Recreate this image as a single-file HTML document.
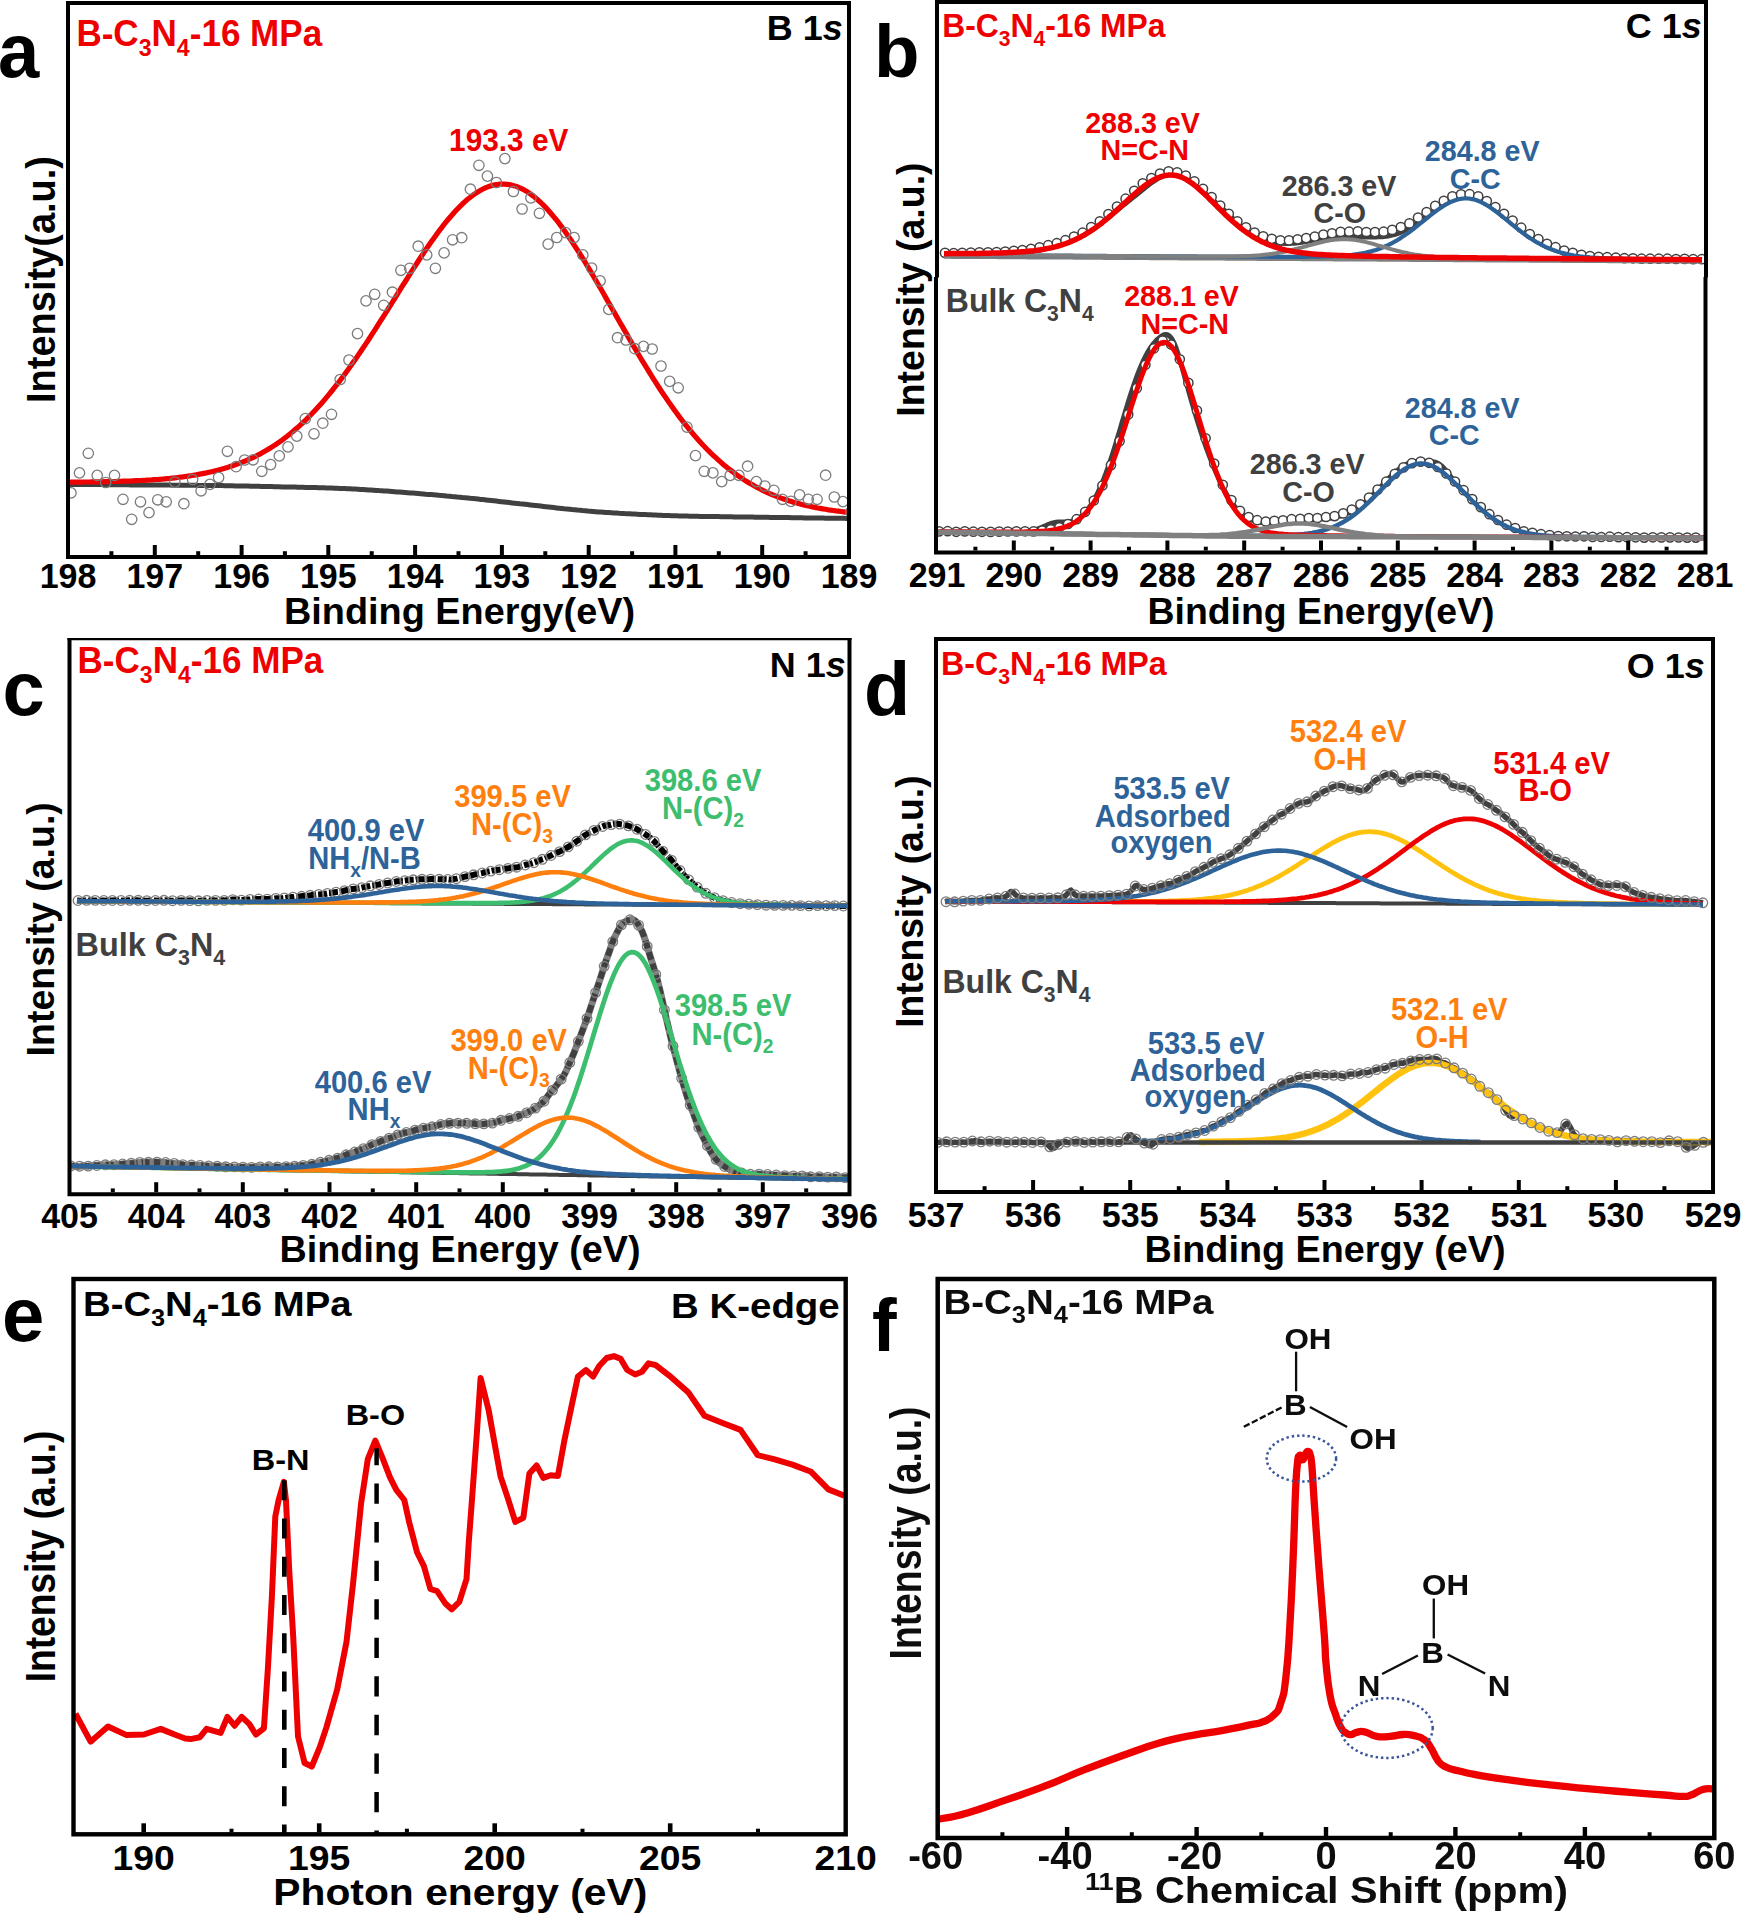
<!DOCTYPE html><html><head><meta charset="utf-8"><title>figure</title><style>html,body{margin:0;padding:0;background:#fff;width:1742px;height:1914px;overflow:hidden}svg{display:block}text{font-family:"Liberation Sans",sans-serif;font-weight:bold;white-space:pre}</style></head><body>
<svg width="1742" height="1914" viewBox="0 0 1742 1914">
<rect width="1742" height="1914" fill="#fff"/>
<clipPath id="ca"><rect x="68" y="3" width="781" height="554"/></clipPath><g clip-path="url(#ca)">
<path d="M68 484.5 L70.6 484.5 L73.2 484.5 L75.8 484.5 L78.4 484.5 L81.1 484.5 L83.7 484.5 L86.3 484.5 L88.9 484.6 L91.5 484.6 L94.1 484.6 L96.7 484.6 L99.3 484.6 L102 484.6 L104.6 484.7 L107.2 484.7 L109.8 484.7 L112.4 484.7 L115 484.7 L117.6 484.8 L120.2 484.8 L122.9 484.8 L125.5 484.8 L128.1 484.8 L130.7 484.9 L133.3 484.9 L135.9 484.9 L138.5 484.9 L141.1 484.9 L143.7 484.9 L146.4 485 L149 485 L151.6 485 L154.2 485 L156.8 485 L159.4 485.1 L162 485.1 L164.6 485.1 L167.3 485.1 L169.9 485.1 L172.5 485.2 L175.1 485.2 L177.7 485.2 L180.3 485.2 L182.9 485.2 L185.5 485.2 L188.2 485.3 L190.8 485.3 L193.4 485.3 L196 485.3 L198.6 485.4 L201.2 485.4 L203.8 485.4 L206.4 485.4 L209.1 485.5 L211.7 485.5 L214.3 485.5 L216.9 485.6 L219.5 485.6 L222.1 485.6 L224.7 485.7 L227.3 485.7 L229.9 485.8 L232.6 485.8 L235.2 485.9 L237.8 485.9 L240.4 486 L243 486 L245.6 486.1 L248.2 486.1 L250.8 486.2 L253.5 486.2 L256.1 486.3 L258.7 486.3 L261.3 486.4 L263.9 486.5 L266.5 486.5 L269.1 486.6 L271.7 486.6 L274.4 486.7 L277 486.7 L279.6 486.8 L282.2 486.9 L284.8 486.9 L287.4 487 L290 487 L292.6 487.1 L295.2 487.1 L297.9 487.2 L300.5 487.3 L303.1 487.3 L305.7 487.4 L308.3 487.4 L310.9 487.5 L313.5 487.6 L316.1 487.6 L318.8 487.7 L321.4 487.7 L324 487.8 L326.6 487.9 L329.2 488 L331.8 488.1 L334.4 488.2 L337 488.3 L339.7 488.4 L342.3 488.5 L344.9 488.6 L347.5 488.7 L350.1 488.8 L352.7 489 L355.3 489.1 L357.9 489.2 L360.5 489.4 L363.2 489.5 L365.8 489.7 L368.4 489.9 L371 490 L373.6 490.2 L376.2 490.4 L378.8 490.6 L381.4 490.7 L384.1 490.9 L386.7 491.1 L389.3 491.3 L391.9 491.5 L394.5 491.7 L397.1 491.9 L399.7 492.1 L402.3 492.3 L405 492.5 L407.6 492.7 L410.2 492.9 L412.8 493.1 L415.4 493.3 L418 493.5 L420.6 493.7 L423.2 493.9 L425.8 494.2 L428.5 494.4 L431.1 494.6 L433.7 494.8 L436.3 495 L438.9 495.3 L441.5 495.5 L444.1 495.7 L446.7 496 L449.4 496.2 L452 496.5 L454.6 496.7 L457.2 497 L459.8 497.2 L462.4 497.5 L465 497.7 L467.6 498 L470.3 498.3 L472.9 498.5 L475.5 498.8 L478.1 499.1 L480.7 499.4 L483.3 499.6 L485.9 499.9 L488.5 500.2 L491.2 500.5 L493.8 500.8 L496.4 501.1 L499 501.4 L501.6 501.7 L504.2 502 L506.8 502.3 L509.4 502.6 L512 502.9 L514.7 503.2 L517.3 503.5 L519.9 503.8 L522.5 504 L525.1 504.3 L527.7 504.6 L530.3 504.9 L532.9 505.2 L535.6 505.5 L538.2 505.8 L540.8 506.1 L543.4 506.4 L546 506.7 L548.6 507 L551.2 507.3 L553.8 507.6 L556.5 507.9 L559.1 508.2 L561.7 508.5 L564.3 508.8 L566.9 509 L569.5 509.3 L572.1 509.6 L574.7 509.8 L577.3 510.1 L580 510.3 L582.6 510.6 L585.2 510.8 L587.8 511.1 L590.4 511.3 L593 511.5 L595.6 511.7 L598.2 511.9 L600.9 512.1 L603.5 512.3 L606.1 512.5 L608.7 512.6 L611.3 512.8 L613.9 513 L616.5 513.1 L619.1 513.3 L621.8 513.4 L624.4 513.6 L627 513.7 L629.6 513.8 L632.2 514 L634.8 514.1 L637.4 514.2 L640 514.4 L642.6 514.5 L645.3 514.6 L647.9 514.7 L650.5 514.8 L653.1 515 L655.7 515.1 L658.3 515.2 L660.9 515.3 L663.5 515.4 L666.2 515.5 L668.8 515.6 L671.4 515.7 L674 515.7 L676.6 515.8 L679.2 515.9 L681.8 516 L684.4 516 L687.1 516.1 L689.7 516.2 L692.3 516.2 L694.9 516.3 L697.5 516.3 L700.1 516.4 L702.7 516.4 L705.3 516.5 L707.9 516.5 L710.6 516.5 L713.2 516.6 L715.8 516.6 L718.4 516.6 L721 516.7 L723.6 516.7 L726.2 516.8 L728.8 516.8 L731.5 516.8 L734.1 516.9 L736.7 516.9 L739.3 516.9 L741.9 517 L744.5 517 L747.1 517.1 L749.7 517.1 L752.4 517.1 L755 517.2 L757.6 517.2 L760.2 517.2 L762.8 517.3 L765.4 517.3 L768 517.3 L770.6 517.4 L773.3 517.4 L775.9 517.5 L778.5 517.5 L781.1 517.5 L783.7 517.6 L786.3 517.6 L788.9 517.6 L791.5 517.7 L794.1 517.7 L796.8 517.8 L799.4 517.8 L802 517.8 L804.6 517.9 L807.2 517.9 L809.8 517.9 L812.4 518 L815 518 L817.7 518.1 L820.3 518.1 L822.9 518.1 L825.5 518.2 L828.1 518.2 L830.7 518.2 L833.3 518.2 L835.9 518.3 L838.6 518.3 L841.2 518.3 L843.8 518.3 L846.4 518.4 L849 518.4" fill="none" stroke="#404040" stroke-width="5" stroke-linejoin="round" />
<path d="M68 482.2 L70.6 482.2 L73.2 482.2 L75.8 482.1 L78.4 482.1 L81.1 482.1 L83.7 482 L86.3 482 L88.9 482 L91.5 481.9 L94.1 481.9 L96.7 481.8 L99.3 481.8 L102 481.8 L104.6 481.7 L107.2 481.7 L109.8 481.6 L112.4 481.5 L115 481.5 L117.6 481.4 L120.2 481.3 L122.9 481.2 L125.5 481.1 L128.1 481.1 L130.7 481 L133.3 480.8 L135.9 480.7 L138.5 480.6 L141.1 480.5 L143.7 480.3 L146.4 480.2 L149 480 L151.6 479.9 L154.2 479.7 L156.8 479.5 L159.4 479.3 L162 479.1 L164.6 478.9 L167.3 478.6 L169.9 478.4 L172.5 478.1 L175.1 477.8 L177.7 477.5 L180.3 477.2 L182.9 476.9 L185.5 476.5 L188.2 476.1 L190.8 475.7 L193.4 475.3 L196 474.9 L198.6 474.4 L201.2 473.9 L203.8 473.4 L206.4 472.9 L209.1 472.3 L211.7 471.7 L214.3 471.1 L216.9 470.4 L219.5 469.7 L222.1 469 L224.7 468.3 L227.3 467.5 L229.9 466.6 L232.6 465.8 L235.2 464.9 L237.8 463.9 L240.4 462.9 L243 461.9 L245.6 460.8 L248.2 459.7 L250.8 458.5 L253.5 457.3 L256.1 456 L258.7 454.6 L261.3 453.3 L263.9 451.8 L266.5 450.3 L269.1 448.7 L271.7 447.1 L274.4 445.4 L277 443.7 L279.6 441.9 L282.2 440 L284.8 438 L287.4 436 L290 433.9 L292.6 431.8 L295.2 429.6 L297.9 427.3 L300.5 424.9 L303.1 422.5 L305.7 420 L308.3 417.4 L310.9 414.7 L313.5 412 L316.1 409.2 L318.8 406.3 L321.4 403.4 L324 400.4 L326.6 397.3 L329.2 394.2 L331.8 391 L334.4 387.7 L337 384.4 L339.7 381 L342.3 377.5 L344.9 374 L347.5 370.4 L350.1 366.8 L352.7 363.1 L355.3 359.4 L357.9 355.6 L360.5 351.7 L363.2 347.8 L365.8 343.9 L368.4 340 L371 335.9 L373.6 331.9 L376.2 327.8 L378.8 323.7 L381.4 319.6 L384.1 315.5 L386.7 311.3 L389.3 307.2 L391.9 303 L394.5 298.8 L397.1 294.6 L399.7 290.4 L402.3 286.2 L405 282 L407.6 277.9 L410.2 273.7 L412.8 269.6 L415.4 265.6 L418 261.5 L420.6 257.5 L423.2 253.6 L425.8 249.7 L428.5 245.8 L431.1 242.1 L433.7 238.4 L436.3 234.8 L438.9 231.2 L441.5 227.8 L444.1 224.4 L446.7 221.2 L449.4 218 L452 215 L454.6 212.1 L457.2 209.3 L459.8 206.6 L462.4 204 L465 201.6 L467.6 199.3 L470.3 197.2 L472.9 195.2 L475.5 193.4 L478.1 191.7 L480.7 190.2 L483.3 188.8 L485.9 187.6 L488.5 186.6 L491.2 185.8 L493.8 185.1 L496.4 184.6 L499 184.2 L501.6 184.1 L504.2 184.1 L506.8 184.3 L509.4 184.6 L512 185.2 L514.7 185.9 L517.3 186.8 L519.9 187.9 L522.5 189.1 L525.1 190.6 L527.7 192.1 L530.3 193.9 L532.9 195.8 L535.6 197.9 L538.2 200.2 L540.8 202.6 L543.4 205.1 L546 207.8 L548.6 210.7 L551.2 213.7 L553.8 216.8 L556.5 220 L559.1 223.4 L561.7 226.9 L564.3 230.5 L566.9 234.2 L569.5 238 L572.1 241.8 L574.7 245.8 L577.3 249.9 L580 254 L582.6 258.2 L585.2 262.4 L587.8 266.8 L590.4 271.1 L593 275.5 L595.6 280 L598.2 284.5 L600.9 289 L603.5 293.5 L606.1 298.1 L608.7 302.7 L611.3 307.3 L613.9 311.8 L616.5 316.4 L619.1 321 L621.8 325.6 L624.4 330.1 L627 334.6 L629.6 339.2 L632.2 343.7 L634.8 348.1 L637.4 352.6 L640 357 L642.6 361.3 L645.3 365.6 L647.9 369.9 L650.5 374.1 L653.1 378.3 L655.7 382.4 L658.3 386.5 L660.9 390.5 L663.5 394.4 L666.2 398.3 L668.8 402.1 L671.4 405.8 L674 409.5 L676.6 413.1 L679.2 416.6 L681.8 420 L684.4 423.4 L687.1 426.7 L689.7 429.9 L692.3 433 L694.9 436.1 L697.5 439 L700.1 441.9 L702.7 444.8 L705.3 447.5 L707.9 450.2 L710.6 452.8 L713.2 455.3 L715.8 457.7 L718.4 460.1 L721 462.4 L723.6 464.7 L726.2 466.8 L728.8 468.9 L731.5 470.9 L734.1 472.9 L736.7 474.8 L739.3 476.6 L741.9 478.4 L744.5 480.1 L747.1 481.7 L749.7 483.3 L752.4 484.8 L755 486.3 L757.6 487.7 L760.2 489 L762.8 490.3 L765.4 491.6 L768 492.8 L770.6 494 L773.3 495.1 L775.9 496.1 L778.5 497.1 L781.1 498.1 L783.7 499 L786.3 499.9 L788.9 500.8 L791.5 501.6 L794.1 502.4 L796.8 503.1 L799.4 503.8 L802 504.5 L804.6 505.1 L807.2 505.8 L809.8 506.3 L812.4 506.9 L815 507.4 L817.7 508 L820.3 508.4 L822.9 508.9 L825.5 509.3 L828.1 509.8 L830.7 510.1 L833.3 510.5 L835.9 510.9 L838.6 511.2 L841.2 511.5 L843.8 511.8 L846.4 512.1 L849 512.4" fill="none" stroke="#ee0000" stroke-width="5.2" stroke-linejoin="round" />
<g fill="none" stroke="#7c7c7c" stroke-width="1.3"><circle cx="71" cy="492.9" r="5.2"/><circle cx="79.5" cy="472.9" r="5.2"/><circle cx="88.3" cy="453.3" r="5.2"/><circle cx="97.2" cy="475.4" r="5.2"/><circle cx="105.7" cy="482.5" r="5.2"/><circle cx="114.5" cy="475.4" r="5.2"/><circle cx="123" cy="499.3" r="5.2"/><circle cx="131.7" cy="519.3" r="5.2"/><circle cx="140.5" cy="501.8" r="5.2"/><circle cx="149" cy="512.6" r="5.2"/><circle cx="157.7" cy="499.8" r="5.2"/><circle cx="166.2" cy="501.8" r="5.2"/><circle cx="174.9" cy="482.1" r="5.2"/><circle cx="183.9" cy="503.7" r="5.2"/><circle cx="192.6" cy="479.5" r="5.2"/><circle cx="201.1" cy="490.8" r="5.2"/><circle cx="209.9" cy="484.4" r="5.2"/><circle cx="218.6" cy="477.5" r="5.2"/><circle cx="227.4" cy="451.3" r="5.2"/><circle cx="236.1" cy="466.7" r="5.2"/><circle cx="244.6" cy="460" r="5.2"/><circle cx="253.1" cy="459.8" r="5.2"/><circle cx="261.8" cy="471.3" r="5.2"/><circle cx="270.6" cy="464.6" r="5.2"/><circle cx="279.3" cy="455.9" r="5.2"/><circle cx="288" cy="446.9" r="5.2"/><circle cx="296.8" cy="436.1" r="5.2"/><circle cx="305.3" cy="418.6" r="5.2"/><circle cx="314" cy="433.8" r="5.2"/><circle cx="322.8" cy="423.2" r="5.2"/><circle cx="331.5" cy="414.3" r="5.2"/><circle cx="340.2" cy="379.5" r="5.2"/><circle cx="349" cy="360" r="5.2"/><circle cx="357.5" cy="333.6" r="5.2"/><circle cx="366" cy="300.9" r="5.2"/><circle cx="374.7" cy="294.3" r="5.2"/><circle cx="383.7" cy="305.3" r="5.2"/><circle cx="392.4" cy="292.2" r="5.2"/><circle cx="400.9" cy="270.3" r="5.2"/><circle cx="409.7" cy="268.3" r="5.2"/><circle cx="418.2" cy="246.2" r="5.2"/><circle cx="426.7" cy="254.9" r="5.2"/><circle cx="435.4" cy="268.3" r="5.2"/><circle cx="444.1" cy="252.9" r="5.2"/><circle cx="452.6" cy="239.8" r="5.2"/><circle cx="461.7" cy="237.7" r="5.2"/><circle cx="470.4" cy="189.2" r="5.2"/><circle cx="478.9" cy="165.3" r="5.2"/><circle cx="487.4" cy="176.1" r="5.2"/><circle cx="496.4" cy="182.5" r="5.2"/><circle cx="504.9" cy="158.6" r="5.2"/><circle cx="513.4" cy="191.5" r="5.2"/><circle cx="522.1" cy="209" r="5.2"/><circle cx="530.9" cy="197.9" r="5.2"/><circle cx="539.4" cy="213.3" r="5.2"/><circle cx="548.1" cy="244.1" r="5.2"/><circle cx="556.8" cy="237.5" r="5.2"/><circle cx="565.6" cy="232.6" r="5.2"/><circle cx="574.1" cy="237.5" r="5.2"/><circle cx="582.8" cy="254.9" r="5.2"/><circle cx="591.6" cy="268" r="5.2"/><circle cx="600.1" cy="280.9" r="5.2"/><circle cx="608.8" cy="309.4" r="5.2"/><circle cx="617.5" cy="337.7" r="5.2"/><circle cx="626" cy="340" r="5.2"/><circle cx="634.8" cy="348.7" r="5.2"/><circle cx="643.5" cy="346.4" r="5.2"/><circle cx="652.2" cy="349" r="5.2"/><circle cx="661" cy="366" r="5.2"/><circle cx="669.7" cy="381.4" r="5.2"/><circle cx="678.2" cy="387.8" r="5.2"/><circle cx="687" cy="427.1" r="5.2"/><circle cx="695.5" cy="455.6" r="5.2"/><circle cx="704.2" cy="471.3" r="5.2"/><circle cx="712.9" cy="472.9" r="5.2"/><circle cx="721.7" cy="481.6" r="5.2"/><circle cx="730.2" cy="475.4" r="5.2"/><circle cx="738.9" cy="475.4" r="5.2"/><circle cx="747.6" cy="466.2" r="5.2"/><circle cx="756.4" cy="481.6" r="5.2"/><circle cx="764.9" cy="486" r="5.2"/><circle cx="773.9" cy="490.3" r="5.2"/><circle cx="782.4" cy="499.3" r="5.2"/><circle cx="790.9" cy="501.4" r="5.2"/><circle cx="799.6" cy="494.9" r="5.2"/><circle cx="808.3" cy="499.3" r="5.2"/><circle cx="817.1" cy="499.3" r="5.2"/><circle cx="825.6" cy="475.2" r="5.2"/><circle cx="834.3" cy="497" r="5.2"/><circle cx="843" cy="501.6" r="5.2"/><circle cx="850.9" cy="512" r="5.2"/></g>
</g>
<rect x="68" y="3" width="781" height="554" fill="none" stroke="#000" stroke-width="4"/>
<g stroke="#000" stroke-width="4"><line x1="154.8" y1="555" x2="154.8" y2="545"/><line x1="241.6" y1="555" x2="241.6" y2="545"/><line x1="328.3" y1="555" x2="328.3" y2="545"/><line x1="415.1" y1="555" x2="415.1" y2="545"/><line x1="501.9" y1="555" x2="501.9" y2="545"/><line x1="588.7" y1="555" x2="588.7" y2="545"/><line x1="675.4" y1="555" x2="675.4" y2="545"/><line x1="762.2" y1="555" x2="762.2" y2="545"/></g>
<g stroke="#000" stroke-width="4"><line x1="111.4" y1="555" x2="111.4" y2="551.2"/><line x1="198.2" y1="555" x2="198.2" y2="551.2"/><line x1="284.9" y1="555" x2="284.9" y2="551.2"/><line x1="371.7" y1="555" x2="371.7" y2="551.2"/><line x1="458.5" y1="555" x2="458.5" y2="551.2"/><line x1="545.3" y1="555" x2="545.3" y2="551.2"/><line x1="632.1" y1="555" x2="632.1" y2="551.2"/><line x1="718.8" y1="555" x2="718.8" y2="551.2"/><line x1="805.6" y1="555" x2="805.6" y2="551.2"/></g>
<text transform="translate(68 587.8) scale(0.9524 1)" font-size="35.7" fill="#000" text-anchor="middle" >198</text>
<text transform="translate(154.8 587.8) scale(0.9524 1)" font-size="35.7" fill="#000" text-anchor="middle" >197</text>
<text transform="translate(241.6 587.8) scale(0.9524 1)" font-size="35.7" fill="#000" text-anchor="middle" >196</text>
<text transform="translate(328.3 587.8) scale(0.9524 1)" font-size="35.7" fill="#000" text-anchor="middle" >195</text>
<text transform="translate(415.1 587.8) scale(0.9524 1)" font-size="35.7" fill="#000" text-anchor="middle" >194</text>
<text transform="translate(501.9 587.8) scale(0.9524 1)" font-size="35.7" fill="#000" text-anchor="middle" >193</text>
<text transform="translate(588.7 587.8) scale(0.9524 1)" font-size="35.7" fill="#000" text-anchor="middle" >192</text>
<text transform="translate(675.4 587.8) scale(0.9524 1)" font-size="35.7" fill="#000" text-anchor="middle" >191</text>
<text transform="translate(762.2 587.8) scale(0.9524 1)" font-size="35.7" fill="#000" text-anchor="middle" >190</text>
<text transform="translate(849 587.8) scale(0.9524 1)" font-size="35.7" fill="#000" text-anchor="middle" >189</text>
<text transform="translate(459.5 623.8) scale(0.9524 1)" font-size="37.6" fill="#000" text-anchor="middle" textLength="368.6" lengthAdjust="spacingAndGlyphs" >Binding Energy(eV)</text>
<text transform="translate(54.5 279.5) rotate(-90) scale(0.9524 1)" font-size="39.9" fill="#000" text-anchor="middle" >Intensity(a.u.)</text>
<text transform="translate(-2 77.3) scale(0.9700 1)" font-size="76.5" fill="#000" text-anchor="start" >a</text>
<text transform="translate(76.4 46.4) scale(0.9524 1)" font-size="36.8" fill="#ee0000" text-anchor="start" >B-C<tspan font-size="24.3" dy="9.9">3</tspan><tspan dy="-9.9">N</tspan><tspan font-size="24.3" dy="9.9">4</tspan><tspan dy="-9.9">-16 MPa</tspan></text>
<text transform="translate(842.7 40) scale(1.0048 1)" font-size="35.8" fill="#000" text-anchor="end" >B 1<tspan font-style="italic">s</tspan></text>
<text transform="translate(508.7 151) scale(0.9524 1)" font-size="31.3" fill="#ee0000" text-anchor="middle" >193.3 eV</text>
<clipPath id="cb"><rect x="937" y="2" width="768" height="550.5"/></clipPath><g clip-path="url(#cb)">
<path d="M944 253.6 L946 253.6 L948 253.6 L950 253.6 L952 253.5 L954 253.5 L956 253.5 L958 253.5 L960 253.5 L962 253.5 L964 253.4 L966 253.4 L968 253.4 L970 253.4 L972 253.4 L974 253.3 L976 253.3 L978 253.3 L980 253.3 L982 253.2 L984 253.2 L986 253.2 L988 253.1 L990 253.1 L992 253 L994 253 L996 252.9 L998 252.9 L1000 252.8 L1002 252.7 L1004 252.7 L1006 252.6 L1008 252.5 L1010 252.4 L1012 252.3 L1014 252.2 L1016 252.1 L1018 252 L1020 251.8 L1022 251.7 L1024 251.5 L1026 251.4 L1028 251.2 L1030 251 L1032 250.8 L1034 250.5 L1036 250.3 L1038 250 L1040 249.7 L1042 249.4 L1044 249.1 L1046 248.7 L1048 248.3 L1050 247.9 L1052 247.4 L1054 247 L1056 246.4 L1058 245.9 L1060 245.3 L1062 244.7 L1064 244 L1066 243.3 L1068 242.6 L1070 241.8 L1072 241 L1074 240.1 L1076 239.2 L1078 238.2 L1080 237.2 L1082 236.1 L1084 235 L1086 233.8 L1088 232.6 L1090 231.3 L1092 230 L1094 228.6 L1096 227.2 L1098 225.7 L1100 224.3 L1102 222.7 L1104 221.2 L1106 219.6 L1108 218 L1110 216.3 L1112 214.7 L1114 213 L1116 211.4 L1118 209.8 L1120 208.2 L1122 206.6 L1124 205 L1126 203.4 L1128 201.8 L1130 200.2 L1132 198.6 L1134 197 L1136 195.4 L1138 193.8 L1140 192.2 L1142 190.5 L1144 188.9 L1146 187.3 L1148 185.7 L1150 184.1 L1152 182.7 L1154 181.3 L1156 180 L1158 178.8 L1160 177.8 L1162 176.9 L1164 176.2 L1166 175.6 L1168 175.2 L1170 175 L1172 174.9 L1174 175 L1176 175.3 L1178 175.8 L1180 176.4 L1182 177.1 L1184 178 L1186 179 L1188 180.2 L1190 181.4 L1192 182.8 L1194 184.2 L1196 185.7 L1198 187.3 L1200 188.9 L1202 190.5 L1204 192.1 L1206 193.8 L1208 195.5 L1210 197.2 L1212 198.9 L1214 200.6 L1216 202.4 L1218 204.2 L1220 206 L1222 207.8 L1224 209.6 L1226 211.5 L1228 213.4 L1230 215.4 L1232 217.3 L1234 219.2 L1236 221.2 L1238 223 L1240 224.8 L1242 226.6 L1244 228.3 L1246 229.8 L1248 231.3 L1250 232.7 L1252 234.1 L1254 235.3 L1256 236.4 L1258 237.4 L1260 238.3 L1262 239.2 L1264 240 L1266 240.6 L1268 241.3 L1270 241.8 L1272 242.3 L1274 242.7 L1276 243 L1278 243.3 L1280 243.5 L1282 243.6 L1284 243.7 L1286 243.7 L1288 243.7 L1290 243.6 L1292 243.5 L1294 243.4 L1296 243.2 L1298 242.9 L1300 242.7 L1302 242.4 L1304 242.1 L1306 241.7 L1308 241.4 L1310 241 L1312 240.7 L1314 240.3 L1316 239.9 L1318 239.6 L1320 239.3 L1322 239 L1324 238.7 L1326 238.4 L1328 238.1 L1330 237.9 L1332 237.7 L1334 237.5 L1336 237.4 L1338 237.3 L1340 237.2 L1342 237.1 L1344 237.1 L1346 237 L1348 237 L1350 237 L1352 237 L1354 237 L1356 237.1 L1358 237.1 L1360 237.1 L1362 237.2 L1364 237.2 L1366 237.2 L1368 237.2 L1370 237.3 L1372 237.3 L1374 237.2 L1376 237.2 L1378 237.1 L1380 237 L1382 236.9 L1384 236.7 L1386 236.5 L1388 236.2 L1390 235.8 L1392 235.4 L1394 234.9 L1396 234.3 L1398 233.6 L1400 232.9 L1402 232 L1404 231.1 L1406 230.1 L1408 229 L1410 227.8 L1412 226.6 L1414 225.3 L1416 224 L1418 222.6 L1420 221.1 L1422 219.7 L1424 218.2 L1426 216.7 L1428 215.2 L1430 213.7 L1432 212.2 L1434 210.7 L1436 209.3 L1438 207.9 L1440 206.6 L1442 205.3 L1444 204.1 L1446 203 L1448 201.9 L1450 201 L1452 200.1 L1454 199.4 L1456 198.8 L1458 198.2 L1460 197.8 L1462 197.6 L1464 197.4 L1466 197.4 L1468 197.5 L1470 197.7 L1472 198.1 L1474 198.6 L1476 199.2 L1478 199.9 L1480 200.8 L1482 201.7 L1484 202.8 L1486 203.9 L1488 205.1 L1490 206.4 L1492 207.8 L1494 209.2 L1496 210.7 L1498 212.3 L1500 213.8 L1502 215.4 L1504 217.1 L1506 218.7 L1508 220.4 L1510 222 L1512 223.7 L1514 225.3 L1516 226.9 L1518 228.5 L1520 230.1 L1522 231.6 L1524 233.1 L1526 234.6 L1528 236 L1530 237.4 L1532 238.7 L1534 240 L1536 241.2 L1538 242.4 L1540 243.5 L1542 244.6 L1544 245.6 L1546 246.5 L1548 247.4 L1550 248.3 L1552 249.1 L1554 249.8 L1556 250.5 L1558 251.2 L1560 251.8 L1562 252.4 L1564 252.9 L1566 253.4 L1568 253.9 L1570 254.3 L1572 254.7 L1574 255 L1576 255.3 L1578 255.6 L1580 255.9 L1582 256.2 L1584 256.4 L1586 256.6 L1588 256.8 L1590 257 L1592 257.1 L1594 257.3 L1596 257.4 L1598 257.5 L1600 257.6 L1602 257.7 L1604 257.8 L1606 257.9 L1608 258 L1610 258.1 L1612 258.1 L1614 258.2 L1616 258.3 L1618 258.3 L1620 258.4 L1622 258.4 L1624 258.5 L1626 258.5 L1628 258.5 L1630 258.6 L1632 258.6 L1634 258.6 L1636 258.7 L1638 258.7 L1640 258.7 L1642 258.8 L1644 258.8 L1646 258.8 L1648 258.9 L1650 258.9 L1652 258.9 L1654 258.9 L1656 259 L1658 259 L1660 259 L1662 259 L1664 259.1 L1666 259.1 L1668 259.1 L1670 259.1 L1672 259.1 L1674 259.2 L1676 259.2 L1678 259.2 L1680 259.2 L1682 259.3 L1684 259.3 L1686 259.3 L1688 259.3 L1690 259.3 L1692 259.4 L1694 259.4 L1696 259.4 L1698 259.4 L1700 259.4 L1702 259.5" fill="none" stroke="#404040" stroke-width="4.5" stroke-linejoin="round" />
<g fill="#fff" stroke="#404040" stroke-width="1.5"><circle cx="945" cy="252.9" r="4.6"/><circle cx="953.6" cy="253.1" r="4.6"/><circle cx="962.2" cy="252.8" r="4.6"/><circle cx="970.8" cy="252.6" r="4.6"/><circle cx="979.4" cy="252.4" r="4.6"/><circle cx="988" cy="252.3" r="4.6"/><circle cx="996.6" cy="252" r="4.6"/><circle cx="1005.2" cy="251.6" r="4.6"/><circle cx="1013.8" cy="250.9" r="4.6"/><circle cx="1022.4" cy="250" r="4.6"/><circle cx="1031" cy="248.8" r="4.6"/><circle cx="1039.6" cy="247.4" r="4.6"/><circle cx="1048.2" cy="245.2" r="4.6"/><circle cx="1056.8" cy="243.2" r="4.6"/><circle cx="1065.4" cy="240.2" r="4.6"/><circle cx="1074" cy="236.6" r="4.6"/><circle cx="1082.6" cy="232.7" r="4.6"/><circle cx="1091.2" cy="227.1" r="4.6"/><circle cx="1099.8" cy="221.3" r="4.6"/><circle cx="1108.4" cy="214.1" r="4.6"/><circle cx="1117" cy="206.5" r="4.6"/><circle cx="1125.6" cy="198.7" r="4.6"/><circle cx="1134.2" cy="190.8" r="4.6"/><circle cx="1142.8" cy="183.4" r="4.6"/><circle cx="1151.4" cy="178" r="4.6"/><circle cx="1160" cy="173.5" r="4.6"/><circle cx="1168.6" cy="171.3" r="4.6"/><circle cx="1177.2" cy="172.3" r="4.6"/><circle cx="1185.8" cy="175.6" r="4.6"/><circle cx="1194.4" cy="181.4" r="4.6"/><circle cx="1203" cy="188.8" r="4.6"/><circle cx="1211.6" cy="197.1" r="4.6"/><circle cx="1220.2" cy="205.6" r="4.6"/><circle cx="1228.8" cy="213.8" r="4.6"/><circle cx="1237.4" cy="221.3" r="4.6"/><circle cx="1246" cy="227.3" r="4.6"/><circle cx="1254.6" cy="232.6" r="4.6"/><circle cx="1263.2" cy="236.3" r="4.6"/><circle cx="1271.8" cy="238.8" r="4.6"/><circle cx="1280.4" cy="240.3" r="4.6"/><circle cx="1289" cy="240.4" r="4.6"/><circle cx="1297.6" cy="239.3" r="4.6"/><circle cx="1306.2" cy="238.1" r="4.6"/><circle cx="1314.8" cy="236.6" r="4.6"/><circle cx="1323.4" cy="234.5" r="4.6"/><circle cx="1332" cy="233.3" r="4.6"/><circle cx="1340.6" cy="231.9" r="4.6"/><circle cx="1349.2" cy="231.7" r="4.6"/><circle cx="1357.8" cy="231.3" r="4.6"/><circle cx="1366.4" cy="232" r="4.6"/><circle cx="1375" cy="232.1" r="4.6"/><circle cx="1383.6" cy="231.7" r="4.6"/><circle cx="1392.2" cy="229.9" r="4.6"/><circle cx="1400.8" cy="227.1" r="4.6"/><circle cx="1409.4" cy="223.4" r="4.6"/><circle cx="1418" cy="217.6" r="4.6"/><circle cx="1426.6" cy="212" r="4.6"/><circle cx="1435.2" cy="205.9" r="4.6"/><circle cx="1443.8" cy="200.9" r="4.6"/><circle cx="1452.4" cy="196.4" r="4.6"/><circle cx="1461" cy="194.3" r="4.6"/><circle cx="1469.6" cy="194.2" r="4.6"/><circle cx="1478.2" cy="196.4" r="4.6"/><circle cx="1486.8" cy="201.1" r="4.6"/><circle cx="1495.4" cy="207" r="4.6"/><circle cx="1504" cy="213.8" r="4.6"/><circle cx="1512.6" cy="220.5" r="4.6"/><circle cx="1521.2" cy="227.7" r="4.6"/><circle cx="1529.8" cy="234.1" r="4.6"/><circle cx="1538.4" cy="239" r="4.6"/><circle cx="1547" cy="243.8" r="4.6"/><circle cx="1555.6" cy="247.2" r="4.6"/><circle cx="1564.2" cy="250.6" r="4.6"/><circle cx="1572.8" cy="252.8" r="4.6"/><circle cx="1581.4" cy="254.9" r="4.6"/><circle cx="1590" cy="256" r="4.6"/><circle cx="1598.6" cy="256.9" r="4.6"/><circle cx="1607.2" cy="257.2" r="4.6"/><circle cx="1615.8" cy="257.7" r="4.6"/><circle cx="1624.4" cy="258.2" r="4.6"/><circle cx="1633" cy="258.3" r="4.6"/><circle cx="1641.6" cy="258.7" r="4.6"/><circle cx="1650.2" cy="258.7" r="4.6"/><circle cx="1658.8" cy="258.7" r="4.6"/><circle cx="1667.4" cy="258.7" r="4.6"/><circle cx="1676" cy="259" r="4.6"/><circle cx="1684.6" cy="258.9" r="4.6"/><circle cx="1693.2" cy="259.2" r="4.6"/><circle cx="1701.8" cy="259.2" r="4.6"/></g>
<path d="M944 256.8 L946 256.8 L948 256.8 L950 256.8 L952 256.9 L954 256.9 L956 256.9 L958 256.9 L960 256.9 L962 256.9 L964 256.9 L966 256.9 L968 257 L970 257 L972 257 L974 257 L976 257 L978 257 L980 257 L982 257 L984 257.1 L986 257.1 L988 257.1 L990 257.1 L992 257.1 L994 257.1 L996 257.1 L998 257.2 L1000 257.2 L1002 257.2 L1004 257.2 L1006 257.2 L1008 257.2 L1010 257.2 L1012 257.2 L1014 257.3 L1016 257.3 L1018 257.3 L1020 257.3 L1022 257.3 L1024 257.3 L1026 257.3 L1028 257.4 L1030 257.4 L1032 257.4 L1034 257.4 L1036 257.4 L1038 257.4 L1040 257.4 L1042 257.4 L1044 257.5 L1046 257.5 L1048 257.5 L1050 257.5 L1052 257.5 L1054 257.5 L1056 257.5 L1058 257.5 L1060 257.6 L1062 257.6 L1064 257.6 L1066 257.6 L1068 257.6 L1070 257.6 L1072 257.6 L1074 257.7 L1076 257.7 L1078 257.7 L1080 257.7 L1082 257.7 L1084 257.7 L1086 257.7 L1088 257.7 L1090 257.8 L1092 257.8 L1094 257.8 L1096 257.8 L1098 257.8 L1100 257.8 L1102 257.8 L1104 257.9 L1106 257.9 L1108 257.9 L1110 257.9 L1112 257.9 L1114 257.9 L1116 257.9 L1118 257.9 L1120 258 L1122 258 L1124 258 L1126 258 L1128 258 L1130 258 L1132 258 L1134 258 L1136 258.1 L1138 258.1 L1140 258.1 L1142 258.1 L1144 258.1 L1146 258.1 L1148 258.1 L1150 258.2 L1152 258.2 L1154 258.2 L1156 258.2 L1158 258.2 L1160 258.2 L1162 258.2 L1164 258.2 L1166 258.3 L1168 258.3 L1170 258.3 L1172 258.3 L1174 258.3 L1176 258.3 L1178 258.3 L1180 258.4 L1182 258.4 L1184 258.4 L1186 258.4 L1188 258.4 L1190 258.4 L1192 258.4 L1194 258.4 L1196 258.5 L1198 258.5 L1200 258.5 L1202 258.5 L1204 258.5 L1206 258.5 L1208 258.5 L1210 258.5 L1212 258.6 L1214 258.6 L1216 258.6 L1218 258.6 L1220 258.6 L1222 258.6 L1224 258.6 L1226 258.7 L1228 258.7 L1230 258.7 L1232 258.7 L1234 258.7 L1236 258.7 L1238 258.7 L1240 258.7 L1242 258.8 L1244 258.8 L1246 258.8 L1248 258.8 L1250 258.8 L1252 258.8 L1254 258.8 L1256 258.8 L1258 258.9 L1260 258.9 L1262 258.9 L1264 258.9 L1266 258.9 L1268 258.9 L1270 258.9 L1272 259 L1274 259 L1276 259 L1278 259 L1280 259 L1282 259 L1284 259 L1286 259 L1288 259.1 L1290 259.1 L1292 259.1 L1294 259.1 L1296 259.1 L1298 259.1 L1300 259.1 L1302 259.2 L1304 259.2 L1306 259.2 L1308 259.2 L1310 259.2 L1312 259.2 L1314 259.2 L1316 259.2 L1318 259.3 L1320 259.3 L1322 259.3 L1324 259.3 L1326 259.3 L1328 259.3 L1330 259.3 L1332 259.3 L1334 259.4 L1336 259.4 L1338 259.4 L1340 259.4 L1342 259.4 L1344 259.4 L1346 259.4 L1348 259.5 L1350 259.5 L1352 259.5 L1354 259.5 L1356 259.5 L1358 259.5 L1360 259.5 L1362 259.5 L1364 259.6 L1366 259.6 L1368 259.6 L1370 259.6 L1372 259.6 L1374 259.6 L1376 259.6 L1378 259.7 L1380 259.7 L1382 259.7 L1384 259.7 L1386 259.7 L1388 259.7 L1390 259.7 L1392 259.7 L1394 259.8 L1396 259.8 L1398 259.8 L1400 259.8 L1402 259.8 L1404 259.8 L1406 259.8 L1408 259.8 L1410 259.9 L1412 259.9 L1414 259.9 L1416 259.9 L1418 259.9 L1420 259.9 L1422 259.9 L1424 260 L1426 260 L1428 260 L1430 260 L1432 260 L1434 260 L1436 260 L1438 260 L1440 260.1 L1442 260.1 L1444 260.1 L1446 260.1 L1448 260.1 L1450 260.1 L1452 260.1 L1454 260.2 L1456 260.2 L1458 260.2 L1460 260.2 L1462 260.2 L1464 260.2 L1466 260.2 L1468 260.2 L1470 260.3 L1472 260.3 L1474 260.3 L1476 260.3 L1478 260.3 L1480 260.3 L1482 260.3 L1484 260.3 L1486 260.4 L1488 260.4 L1490 260.4 L1492 260.4 L1494 260.4 L1496 260.4 L1498 260.4 L1500 260.5 L1502 260.5 L1504 260.5 L1506 260.5 L1508 260.5 L1510 260.5 L1512 260.5 L1514 260.5 L1516 260.6 L1518 260.6 L1520 260.6 L1522 260.6 L1524 260.6 L1526 260.6 L1528 260.6 L1530 260.7 L1532 260.7 L1534 260.7 L1536 260.7 L1538 260.7 L1540 260.7 L1542 260.7 L1544 260.7 L1546 260.8 L1548 260.8 L1550 260.8 L1552 260.8 L1554 260.8 L1556 260.8 L1558 260.8 L1560 260.8 L1562 260.9 L1564 260.9 L1566 260.9 L1568 260.9 L1570 260.9 L1572 260.9 L1574 260.9 L1576 261 L1578 261 L1580 261 L1582 261 L1584 261 L1586 261 L1588 261 L1590 261 L1592 261.1 L1594 261.1 L1596 261.1 L1598 261.1 L1600 261.1 L1602 261.1 L1604 261.1 L1606 261.1 L1608 261.2 L1610 261.2 L1612 261.2 L1614 261.2 L1616 261.2 L1618 261.2 L1620 261.2 L1622 261.3 L1624 261.3 L1626 261.3 L1628 261.3 L1630 261.3 L1632 261.3 L1634 261.3 L1636 261.3 L1638 261.4 L1640 261.4 L1642 261.4 L1644 261.4 L1646 261.4 L1648 261.4 L1650 261.4 L1652 261.5 L1654 261.5 L1656 261.5 L1658 261.5 L1660 261.5 L1662 261.5 L1664 261.5 L1666 261.5 L1668 261.6 L1670 261.6 L1672 261.6 L1674 261.6 L1676 261.6 L1678 261.6 L1680 261.6 L1682 261.6 L1684 261.7 L1686 261.7 L1688 261.7 L1690 261.7 L1692 261.7 L1694 261.7 L1696 261.7 L1698 261.8 L1700 261.8 L1702 261.8" fill="none" stroke="#808080" stroke-width="4" stroke-linejoin="round" />
<path d="M944 254.9 L946 255 L948 255 L950 255 L952 255 L954 255 L956 255 L958 255 L960 255 L962 255.1 L964 255.1 L966 255.1 L968 255.1 L970 255.1 L972 255.1 L974 255.1 L976 255.1 L978 255.2 L980 255.2 L982 255.2 L984 255.2 L986 255.2 L988 255.2 L990 255.2 L992 255.2 L994 255.3 L996 255.3 L998 255.3 L1000 255.3 L1002 255.3 L1004 255.3 L1006 255.3 L1008 255.3 L1010 255.4 L1012 255.4 L1014 255.4 L1016 255.4 L1018 255.4 L1020 255.4 L1022 255.4 L1024 255.4 L1026 255.5 L1028 255.5 L1030 255.5 L1032 255.5 L1034 255.5 L1036 255.5 L1038 255.5 L1040 255.5 L1042 255.6 L1044 255.6 L1046 255.6 L1048 255.6 L1050 255.6 L1052 255.6 L1054 255.6 L1056 255.6 L1058 255.7 L1060 255.7 L1062 255.7 L1064 255.7 L1066 255.7 L1068 255.7 L1070 255.7 L1072 255.7 L1074 255.8 L1076 255.8 L1078 255.8 L1080 255.8 L1082 255.8 L1084 255.8 L1086 255.8 L1088 255.8 L1090 255.8 L1092 255.9 L1094 255.9 L1096 255.9 L1098 255.9 L1100 255.9 L1102 255.9 L1104 255.9 L1106 255.9 L1108 256 L1110 256 L1112 256 L1114 256 L1116 256 L1118 256 L1120 256 L1122 256 L1124 256 L1126 256.1 L1128 256.1 L1130 256.1 L1132 256.1 L1134 256.1 L1136 256.1 L1138 256.1 L1140 256.1 L1142 256.2 L1144 256.2 L1146 256.2 L1148 256.2 L1150 256.2 L1152 256.2 L1154 256.2 L1156 256.2 L1158 256.2 L1160 256.3 L1162 256.3 L1164 256.3 L1166 256.3 L1168 256.3 L1170 256.3 L1172 256.3 L1174 256.3 L1176 256.3 L1178 256.4 L1180 256.4 L1182 256.4 L1184 256.4 L1186 256.4 L1188 256.4 L1190 256.4 L1192 256.4 L1194 256.4 L1196 256.4 L1198 256.5 L1200 256.5 L1202 256.5 L1204 256.5 L1206 256.5 L1208 256.5 L1210 256.5 L1212 256.5 L1214 256.5 L1216 256.5 L1218 256.6 L1220 256.6 L1222 256.6 L1224 256.6 L1226 256.6 L1228 256.6 L1230 256.6 L1232 256.6 L1234 256.6 L1236 256.6 L1238 256.6 L1240 256.6 L1242 256.7 L1244 256.7 L1246 256.7 L1248 256.7 L1250 256.7 L1252 256.7 L1254 256.7 L1256 256.7 L1258 256.7 L1260 256.7 L1262 256.7 L1264 256.7 L1266 256.7 L1268 256.7 L1270 256.8 L1272 256.8 L1274 256.8 L1276 256.8 L1278 256.8 L1280 256.8 L1282 256.8 L1284 256.8 L1286 256.8 L1288 256.8 L1290 256.8 L1292 256.8 L1294 256.8 L1296 256.8 L1298 256.8 L1300 256.8 L1302 256.8 L1304 256.8 L1306 256.7 L1308 256.7 L1310 256.7 L1312 256.7 L1314 256.7 L1316 256.7 L1318 256.6 L1320 256.6 L1322 256.6 L1324 256.5 L1326 256.5 L1328 256.4 L1330 256.4 L1332 256.3 L1334 256.2 L1336 256.1 L1338 256 L1340 255.9 L1342 255.8 L1344 255.6 L1346 255.5 L1348 255.3 L1350 255.1 L1352 254.9 L1354 254.6 L1356 254.3 L1358 254 L1360 253.7 L1362 253.4 L1364 253 L1366 252.6 L1368 252.1 L1370 251.6 L1372 251.1 L1374 250.5 L1376 249.9 L1378 249.2 L1380 248.5 L1382 247.7 L1384 246.9 L1386 246 L1388 245.1 L1390 244.1 L1392 243.1 L1394 242 L1396 240.9 L1398 239.7 L1400 238.4 L1402 237.1 L1404 235.8 L1406 234.4 L1408 233 L1410 231.5 L1412 230 L1414 228.5 L1416 226.9 L1418 225.3 L1420 223.7 L1422 222.1 L1424 220.5 L1426 218.9 L1428 217.3 L1430 215.7 L1432 214.1 L1434 212.6 L1436 211.1 L1438 209.6 L1440 208.2 L1442 206.9 L1444 205.6 L1446 204.4 L1448 203.3 L1450 202.3 L1452 201.4 L1454 200.7 L1456 200 L1458 199.4 L1460 199 L1462 198.7 L1464 198.5 L1466 198.4 L1468 198.5 L1470 198.7 L1472 199.1 L1474 199.5 L1476 200.1 L1478 200.8 L1480 201.6 L1482 202.6 L1484 203.6 L1486 204.7 L1488 205.9 L1490 207.2 L1492 208.6 L1494 210 L1496 211.5 L1498 213 L1500 214.6 L1502 216.2 L1504 217.8 L1506 219.4 L1508 221 L1510 222.7 L1512 224.3 L1514 226 L1516 227.6 L1518 229.2 L1520 230.7 L1522 232.3 L1524 233.7 L1526 235.2 L1528 236.6 L1530 238 L1532 239.3 L1534 240.6 L1536 241.8 L1538 242.9 L1540 244 L1542 245.1 L1544 246.1 L1546 247.1 L1548 248 L1550 248.8 L1552 249.6 L1554 250.3 L1556 251 L1558 251.7 L1560 252.3 L1562 252.9 L1564 253.4 L1566 253.9 L1568 254.3 L1570 254.7 L1572 255.1 L1574 255.5 L1576 255.8 L1578 256.1 L1580 256.4 L1582 256.6 L1584 256.8 L1586 257 L1588 257.2 L1590 257.4 L1592 257.5 L1594 257.7 L1596 257.8 L1598 257.9 L1600 258 L1602 258.1 L1604 258.2 L1606 258.3 L1608 258.4 L1610 258.5 L1612 258.5 L1614 258.6 L1616 258.6 L1618 258.7 L1620 258.7 L1622 258.8 L1624 258.8 L1626 258.9 L1628 258.9 L1630 258.9 L1632 259 L1634 259 L1636 259 L1638 259 L1640 259.1 L1642 259.1 L1644 259.1 L1646 259.1 L1648 259.2 L1650 259.2 L1652 259.2 L1654 259.2 L1656 259.3 L1658 259.3 L1660 259.3 L1662 259.3 L1664 259.3 L1666 259.4 L1668 259.4 L1670 259.4 L1672 259.4 L1674 259.4 L1676 259.5 L1678 259.5 L1680 259.5 L1682 259.5 L1684 259.5 L1686 259.6 L1688 259.6 L1690 259.6 L1692 259.6 L1694 259.6 L1696 259.7 L1698 259.7 L1700 259.7 L1702 259.7" fill="none" stroke="#2e6399" stroke-width="4.2" stroke-linejoin="round" />
<path d="M944 255 L946 255 L948 255 L950 255 L952 255 L954 255 L956 255.1 L958 255.1 L960 255.1 L962 255.1 L964 255.1 L966 255.1 L968 255.1 L970 255.1 L972 255.2 L974 255.2 L976 255.2 L978 255.2 L980 255.2 L982 255.2 L984 255.2 L986 255.2 L988 255.3 L990 255.3 L992 255.3 L994 255.3 L996 255.3 L998 255.3 L1000 255.3 L1002 255.3 L1004 255.4 L1006 255.4 L1008 255.4 L1010 255.4 L1012 255.4 L1014 255.4 L1016 255.4 L1018 255.5 L1020 255.5 L1022 255.5 L1024 255.5 L1026 255.5 L1028 255.5 L1030 255.5 L1032 255.5 L1034 255.6 L1036 255.6 L1038 255.6 L1040 255.6 L1042 255.6 L1044 255.6 L1046 255.6 L1048 255.6 L1050 255.7 L1052 255.7 L1054 255.7 L1056 255.7 L1058 255.7 L1060 255.7 L1062 255.7 L1064 255.7 L1066 255.8 L1068 255.8 L1070 255.8 L1072 255.8 L1074 255.8 L1076 255.8 L1078 255.8 L1080 255.8 L1082 255.9 L1084 255.9 L1086 255.9 L1088 255.9 L1090 255.9 L1092 255.9 L1094 255.9 L1096 255.9 L1098 256 L1100 256 L1102 256 L1104 256 L1106 256 L1108 256 L1110 256 L1112 256 L1114 256 L1116 256.1 L1118 256.1 L1120 256.1 L1122 256.1 L1124 256.1 L1126 256.1 L1128 256.1 L1130 256.1 L1132 256.2 L1134 256.2 L1136 256.2 L1138 256.2 L1140 256.2 L1142 256.2 L1144 256.2 L1146 256.2 L1148 256.2 L1150 256.3 L1152 256.3 L1154 256.3 L1156 256.3 L1158 256.3 L1160 256.3 L1162 256.3 L1164 256.3 L1166 256.3 L1168 256.4 L1170 256.4 L1172 256.4 L1174 256.4 L1176 256.4 L1178 256.4 L1180 256.4 L1182 256.4 L1184 256.4 L1186 256.4 L1188 256.5 L1190 256.5 L1192 256.5 L1194 256.5 L1196 256.5 L1198 256.5 L1200 256.5 L1202 256.5 L1204 256.5 L1206 256.5 L1208 256.5 L1210 256.5 L1212 256.5 L1214 256.5 L1216 256.5 L1218 256.5 L1220 256.5 L1222 256.5 L1224 256.5 L1226 256.5 L1228 256.5 L1230 256.4 L1232 256.4 L1234 256.4 L1236 256.3 L1238 256.3 L1240 256.3 L1242 256.2 L1244 256.1 L1246 256.1 L1248 256 L1250 255.9 L1252 255.8 L1254 255.7 L1256 255.5 L1258 255.4 L1260 255.2 L1262 255 L1264 254.8 L1266 254.6 L1268 254.4 L1270 254.1 L1272 253.9 L1274 253.6 L1276 253.3 L1278 252.9 L1280 252.6 L1282 252.2 L1284 251.8 L1286 251.4 L1288 250.9 L1290 250.5 L1292 250 L1294 249.5 L1296 249 L1298 248.5 L1300 247.9 L1302 247.4 L1304 246.8 L1306 246.3 L1308 245.7 L1310 245.1 L1312 244.6 L1314 244 L1316 243.5 L1318 243 L1320 242.5 L1322 242 L1324 241.5 L1326 241.1 L1328 240.7 L1330 240.3 L1332 240 L1334 239.8 L1336 239.5 L1338 239.4 L1340 239.2 L1342 239.2 L1344 239.1 L1346 239.2 L1348 239.2 L1350 239.4 L1352 239.6 L1354 239.8 L1356 240.1 L1358 240.4 L1360 240.8 L1362 241.2 L1364 241.6 L1366 242.1 L1368 242.6 L1370 243.1 L1372 243.6 L1374 244.2 L1376 244.8 L1378 245.4 L1380 245.9 L1382 246.5 L1384 247.1 L1386 247.7 L1388 248.3 L1390 248.8 L1392 249.4 L1394 249.9 L1396 250.5 L1398 251 L1400 251.5 L1402 252 L1404 252.4 L1406 252.8 L1408 253.3 L1410 253.7 L1412 254 L1414 254.4 L1416 254.7 L1418 255 L1420 255.3 L1422 255.6 L1424 255.8 L1426 256 L1428 256.2 L1430 256.4 L1432 256.6 L1434 256.8 L1436 256.9 L1438 257.1 L1440 257.2 L1442 257.3 L1444 257.4 L1446 257.5 L1448 257.6 L1450 257.7 L1452 257.7 L1454 257.8 L1456 257.9 L1458 257.9 L1460 258 L1462 258 L1464 258.1 L1466 258.1 L1468 258.1 L1470 258.2 L1472 258.2 L1474 258.2 L1476 258.3 L1478 258.3 L1480 258.3 L1482 258.3 L1484 258.4 L1486 258.4 L1488 258.4 L1490 258.4 L1492 258.4 L1494 258.5 L1496 258.5 L1498 258.5 L1500 258.5 L1502 258.5 L1504 258.5 L1506 258.6 L1508 258.6 L1510 258.6 L1512 258.6 L1514 258.6 L1516 258.6 L1518 258.7 L1520 258.7 L1522 258.7 L1524 258.7 L1526 258.7 L1528 258.7 L1530 258.7 L1532 258.8 L1534 258.8 L1536 258.8 L1538 258.8 L1540 258.8 L1542 258.8 L1544 258.9 L1546 258.9 L1548 258.9 L1550 258.9 L1552 258.9 L1554 258.9 L1556 258.9 L1558 259 L1560 259 L1562 259 L1564 259 L1566 259 L1568 259 L1570 259 L1572 259.1 L1574 259.1 L1576 259.1 L1578 259.1 L1580 259.1 L1582 259.1 L1584 259.1 L1586 259.2 L1588 259.2 L1590 259.2 L1592 259.2 L1594 259.2 L1596 259.2 L1598 259.2 L1600 259.3 L1602 259.3 L1604 259.3 L1606 259.3 L1608 259.3 L1610 259.3 L1612 259.3 L1614 259.4 L1616 259.4 L1618 259.4 L1620 259.4 L1622 259.4 L1624 259.4 L1626 259.4 L1628 259.4 L1630 259.5 L1632 259.5 L1634 259.5 L1636 259.5 L1638 259.5 L1640 259.5 L1642 259.5 L1644 259.6 L1646 259.6 L1648 259.6 L1650 259.6 L1652 259.6 L1654 259.6 L1656 259.6 L1658 259.7 L1660 259.7 L1662 259.7 L1664 259.7 L1666 259.7 L1668 259.7 L1670 259.7 L1672 259.7 L1674 259.8 L1676 259.8 L1678 259.8 L1680 259.8 L1682 259.8 L1684 259.8 L1686 259.8 L1688 259.9 L1690 259.9 L1692 259.9 L1694 259.9 L1696 259.9 L1698 259.9 L1700 259.9 L1702 260" fill="none" stroke="#808080" stroke-width="4" stroke-linejoin="round" />
<path d="M944 253.7 L946 253.7 L948 253.6 L950 253.6 L952 253.6 L954 253.6 L956 253.6 L958 253.6 L960 253.6 L962 253.6 L964 253.5 L966 253.5 L968 253.5 L970 253.5 L972 253.5 L974 253.4 L976 253.4 L978 253.4 L980 253.4 L982 253.3 L984 253.3 L986 253.3 L988 253.2 L990 253.2 L992 253.1 L994 253.1 L996 253 L998 253 L1000 252.9 L1002 252.9 L1004 252.8 L1006 252.7 L1008 252.6 L1010 252.5 L1012 252.4 L1014 252.3 L1016 252.2 L1018 252.1 L1020 252 L1022 251.8 L1024 251.7 L1026 251.5 L1028 251.3 L1030 251.1 L1032 250.9 L1034 250.7 L1036 250.4 L1038 250.1 L1040 249.9 L1042 249.5 L1044 249.2 L1046 248.8 L1048 248.4 L1050 248 L1052 247.6 L1054 247.1 L1056 246.6 L1058 246 L1060 245.5 L1062 244.8 L1064 244.2 L1066 243.5 L1068 242.7 L1070 241.9 L1072 241.1 L1074 240.2 L1076 239.3 L1078 238.3 L1080 237.3 L1082 236.2 L1084 235.1 L1086 233.9 L1088 232.7 L1090 231.5 L1092 230.1 L1094 228.8 L1096 227.4 L1098 225.9 L1100 224.4 L1102 222.8 L1104 221.2 L1106 219.6 L1108 217.9 L1110 216.2 L1112 214.5 L1114 212.7 L1116 210.9 L1118 209.1 L1120 207.3 L1122 205.4 L1124 203.6 L1126 201.8 L1128 199.9 L1130 198.1 L1132 196.3 L1134 194.5 L1136 192.8 L1138 191.1 L1140 189.4 L1142 187.8 L1144 186.2 L1146 184.8 L1148 183.4 L1150 182.1 L1152 180.8 L1154 179.7 L1156 178.7 L1158 177.8 L1160 177 L1162 176.3 L1164 175.8 L1166 175.4 L1168 175.1 L1170 175 L1172 175 L1174 175.2 L1176 175.5 L1178 176 L1180 176.6 L1182 177.4 L1184 178.4 L1186 179.4 L1188 180.6 L1190 181.9 L1192 183.3 L1194 184.8 L1196 186.4 L1198 188.1 L1200 189.9 L1202 191.7 L1204 193.5 L1206 195.4 L1208 197.4 L1210 199.4 L1212 201.3 L1214 203.3 L1216 205.3 L1218 207.3 L1220 209.3 L1222 211.3 L1224 213.2 L1226 215.2 L1228 217.1 L1230 218.9 L1232 220.7 L1234 222.5 L1236 224.2 L1238 225.9 L1240 227.5 L1242 229.1 L1244 230.6 L1246 232.1 L1248 233.5 L1250 234.8 L1252 236.1 L1254 237.3 L1256 238.5 L1258 239.6 L1260 240.7 L1262 241.7 L1264 242.6 L1266 243.5 L1268 244.4 L1270 245.2 L1272 246 L1274 246.7 L1276 247.3 L1278 247.9 L1280 248.5 L1282 249.1 L1284 249.6 L1286 250.1 L1288 250.5 L1290 250.9 L1292 251.3 L1294 251.6 L1296 252 L1298 252.3 L1300 252.6 L1302 252.8 L1304 253.1 L1306 253.3 L1308 253.5 L1310 253.7 L1312 253.9 L1314 254.1 L1316 254.2 L1318 254.4 L1320 254.5 L1322 254.6 L1324 254.7 L1326 254.9 L1328 255 L1330 255.1 L1332 255.2 L1334 255.2 L1336 255.3 L1338 255.4 L1340 255.5 L1342 255.5 L1344 255.6 L1346 255.7 L1348 255.7 L1350 255.8 L1352 255.9 L1354 255.9 L1356 256 L1358 256 L1360 256.1 L1362 256.1 L1364 256.2 L1366 256.2 L1368 256.3 L1370 256.3 L1372 256.3 L1374 256.4 L1376 256.4 L1378 256.5 L1380 256.5 L1382 256.5 L1384 256.6 L1386 256.6 L1388 256.6 L1390 256.7 L1392 256.7 L1394 256.7 L1396 256.8 L1398 256.8 L1400 256.8 L1402 256.9 L1404 256.9 L1406 256.9 L1408 257 L1410 257 L1412 257 L1414 257.1 L1416 257.1 L1418 257.1 L1420 257.1 L1422 257.2 L1424 257.2 L1426 257.2 L1428 257.3 L1430 257.3 L1432 257.3 L1434 257.3 L1436 257.4 L1438 257.4 L1440 257.4 L1442 257.4 L1444 257.5 L1446 257.5 L1448 257.5 L1450 257.5 L1452 257.6 L1454 257.6 L1456 257.6 L1458 257.6 L1460 257.7 L1462 257.7 L1464 257.7 L1466 257.7 L1468 257.7 L1470 257.8 L1472 257.8 L1474 257.8 L1476 257.8 L1478 257.9 L1480 257.9 L1482 257.9 L1484 257.9 L1486 257.9 L1488 258 L1490 258 L1492 258 L1494 258 L1496 258 L1498 258.1 L1500 258.1 L1502 258.1 L1504 258.1 L1506 258.1 L1508 258.2 L1510 258.2 L1512 258.2 L1514 258.2 L1516 258.2 L1518 258.3 L1520 258.3 L1522 258.3 L1524 258.3 L1526 258.3 L1528 258.3 L1530 258.4 L1532 258.4 L1534 258.4 L1536 258.4 L1538 258.4 L1540 258.5 L1542 258.5 L1544 258.5 L1546 258.5 L1548 258.5 L1550 258.5 L1552 258.6 L1554 258.6 L1556 258.6 L1558 258.6 L1560 258.6 L1562 258.7 L1564 258.7 L1566 258.7 L1568 258.7 L1570 258.7 L1572 258.7 L1574 258.8 L1576 258.8 L1578 258.8 L1580 258.8 L1582 258.8 L1584 258.8 L1586 258.9 L1588 258.9 L1590 258.9 L1592 258.9 L1594 258.9 L1596 258.9 L1598 259 L1600 259 L1602 259 L1604 259 L1606 259 L1608 259 L1610 259 L1612 259.1 L1614 259.1 L1616 259.1 L1618 259.1 L1620 259.1 L1622 259.1 L1624 259.2 L1626 259.2 L1628 259.2 L1630 259.2 L1632 259.2 L1634 259.2 L1636 259.3 L1638 259.3 L1640 259.3 L1642 259.3 L1644 259.3 L1646 259.3 L1648 259.3 L1650 259.4 L1652 259.4 L1654 259.4 L1656 259.4 L1658 259.4 L1660 259.4 L1662 259.5 L1664 259.5 L1666 259.5 L1668 259.5 L1670 259.5 L1672 259.5 L1674 259.5 L1676 259.6 L1678 259.6 L1680 259.6 L1682 259.6 L1684 259.6 L1686 259.6 L1688 259.7 L1690 259.7 L1692 259.7 L1694 259.7 L1696 259.7 L1698 259.7 L1700 259.7 L1702 259.8" fill="none" stroke="#ee0000" stroke-width="5.5" stroke-linejoin="round" />
<path d="M938 531.6 L940 531.6 L942 531.6 L944 531.5 L946 531.6 L948 531.6 L950 531.6 L952 531.6 L954 531.6 L956 531.6 L958 531.7 L960 531.7 L962 531.7 L964 531.7 L966 531.7 L968 531.7 L970 531.7 L972 531.8 L974 531.8 L976 531.8 L978 531.8 L980 531.8 L982 531.8 L984 531.8 L986 531.8 L988 531.8 L990 531.9 L992 531.9 L994 531.9 L996 531.9 L998 531.9 L1000 531.9 L1002 531.9 L1004 531.9 L1006 531.9 L1008 531.9 L1010 531.9 L1012 531.9 L1014 531.8 L1016 531.8 L1018 531.8 L1020 531.7 L1022 531.6 L1024 531.5 L1026 531.3 L1028 531.1 L1030 530.8 L1032 530.5 L1034 530 L1036 529.4 L1038 528.8 L1040 528 L1042 527.2 L1044 526.3 L1046 525.5 L1048 524.6 L1050 523.9 L1052 523.2 L1054 522.7 L1056 522.3 L1058 522.1 L1060 522 L1062 521.9 L1064 521.9 L1066 521.9 L1068 521.7 L1070 521.5 L1072 521.1 L1074 520.5 L1076 519.6 L1078 518.5 L1080 517.2 L1082 515.6 L1084 513.7 L1086 511.5 L1088 509.1 L1090 506.3 L1092 503.3 L1094 500 L1096 496.3 L1098 492.3 L1100 488 L1102 483.4 L1104 478.4 L1106 473.2 L1108 467.6 L1110 461.8 L1112 455.7 L1114 449.4 L1116 442.9 L1118 436.3 L1120 429.6 L1122 422.8 L1124 416.1 L1126 409.5 L1128 402.9 L1130 396.6 L1132 390.4 L1134 384.5 L1136 378.8 L1138 373.4 L1140 368.4 L1142 363.7 L1144 359.3 L1146 355.4 L1148 351.8 L1150 348.5 L1152 345.6 L1154 343.1 L1156 340.8 L1158 338.8 L1160 337.1 L1162 335.8 L1164 334.8 L1166 334.5 L1168 335 L1170 336.5 L1172 339.1 L1174 342.9 L1176 347.8 L1178 353.7 L1180 360.2 L1182 367.1 L1184 374.3 L1186 381.5 L1188 388.7 L1190 395.8 L1192 402.8 L1194 409.6 L1196 416.3 L1198 422.8 L1200 429.1 L1202 435.2 L1204 441.1 L1206 446.8 L1208 452.4 L1210 457.7 L1212 462.8 L1214 467.8 L1216 472.5 L1218 477.1 L1220 481.4 L1222 485.6 L1224 489.5 L1226 493.2 L1228 496.7 L1230 499.9 L1232 502.9 L1234 505.6 L1236 508.1 L1238 510.3 L1240 512.3 L1242 514.1 L1244 515.7 L1246 517.1 L1248 518.3 L1250 519.3 L1252 520.2 L1254 520.9 L1256 521.4 L1258 521.9 L1260 522.2 L1262 522.5 L1264 522.6 L1266 522.7 L1268 522.7 L1270 522.6 L1272 522.5 L1274 522.4 L1276 522.2 L1278 522.1 L1280 521.9 L1282 521.6 L1284 521.4 L1286 521.2 L1288 521 L1290 520.8 L1292 520.6 L1294 520.4 L1296 520.3 L1298 520.1 L1300 520 L1302 519.9 L1304 519.8 L1306 519.7 L1308 519.6 L1310 519.6 L1312 519.5 L1314 519.4 L1316 519.4 L1318 519.3 L1320 519.2 L1322 519.1 L1324 518.9 L1326 518.7 L1328 518.5 L1330 518.3 L1332 517.9 L1334 517.6 L1336 517.1 L1338 516.6 L1340 516.1 L1342 515.4 L1344 514.7 L1346 513.9 L1348 513 L1350 512.1 L1352 511 L1354 509.8 L1356 508.6 L1358 507.3 L1360 505.9 L1362 504.3 L1364 502.7 L1366 501.1 L1368 499.3 L1370 497.5 L1372 495.6 L1374 493.6 L1376 491.6 L1378 489.5 L1380 487.4 L1382 485.4 L1384 483.3 L1386 481.2 L1388 479.1 L1390 477.1 L1392 475.2 L1394 473.3 L1396 471.5 L1398 469.9 L1400 468.3 L1402 466.9 L1404 465.7 L1406 464.6 L1408 463.6 L1410 462.8 L1412 462.2 L1414 461.7 L1416 461.4 L1418 461.2 L1420 461.1 L1422 461.2 L1424 461.2 L1426 461.3 L1428 461.4 L1430 461.5 L1432 461.7 L1434 462 L1436 462.5 L1438 463.4 L1440 464.7 L1442 466.3 L1444 468.3 L1446 470.7 L1448 473.2 L1450 475.8 L1452 478.3 L1454 480.8 L1456 483.2 L1458 485.5 L1460 487.7 L1462 489.9 L1464 492 L1466 494.1 L1468 496.1 L1470 498.2 L1472 500.2 L1474 502.1 L1476 504.1 L1478 505.9 L1480 507.8 L1482 509.5 L1484 511.3 L1486 512.9 L1488 514.5 L1490 516 L1492 517.5 L1494 518.9 L1496 520.2 L1498 521.4 L1500 522.6 L1502 523.7 L1504 524.8 L1506 525.8 L1508 526.7 L1510 527.6 L1512 528.4 L1514 529.1 L1516 529.8 L1518 530.4 L1520 531 L1522 531.6 L1524 532.1 L1526 532.5 L1528 532.9 L1530 533.3 L1532 533.7 L1534 534 L1536 534.3 L1538 534.5 L1540 534.8 L1542 535 L1544 535.2 L1546 535.4 L1548 535.5 L1550 535.7 L1552 535.8 L1554 535.9 L1556 536 L1558 536.1 L1560 536.2 L1562 536.3 L1564 536.3 L1566 536.4 L1568 536.5 L1570 536.5 L1572 536.6 L1574 536.6 L1576 536.7 L1578 536.7 L1580 536.7 L1582 536.8 L1584 536.8 L1586 536.8 L1588 536.9 L1590 536.9 L1592 536.9 L1594 536.9 L1596 537 L1598 537 L1600 537 L1602 537 L1604 537 L1606 537.1 L1608 537.1 L1610 537.1 L1612 537.1 L1614 537.1 L1616 537.1 L1618 537.2 L1620 537.2 L1622 537.2 L1624 537.2 L1626 537.2 L1628 537.2 L1630 537.3 L1632 537.3 L1634 537.3 L1636 537.3 L1638 537.3 L1640 537.3 L1642 537.3 L1644 537.3 L1646 537.4 L1648 537.4 L1650 537.4 L1652 537.4 L1654 537.4 L1656 537.4 L1658 537.4 L1660 537.5 L1662 537.5 L1664 537.5 L1666 537.5 L1668 537.5 L1670 537.5 L1672 537.5 L1674 537.5 L1676 537.6 L1678 537.6 L1680 537.6 L1682 537.6 L1684 537.6 L1686 537.6 L1688 537.6 L1690 537.6 L1692 537.6 L1694 537.7 L1696 537.7 L1698 537.7 L1700 537.7 L1702 537.7 L1704 537.7" fill="none" stroke="#404040" stroke-width="5" stroke-linejoin="round" />
<g fill="#fff" stroke="#404040" stroke-width="1.5"><circle cx="939" cy="531.4" r="4.6"/><circle cx="947.6" cy="531.2" r="4.6"/><circle cx="956.2" cy="531.8" r="4.6"/><circle cx="964.8" cy="531.4" r="4.6"/><circle cx="973.4" cy="531.7" r="4.6"/><circle cx="982" cy="531.8" r="4.6"/><circle cx="990.6" cy="531.9" r="4.6"/><circle cx="999.2" cy="531.6" r="4.6"/><circle cx="1007.8" cy="531.5" r="4.6"/><circle cx="1016.4" cy="531.4" r="4.6"/><circle cx="1025" cy="531.3" r="4.6"/><circle cx="1033.6" cy="531.4" r="4.6"/><circle cx="1042.2" cy="530.6" r="4.6"/><circle cx="1050.8" cy="529.3" r="4.6"/><circle cx="1059.4" cy="527.3" r="4.6"/><circle cx="1068" cy="524" r="4.6"/><circle cx="1076.6" cy="519.2" r="4.6"/><circle cx="1085.2" cy="511.8" r="4.6"/><circle cx="1093.8" cy="500.5" r="4.6"/><circle cx="1102.4" cy="485.5" r="4.6"/><circle cx="1111" cy="465.1" r="4.6"/><circle cx="1119.6" cy="441.1" r="4.6"/><circle cx="1128.2" cy="414.4" r="4.6"/><circle cx="1136.8" cy="388.2" r="4.6"/><circle cx="1145.4" cy="364.8" r="4.6"/><circle cx="1154" cy="348.3" r="4.6"/><circle cx="1162.6" cy="340.5" r="4.6"/><circle cx="1171.2" cy="344.5" r="4.6"/><circle cx="1179.8" cy="359.3" r="4.6"/><circle cx="1188.4" cy="382.9" r="4.6"/><circle cx="1197" cy="410.5" r="4.6"/><circle cx="1205.6" cy="438.3" r="4.6"/><circle cx="1214.2" cy="463.6" r="4.6"/><circle cx="1222.8" cy="484.8" r="4.6"/><circle cx="1231.4" cy="500.1" r="4.6"/><circle cx="1240" cy="510.8" r="4.6"/><circle cx="1248.6" cy="517" r="4.6"/><circle cx="1257.2" cy="520.2" r="4.6"/><circle cx="1265.8" cy="521.5" r="4.6"/><circle cx="1274.4" cy="520.9" r="4.6"/><circle cx="1283" cy="520.3" r="4.6"/><circle cx="1291.6" cy="519.2" r="4.6"/><circle cx="1300.2" cy="518.8" r="4.6"/><circle cx="1308.8" cy="518.1" r="4.6"/><circle cx="1317.4" cy="518" r="4.6"/><circle cx="1326" cy="517" r="4.6"/><circle cx="1334.6" cy="516.1" r="4.6"/><circle cx="1343.2" cy="513.4" r="4.6"/><circle cx="1351.8" cy="509.6" r="4.6"/><circle cx="1360.4" cy="504.3" r="4.6"/><circle cx="1369" cy="497.5" r="4.6"/><circle cx="1377.6" cy="489.6" r="4.6"/><circle cx="1386.2" cy="481.7" r="4.6"/><circle cx="1394.8" cy="473.9" r="4.6"/><circle cx="1403.4" cy="467.4" r="4.6"/><circle cx="1412" cy="463.1" r="4.6"/><circle cx="1420.6" cy="461.6" r="4.6"/><circle cx="1429.2" cy="462.8" r="4.6"/><circle cx="1437.8" cy="467" r="4.6"/><circle cx="1446.4" cy="473.5" r="4.6"/><circle cx="1455" cy="481.5" r="4.6"/><circle cx="1463.6" cy="490.2" r="4.6"/><circle cx="1472.2" cy="499.1" r="4.6"/><circle cx="1480.8" cy="507.1" r="4.6"/><circle cx="1489.4" cy="514.2" r="4.6"/><circle cx="1498" cy="520" r="4.6"/><circle cx="1506.6" cy="524.7" r="4.6"/><circle cx="1515.2" cy="528" r="4.6"/><circle cx="1523.8" cy="531.3" r="4.6"/><circle cx="1532.4" cy="532.9" r="4.6"/><circle cx="1541" cy="534.2" r="4.6"/><circle cx="1549.6" cy="535.1" r="4.6"/><circle cx="1558.2" cy="536.1" r="4.6"/><circle cx="1566.8" cy="536.3" r="4.6"/><circle cx="1575.4" cy="536.5" r="4.6"/><circle cx="1584" cy="536.3" r="4.6"/><circle cx="1592.6" cy="536.9" r="4.6"/><circle cx="1601.2" cy="537" r="4.6"/><circle cx="1609.8" cy="536.7" r="4.6"/><circle cx="1618.4" cy="537.1" r="4.6"/><circle cx="1627" cy="537.2" r="4.6"/><circle cx="1635.6" cy="537.3" r="4.6"/><circle cx="1644.2" cy="537.6" r="4.6"/><circle cx="1652.8" cy="537.3" r="4.6"/><circle cx="1661.4" cy="537.4" r="4.6"/><circle cx="1670" cy="537.4" r="4.6"/><circle cx="1678.6" cy="537.5" r="4.6"/><circle cx="1687.2" cy="537.6" r="4.6"/><circle cx="1695.8" cy="537.6" r="4.6"/></g>
<path d="M938 532.1 L940 532.1 L942 532.1 L944 532.1 L946 532.2 L948 532.2 L950 532.2 L952 532.2 L954 532.3 L956 532.3 L958 532.3 L960 532.4 L962 532.4 L964 532.4 L966 532.4 L968 532.5 L970 532.5 L972 532.5 L974 532.5 L976 532.6 L978 532.6 L980 532.6 L982 532.7 L984 532.7 L986 532.7 L988 532.7 L990 532.8 L992 532.8 L994 532.8 L996 532.8 L998 532.9 L1000 532.9 L1002 532.9 L1004 533 L1006 533 L1008 533 L1010 533 L1012 533.1 L1014 533.1 L1016 533.1 L1018 533.1 L1020 533.2 L1022 533.2 L1024 533.2 L1026 533.3 L1028 533.3 L1030 533.3 L1032 533.3 L1034 533.4 L1036 533.4 L1038 533.4 L1040 533.4 L1042 533.5 L1044 533.5 L1046 533.5 L1048 533.5 L1050 533.6 L1052 533.6 L1054 533.6 L1056 533.7 L1058 533.7 L1060 533.7 L1062 533.7 L1064 533.8 L1066 533.8 L1068 533.8 L1070 533.8 L1072 533.9 L1074 533.9 L1076 533.9 L1078 533.9 L1080 534 L1082 534 L1084 534 L1086 534.1 L1088 534.1 L1090 534.1 L1092 534.1 L1094 534.2 L1096 534.2 L1098 534.2 L1100 534.2 L1102 534.3 L1104 534.3 L1106 534.3 L1108 534.3 L1110 534.4 L1112 534.4 L1114 534.4 L1116 534.4 L1118 534.5 L1120 534.5 L1122 534.5 L1124 534.6 L1126 534.6 L1128 534.6 L1130 534.6 L1132 534.7 L1134 534.7 L1136 534.7 L1138 534.7 L1140 534.8 L1142 534.8 L1144 534.8 L1146 534.8 L1148 534.9 L1150 534.9 L1152 534.9 L1154 534.9 L1156 535 L1158 535 L1160 535 L1162 535 L1164 535.1 L1166 535.1 L1168 535.1 L1170 535.1 L1172 535.2 L1174 535.2 L1176 535.2 L1178 535.2 L1180 535.3 L1182 535.3 L1184 535.3 L1186 535.3 L1188 535.3 L1190 535.4 L1192 535.4 L1194 535.4 L1196 535.4 L1198 535.5 L1200 535.5 L1202 535.5 L1204 535.5 L1206 535.6 L1208 535.6 L1210 535.6 L1212 535.6 L1214 535.6 L1216 535.7 L1218 535.7 L1220 535.7 L1222 535.7 L1224 535.8 L1226 535.8 L1228 535.8 L1230 535.8 L1232 535.8 L1234 535.8 L1236 535.8 L1238 535.8 L1240 535.8 L1242 535.8 L1244 535.8 L1246 535.8 L1248 535.8 L1250 535.8 L1252 535.8 L1254 535.8 L1256 535.8 L1258 535.7 L1260 535.7 L1262 535.7 L1264 535.7 L1266 535.7 L1268 535.7 L1270 535.6 L1272 535.6 L1274 535.6 L1276 535.5 L1278 535.5 L1280 535.4 L1282 535.4 L1284 535.3 L1286 535.2 L1288 535.1 L1290 535.1 L1292 534.9 L1294 534.8 L1296 534.7 L1298 534.5 L1300 534.4 L1302 534.2 L1304 534 L1306 533.7 L1308 533.5 L1310 533.2 L1312 532.9 L1314 532.5 L1316 532.1 L1318 531.7 L1320 531.2 L1322 530.7 L1324 530.2 L1326 529.6 L1328 528.9 L1330 528.2 L1332 527.5 L1334 526.7 L1336 525.8 L1338 524.8 L1340 523.8 L1342 522.8 L1344 521.6 L1346 520.4 L1348 519.1 L1350 517.8 L1352 516.4 L1354 514.9 L1356 513.4 L1358 511.8 L1360 510.1 L1362 508.4 L1364 506.6 L1366 504.7 L1368 502.8 L1370 500.9 L1372 498.9 L1374 497 L1376 494.9 L1378 492.9 L1380 490.9 L1382 488.8 L1384 486.8 L1386 484.8 L1388 482.8 L1390 480.9 L1392 479 L1394 477.2 L1396 475.5 L1398 473.8 L1400 472.2 L1402 470.8 L1404 469.4 L1406 468.2 L1408 467.1 L1410 466.1 L1412 465.3 L1414 464.6 L1416 464.1 L1418 463.8 L1420 463.6 L1422 463.5 L1424 463.7 L1426 464 L1428 464.4 L1430 465.1 L1432 465.8 L1434 466.8 L1436 467.8 L1438 469 L1440 470.4 L1442 471.8 L1444 473.3 L1446 475 L1448 476.7 L1450 478.5 L1452 480.4 L1454 482.3 L1456 484.3 L1458 486.3 L1460 488.3 L1462 490.4 L1464 492.4 L1466 494.5 L1468 496.5 L1470 498.5 L1472 500.5 L1474 502.5 L1476 504.4 L1478 506.3 L1480 508.1 L1482 509.9 L1484 511.6 L1486 513.2 L1488 514.8 L1490 516.3 L1492 517.8 L1494 519.2 L1496 520.5 L1498 521.7 L1500 522.9 L1502 524 L1504 525.1 L1506 526.1 L1508 527 L1510 527.8 L1512 528.6 L1514 529.4 L1516 530.1 L1518 530.7 L1520 531.3 L1522 531.8 L1524 532.3 L1526 532.8 L1528 533.2 L1530 533.6 L1532 533.9 L1534 534.2 L1536 534.5 L1538 534.8 L1540 535 L1542 535.2 L1544 535.4 L1546 535.6 L1548 535.7 L1550 535.9 L1552 536 L1554 536.1 L1556 536.2 L1558 536.3 L1560 536.4 L1562 536.5 L1564 536.5 L1566 536.6 L1568 536.7 L1570 536.7 L1572 536.8 L1574 536.8 L1576 536.8 L1578 536.9 L1580 536.9 L1582 536.9 L1584 537 L1586 537 L1588 537 L1590 537.1 L1592 537.1 L1594 537.1 L1596 537.1 L1598 537.1 L1600 537.2 L1602 537.2 L1604 537.2 L1606 537.2 L1608 537.2 L1610 537.2 L1612 537.3 L1614 537.3 L1616 537.3 L1618 537.3 L1620 537.3 L1622 537.3 L1624 537.3 L1626 537.4 L1628 537.4 L1630 537.4 L1632 537.4 L1634 537.4 L1636 537.4 L1638 537.4 L1640 537.5 L1642 537.5 L1644 537.5 L1646 537.5 L1648 537.5 L1650 537.5 L1652 537.5 L1654 537.5 L1656 537.6 L1658 537.6 L1660 537.6 L1662 537.6 L1664 537.6 L1666 537.6 L1668 537.6 L1670 537.6 L1672 537.6 L1674 537.7 L1676 537.7 L1678 537.7 L1680 537.7 L1682 537.7 L1684 537.7 L1686 537.7 L1688 537.7 L1690 537.7 L1692 537.8 L1694 537.8 L1696 537.8 L1698 537.8 L1700 537.8 L1702 537.8 L1704 537.8" fill="none" stroke="#2e6399" stroke-width="4.5" stroke-linejoin="round" />
<path d="M938 531.7 L940 531.7 L942 531.6 L944 531.6 L946 531.7 L948 531.7 L950 531.7 L952 531.7 L954 531.7 L956 531.7 L958 531.8 L960 531.8 L962 531.8 L964 531.8 L966 531.8 L968 531.8 L970 531.8 L972 531.9 L974 531.9 L976 531.9 L978 531.9 L980 531.9 L982 531.9 L984 531.9 L986 531.9 L988 531.9 L990 532 L992 532 L994 532 L996 532 L998 532 L1000 532 L1002 532 L1004 532 L1006 532 L1008 532 L1010 532 L1012 532 L1014 532 L1016 532 L1018 531.9 L1020 531.9 L1022 531.9 L1024 531.9 L1026 531.8 L1028 531.8 L1030 531.8 L1032 531.7 L1034 531.6 L1036 531.6 L1038 531.5 L1040 531.3 L1042 531.2 L1044 531.1 L1046 530.9 L1048 530.7 L1050 530.4 L1052 530.1 L1054 529.8 L1056 529.5 L1058 529 L1060 528.5 L1062 528 L1064 527.4 L1066 526.6 L1068 525.8 L1070 524.9 L1072 523.9 L1074 522.8 L1076 521.5 L1078 520 L1080 518.5 L1082 516.7 L1084 514.8 L1086 512.7 L1088 510.3 L1090 507.8 L1092 505.1 L1094 502.1 L1096 498.9 L1098 495.4 L1100 491.7 L1102 487.8 L1104 483.6 L1106 479.1 L1108 474.5 L1110 469.5 L1112 464.4 L1114 459 L1116 453.4 L1118 447.7 L1120 441.8 L1122 435.7 L1124 429.6 L1126 423.4 L1128 417.1 L1130 410.8 L1132 404.6 L1134 398.4 L1136 392.3 L1138 386.4 L1140 380.7 L1142 375.2 L1144 370 L1146 365.1 L1148 360.6 L1150 356.5 L1152 352.9 L1154 349.8 L1156 347.1 L1158 345 L1160 343.5 L1162 342.6 L1164 342.3 L1166 342.6 L1168 343.5 L1170 345.1 L1172 347.3 L1174 350.1 L1176 353.5 L1178 357.5 L1180 361.9 L1182 366.7 L1184 372 L1186 377.6 L1188 383.5 L1190 389.6 L1192 396 L1194 402.5 L1196 409.1 L1198 415.7 L1200 422.3 L1202 429 L1204 435.5 L1206 441.9 L1208 448.2 L1210 454.3 L1212 460.2 L1214 465.9 L1216 471.3 L1218 476.5 L1220 481.5 L1222 486.1 L1224 490.5 L1226 494.7 L1228 498.5 L1230 502.1 L1232 505.4 L1234 508.4 L1236 511.2 L1238 513.8 L1240 516.1 L1242 518.3 L1244 520.2 L1246 521.9 L1248 523.5 L1250 524.9 L1252 526.1 L1254 527.2 L1256 528.2 L1258 529.1 L1260 529.9 L1262 530.6 L1264 531.2 L1266 531.7 L1268 532.2 L1270 532.6 L1272 532.9 L1274 533.2 L1276 533.5 L1278 533.8 L1280 534 L1282 534.1 L1284 534.3 L1286 534.4 L1288 534.6 L1290 534.7 L1292 534.8 L1294 534.9 L1296 535 L1298 535 L1300 535.1 L1302 535.1 L1304 535.2 L1306 535.3 L1308 535.3 L1310 535.3 L1312 535.4 L1314 535.4 L1316 535.5 L1318 535.5 L1320 535.5 L1322 535.6 L1324 535.6 L1326 535.6 L1328 535.7 L1330 535.7 L1332 535.7 L1334 535.7 L1336 535.8 L1338 535.8 L1340 535.8 L1342 535.8 L1344 535.9 L1346 535.9 L1348 535.9 L1350 535.9 L1352 536 L1354 536 L1356 536 L1358 536 L1360 536 L1362 536.1 L1364 536.1 L1366 536.1 L1368 536.1 L1370 536.1 L1372 536.2 L1374 536.2 L1376 536.2 L1378 536.2 L1380 536.2 L1382 536.2 L1384 536.3 L1386 536.3 L1388 536.3 L1390 536.3 L1392 536.3 L1394 536.3 L1396 536.4 L1398 536.4 L1400 536.4 L1402 536.4 L1404 536.4 L1406 536.4 L1408 536.4 L1410 536.5 L1412 536.5 L1414 536.5 L1416 536.5 L1418 536.5 L1420 536.5 L1422 536.5 L1424 536.6 L1426 536.6 L1428 536.6 L1430 536.6 L1432 536.6 L1434 536.6 L1436 536.6 L1438 536.6 L1440 536.7 L1442 536.7 L1444 536.7 L1446 536.7 L1448 536.7 L1450 536.7 L1452 536.7 L1454 536.7 L1456 536.8 L1458 536.8 L1460 536.8 L1462 536.8 L1464 536.8 L1466 536.8 L1468 536.8 L1470 536.8 L1472 536.8 L1474 536.9 L1476 536.9 L1478 536.9 L1480 536.9 L1482 536.9 L1484 536.9 L1486 536.9 L1488 536.9 L1490 536.9 L1492 537 L1494 537 L1496 537 L1498 537 L1500 537 L1502 537 L1504 537 L1506 537 L1508 537 L1510 537 L1512 537.1 L1514 537.1 L1516 537.1 L1518 537.1 L1520 537.1 L1522 537.1 L1524 537.1 L1526 537.1 L1528 537.1 L1530 537.1 L1532 537.2 L1534 537.2 L1536 537.2 L1538 537.2 L1540 537.2 L1542 537.2 L1544 537.2 L1546 537.2 L1548 537.2 L1550 537.2 L1552 537.2 L1554 537.3 L1556 537.3 L1558 537.3 L1560 537.3 L1562 537.3 L1564 537.3 L1566 537.3 L1568 537.3 L1570 537.3 L1572 537.3 L1574 537.4 L1576 537.4 L1578 537.4 L1580 537.4 L1582 537.4 L1584 537.4 L1586 537.4 L1588 537.4 L1590 537.4 L1592 537.4 L1594 537.4 L1596 537.4 L1598 537.5 L1600 537.5 L1602 537.5 L1604 537.5 L1606 537.5 L1608 537.5 L1610 537.5 L1612 537.5 L1614 537.5 L1616 537.5 L1618 537.5 L1620 537.6 L1622 537.6 L1624 537.6 L1626 537.6 L1628 537.6 L1630 537.6 L1632 537.6 L1634 537.6 L1636 537.6 L1638 537.6 L1640 537.6 L1642 537.6 L1644 537.7 L1646 537.7 L1648 537.7 L1650 537.7 L1652 537.7 L1654 537.7 L1656 537.7 L1658 537.7 L1660 537.7 L1662 537.7 L1664 537.7 L1666 537.7 L1668 537.8 L1670 537.8 L1672 537.8 L1674 537.8 L1676 537.8 L1678 537.8 L1680 537.8 L1682 537.8 L1684 537.8 L1686 537.8 L1688 537.8 L1690 537.8 L1692 537.9 L1694 537.9 L1696 537.9 L1698 537.9 L1700 537.9 L1702 537.9 L1704 537.9" fill="none" stroke="#ee0000" stroke-width="5" stroke-linejoin="round" />
<path d="M938 532.2 L940 532.2 L942 532.2 L944 532.2 L946 532.2 L948 532.2 L950 532.3 L952 532.3 L954 532.3 L956 532.3 L958 532.4 L960 532.4 L962 532.4 L964 532.5 L966 532.5 L968 532.5 L970 532.5 L972 532.6 L974 532.6 L976 532.6 L978 532.7 L980 532.7 L982 532.7 L984 532.7 L986 532.8 L988 532.8 L990 532.8 L992 532.8 L994 532.9 L996 532.9 L998 532.9 L1000 533 L1002 533 L1004 533 L1006 533 L1008 533.1 L1010 533.1 L1012 533.1 L1014 533.2 L1016 533.2 L1018 533.2 L1020 533.2 L1022 533.3 L1024 533.3 L1026 533.3 L1028 533.3 L1030 533.4 L1032 533.4 L1034 533.4 L1036 533.5 L1038 533.5 L1040 533.5 L1042 533.5 L1044 533.6 L1046 533.6 L1048 533.6 L1050 533.6 L1052 533.7 L1054 533.7 L1056 533.7 L1058 533.8 L1060 533.8 L1062 533.8 L1064 533.8 L1066 533.9 L1068 533.9 L1070 533.9 L1072 533.9 L1074 534 L1076 534 L1078 534 L1080 534.1 L1082 534.1 L1084 534.1 L1086 534.1 L1088 534.2 L1090 534.2 L1092 534.2 L1094 534.2 L1096 534.3 L1098 534.3 L1100 534.3 L1102 534.4 L1104 534.4 L1106 534.4 L1108 534.4 L1110 534.5 L1112 534.5 L1114 534.5 L1116 534.5 L1118 534.6 L1120 534.6 L1122 534.6 L1124 534.6 L1126 534.7 L1128 534.7 L1130 534.7 L1132 534.8 L1134 534.8 L1136 534.8 L1138 534.8 L1140 534.9 L1142 534.9 L1144 534.9 L1146 534.9 L1148 535 L1150 535 L1152 535 L1154 535 L1156 535.1 L1158 535.1 L1160 535.1 L1162 535.1 L1164 535.2 L1166 535.2 L1168 535.2 L1170 535.2 L1172 535.2 L1174 535.3 L1176 535.3 L1178 535.3 L1180 535.3 L1182 535.3 L1184 535.3 L1186 535.3 L1188 535.4 L1190 535.4 L1192 535.4 L1194 535.4 L1196 535.3 L1198 535.3 L1200 535.3 L1202 535.3 L1204 535.3 L1206 535.2 L1208 535.2 L1210 535.1 L1212 535.1 L1214 535 L1216 534.9 L1218 534.9 L1220 534.8 L1222 534.6 L1224 534.5 L1226 534.4 L1228 534.2 L1230 534 L1232 533.8 L1234 533.6 L1236 533.4 L1238 533.1 L1240 532.8 L1242 532.5 L1244 532.2 L1246 531.9 L1248 531.5 L1250 531.2 L1252 530.8 L1254 530.4 L1256 530 L1258 529.6 L1260 529.2 L1262 528.8 L1264 528.4 L1266 528 L1268 527.6 L1270 527.1 L1272 526.7 L1274 526.3 L1276 526 L1278 525.6 L1280 525.2 L1282 524.9 L1284 524.6 L1286 524.3 L1288 524.1 L1290 523.9 L1292 523.7 L1294 523.6 L1296 523.5 L1298 523.5 L1300 523.5 L1302 523.5 L1304 523.6 L1306 523.7 L1308 523.8 L1310 524 L1312 524.3 L1314 524.5 L1316 524.8 L1318 525.1 L1320 525.5 L1322 525.9 L1324 526.2 L1326 526.7 L1328 527.1 L1330 527.5 L1332 527.9 L1334 528.4 L1336 528.8 L1338 529.2 L1340 529.7 L1342 530.1 L1344 530.5 L1346 530.9 L1348 531.3 L1350 531.7 L1352 532 L1354 532.4 L1356 532.7 L1358 533.1 L1360 533.4 L1362 533.6 L1364 533.9 L1366 534.2 L1368 534.4 L1370 534.6 L1372 534.8 L1374 535 L1376 535.2 L1378 535.4 L1380 535.5 L1382 535.6 L1384 535.8 L1386 535.9 L1388 536 L1390 536.1 L1392 536.1 L1394 536.2 L1396 536.3 L1398 536.3 L1400 536.4 L1402 536.4 L1404 536.5 L1406 536.5 L1408 536.6 L1410 536.6 L1412 536.6 L1414 536.7 L1416 536.7 L1418 536.7 L1420 536.7 L1422 536.7 L1424 536.8 L1426 536.8 L1428 536.8 L1430 536.8 L1432 536.8 L1434 536.8 L1436 536.9 L1438 536.9 L1440 536.9 L1442 536.9 L1444 536.9 L1446 536.9 L1448 536.9 L1450 536.9 L1452 536.9 L1454 537 L1456 537 L1458 537 L1460 537 L1462 537 L1464 537 L1466 537 L1468 537 L1470 537 L1472 537 L1474 537.1 L1476 537.1 L1478 537.1 L1480 537.1 L1482 537.1 L1484 537.1 L1486 537.1 L1488 537.1 L1490 537.1 L1492 537.1 L1494 537.1 L1496 537.1 L1498 537.2 L1500 537.2 L1502 537.2 L1504 537.2 L1506 537.2 L1508 537.2 L1510 537.2 L1512 537.2 L1514 537.2 L1516 537.2 L1518 537.2 L1520 537.3 L1522 537.3 L1524 537.3 L1526 537.3 L1528 537.3 L1530 537.3 L1532 537.3 L1534 537.3 L1536 537.3 L1538 537.3 L1540 537.3 L1542 537.3 L1544 537.4 L1546 537.4 L1548 537.4 L1550 537.4 L1552 537.4 L1554 537.4 L1556 537.4 L1558 537.4 L1560 537.4 L1562 537.4 L1564 537.4 L1566 537.4 L1568 537.4 L1570 537.5 L1572 537.5 L1574 537.5 L1576 537.5 L1578 537.5 L1580 537.5 L1582 537.5 L1584 537.5 L1586 537.5 L1588 537.5 L1590 537.5 L1592 537.5 L1594 537.6 L1596 537.6 L1598 537.6 L1600 537.6 L1602 537.6 L1604 537.6 L1606 537.6 L1608 537.6 L1610 537.6 L1612 537.6 L1614 537.6 L1616 537.6 L1618 537.6 L1620 537.7 L1622 537.7 L1624 537.7 L1626 537.7 L1628 537.7 L1630 537.7 L1632 537.7 L1634 537.7 L1636 537.7 L1638 537.7 L1640 537.7 L1642 537.7 L1644 537.7 L1646 537.8 L1648 537.8 L1650 537.8 L1652 537.8 L1654 537.8 L1656 537.8 L1658 537.8 L1660 537.8 L1662 537.8 L1664 537.8 L1666 537.8 L1668 537.8 L1670 537.9 L1672 537.9 L1674 537.9 L1676 537.9 L1678 537.9 L1680 537.9 L1682 537.9 L1684 537.9 L1686 537.9 L1688 537.9 L1690 537.9 L1692 537.9 L1694 537.9 L1696 538 L1698 538 L1700 538 L1702 538 L1704 538" fill="none" stroke="#808080" stroke-width="4.5" stroke-linejoin="round" />
<path d="M938 532.2 L942 532.2 L946 532.2 L950 532.3 L954 532.3 L958 532.4 L962 532.5 L966 532.5 L970 532.6 L974 532.6 L978 532.7 L982 532.7 L986 532.8 L990 532.8 L994 532.9 L998 533 L1002 533 L1006 533.1 L1010 533.1 L1014 533.2 L1018 533.2 L1022 533.3 L1026 533.3 L1030 533.4 L1034 533.5 L1038 533.5 L1042 533.6 L1046 533.6 L1050 533.7 L1054 533.7 L1058 533.8 L1062 533.9 L1066 533.9 L1070 534 L1074 534 L1078 534.1 L1082 534.1 L1086 534.2 L1090 534.2 L1094 534.3 L1098 534.4 L1102 534.4 L1106 534.5 L1110 534.5 L1114 534.6 L1118 534.6 L1122 534.7 L1126 534.7 L1130 534.8 L1134 534.9 L1138 534.9 L1142 535 L1146 535 L1150 535.1 L1154 535.1 L1158 535.2 L1162 535.2 L1166 535.3 L1170 535.4 L1174 535.4 L1178 535.5 L1182 535.5 L1186 535.6 L1190 535.6 L1194 535.7 L1198 535.8 L1202 535.8 L1206 535.9 L1210 535.9 L1214 536 L1218 536 L1222 536.1 L1226 536.1 L1230 536.2 L1234 536.2 L1238 536.2 L1242 536.2 L1246 536.3 L1250 536.3 L1254 536.3 L1258 536.3 L1262 536.3 L1266 536.3 L1270 536.4 L1274 536.4 L1278 536.4 L1282 536.4 L1286 536.4 L1290 536.4 L1294 536.4 L1298 536.5 L1302 536.5 L1306 536.5 L1310 536.5 L1314 536.5 L1318 536.5 L1322 536.5 L1326 536.6 L1330 536.6 L1334 536.6 L1338 536.6 L1342 536.6 L1346 536.6 L1350 536.7 L1354 536.7 L1358 536.7 L1362 536.7 L1366 536.7 L1370 536.7 L1374 536.7 L1378 536.8 L1382 536.8 L1386 536.8 L1390 536.8 L1394 536.8 L1398 536.8 L1402 536.9 L1406 536.9 L1410 536.9 L1414 536.9 L1418 536.9 L1422 536.9 L1426 536.9 L1430 537 L1434 537 L1438 537 L1442 537 L1446 537 L1450 537 L1454 537 L1458 537.1 L1462 537.1 L1466 537.1 L1470 537.1 L1474 537.1 L1478 537.1 L1482 537.2 L1486 537.2 L1490 537.2 L1494 537.2 L1498 537.2 L1502 537.2 L1506 537.2 L1510 537.3 L1514 537.3 L1518 537.3 L1522 537.3 L1526 537.3 L1530 537.3 L1534 537.4 L1538 537.4 L1542 537.4 L1546 537.4 L1550 537.4 L1554 537.4 L1558 537.4 L1562 537.5 L1566 537.5 L1570 537.5 L1574 537.5 L1578 537.5 L1582 537.5 L1586 537.5 L1590 537.6 L1594 537.6 L1598 537.6 L1602 537.6 L1606 537.6 L1610 537.6 L1614 537.7 L1618 537.7 L1622 537.7 L1626 537.7 L1630 537.7 L1634 537.7 L1638 537.7 L1642 537.8 L1646 537.8 L1650 537.8 L1654 537.8 L1658 537.8 L1662 537.8 L1666 537.9 L1670 537.9 L1674 537.9 L1678 537.9 L1682 537.9 L1686 537.9 L1690 537.9 L1694 538 L1698 538 L1702 538" fill="none" stroke="#808080" stroke-width="5.5" stroke-linejoin="round" />
</g>
<path d="M937 277.5 V2 H1706 V277.5" fill="none" stroke="#000" stroke-width="4"/>
<path d="M936 277 V552.5 H1705.5 V277" fill="none" stroke="#000" stroke-width="4"/>
<g stroke="#000" stroke-width="4"><line x1="1013.8" y1="550.5" x2="1013.8" y2="540.5"/><line x1="1090.6" y1="550.5" x2="1090.6" y2="540.5"/><line x1="1167.4" y1="550.5" x2="1167.4" y2="540.5"/><line x1="1244.2" y1="550.5" x2="1244.2" y2="540.5"/><line x1="1321" y1="550.5" x2="1321" y2="540.5"/><line x1="1397.8" y1="550.5" x2="1397.8" y2="540.5"/><line x1="1474.6" y1="550.5" x2="1474.6" y2="540.5"/><line x1="1551.4" y1="550.5" x2="1551.4" y2="540.5"/><line x1="1628.2" y1="550.5" x2="1628.2" y2="540.5"/></g>
<g stroke="#000" stroke-width="4"><line x1="975.4" y1="550.5" x2="975.4" y2="546.7"/><line x1="1052.2" y1="550.5" x2="1052.2" y2="546.7"/><line x1="1129" y1="550.5" x2="1129" y2="546.7"/><line x1="1205.8" y1="550.5" x2="1205.8" y2="546.7"/><line x1="1282.6" y1="550.5" x2="1282.6" y2="546.7"/><line x1="1359.4" y1="550.5" x2="1359.4" y2="546.7"/><line x1="1436.2" y1="550.5" x2="1436.2" y2="546.7"/><line x1="1513" y1="550.5" x2="1513" y2="546.7"/><line x1="1589.8" y1="550.5" x2="1589.8" y2="546.7"/><line x1="1666.6" y1="550.5" x2="1666.6" y2="546.7"/></g>
<text transform="translate(937 587.3) scale(0.9524 1)" font-size="35.7" fill="#000" text-anchor="middle" >291</text>
<text transform="translate(1013.8 587.3) scale(0.9524 1)" font-size="35.7" fill="#000" text-anchor="middle" >290</text>
<text transform="translate(1090.6 587.3) scale(0.9524 1)" font-size="35.7" fill="#000" text-anchor="middle" >289</text>
<text transform="translate(1167.4 587.3) scale(0.9524 1)" font-size="35.7" fill="#000" text-anchor="middle" >288</text>
<text transform="translate(1244.2 587.3) scale(0.9524 1)" font-size="35.7" fill="#000" text-anchor="middle" >287</text>
<text transform="translate(1321 587.3) scale(0.9524 1)" font-size="35.7" fill="#000" text-anchor="middle" >286</text>
<text transform="translate(1397.8 587.3) scale(0.9524 1)" font-size="35.7" fill="#000" text-anchor="middle" >285</text>
<text transform="translate(1474.6 587.3) scale(0.9524 1)" font-size="35.7" fill="#000" text-anchor="middle" >284</text>
<text transform="translate(1551.4 587.3) scale(0.9524 1)" font-size="35.7" fill="#000" text-anchor="middle" >283</text>
<text transform="translate(1628.2 587.3) scale(0.9524 1)" font-size="35.7" fill="#000" text-anchor="middle" >282</text>
<text transform="translate(1705 587.3) scale(0.9524 1)" font-size="35.7" fill="#000" text-anchor="middle" >281</text>
<text transform="translate(1321 624) scale(0.9524 1)" font-size="37.6" fill="#000" text-anchor="middle" textLength="364.4" lengthAdjust="spacingAndGlyphs" >Binding Energy(eV)</text>
<text transform="translate(923.8 289.6) rotate(-90) scale(0.9524 1)" font-size="39.4" fill="#000" text-anchor="middle" >Intensity (a.u.)</text>
<text transform="translate(874 77) scale(1.0000 1)" font-size="74.5" fill="#000" text-anchor="start" >b</text>
<text transform="translate(942.3 37.3) scale(0.9524 1)" font-size="33.4" fill="#ee0000" text-anchor="start" >B-C<tspan font-size="22.1" dy="9">3</tspan><tspan dy="-9">N</tspan><tspan font-size="22.1" dy="9">4</tspan><tspan dy="-9">-16 MPa</tspan></text>
<text transform="translate(1701.7 37.7) scale(1.0048 1)" font-size="35.8" fill="#000" text-anchor="end" >C 1<tspan font-style="italic">s</tspan></text>
<text transform="translate(1142.5 132.5) scale(0.9524 1)" font-size="30.1" fill="#ee0000" text-anchor="middle" >288.3 eV</text>
<text transform="translate(1144.7 160) scale(0.9524 1)" font-size="30.1" fill="#ee0000" text-anchor="middle" >N=C-N</text>
<text transform="translate(1339 196) scale(0.9524 1)" font-size="30.1" fill="#404040" text-anchor="middle" >286.3 eV</text>
<text transform="translate(1339.7 222.5) scale(0.9524 1)" font-size="30.1" fill="#404040" text-anchor="middle" >C-O</text>
<text transform="translate(1482.2 161) scale(0.9524 1)" font-size="30.1" fill="#2e6399" text-anchor="middle" >284.8 eV</text>
<text transform="translate(1475.2 189) scale(0.9524 1)" font-size="30.1" fill="#2e6399" text-anchor="middle" >C-C</text>
<text transform="translate(945.8 311.8) scale(0.9524 1)" font-size="33.6" fill="#404040" text-anchor="start" >Bulk C<tspan font-size="22.2" dy="9.1">3</tspan><tspan dy="-9.1">N</tspan><tspan font-size="22.2" dy="9.1">4</tspan></text>
<text transform="translate(1181.5 306) scale(0.9524 1)" font-size="30.1" fill="#ee0000" text-anchor="middle" >288.1 eV</text>
<text transform="translate(1184.7 334) scale(0.9524 1)" font-size="30.1" fill="#ee0000" text-anchor="middle" >N=C-N</text>
<text transform="translate(1307.2 473.5) scale(0.9524 1)" font-size="30.1" fill="#404040" text-anchor="middle" >286.3 eV</text>
<text transform="translate(1308.5 501.5) scale(0.9524 1)" font-size="30.1" fill="#404040" text-anchor="middle" >C-O</text>
<text transform="translate(1462.2 418) scale(0.9524 1)" font-size="30.1" fill="#2e6399" text-anchor="middle" >284.8 eV</text>
<text transform="translate(1454.2 445) scale(0.9524 1)" font-size="30.1" fill="#2e6399" text-anchor="middle" >C-C</text>
<clipPath id="cc"><rect x="69.5" y="639" width="780.0" height="555.2"/></clipPath><g clip-path="url(#cc)">
<path d="M77 900.4 L79 900.6 L81 900.7 L83 900.6 L85 900.4 L87 900.3 L89 900.5 L91 900.3 L93 900.4 L95 900.4 L97 900.7 L99 900.7 L101 900.8 L103 900.5 L105 900.7 L107 900.4 L109 900.7 L111 900.4 L113 900.5 L115 900.3 L117 900.3 L119 900.4 L121 900.5 L123 900.7 L125 900.5 L127 900.5 L129 900.3 L131 900.5 L133 900.3 L135 900.4 L137 900.3 L139 900.4 L141 900.5 L143 900.5 L145 900.7 L147 900.7 L149 900.6 L151 900.4 L153 900.3 L155 900.5 L157 900.7 L159 900.6 L161 900.5 L163 900.3 L165 900.3 L167 900.4 L169 900.4 L171 900.7 L173 900.7 L175 900.7 L177 900.5 L179 900.4 L181 900.4 L183 900.4 L185 900.6 L187 900.5 L189 900.6 L191 900.5 L193 900.6 L195 900.6 L197 900.7 L199 900.8 L201 900.7 L203 900.6 L205 900.6 L207 900.4 L209 900.5 L211 900.4 L213 900.3 L215 900.4 L217 900.4 L219 900.4 L221 900.4 L223 900.3 L225 900.5 L227 900.2 L229 900.1 L231 899.8 L233 899.6 L235 899.5 L237 899.6 L239 899.8 L241 900.1 L243 900 L245 899.9 L247 899.6 L249 899.6 L251 899.3 L253 899.1 L255 899 L257 898.9 L259 899 L261 898.9 L263 899.1 L265 899.1 L267 899.1 L269 899 L271 898.9 L273 898.8 L275 898.5 L277 898.3 L279 898.3 L281 898.2 L283 898.1 L285 897.9 L287 897.6 L289 897.4 L291 897.1 L293 897.1 L295 896.8 L297 896.8 L299 896.6 L301 896.3 L303 896.1 L305 895.9 L307 895.7 L309 895.5 L311 895.2 L313 894.8 L315 894.8 L317 894.5 L319 894.4 L321 894.2 L323 894.2 L325 894 L327 893.5 L329 893.1 L331 893 L333 892.7 L335 892.3 L337 891.9 L339 891.7 L341 891.4 L343 891 L345 890.5 L347 890 L349 889.3 L351 889.1 L353 888.9 L355 888.7 L357 888.5 L359 888.2 L361 887.9 L363 887.4 L365 887 L367 886.5 L369 886.1 L371 885.7 L373 885.5 L375 885.2 L377 884.8 L379 884.5 L381 884 L383 883.7 L385 883.3 L387 883.1 L389 882.8 L391 882.4 L393 882 L395 881.7 L397 881.3 L399 881.2 L401 881 L403 881 L405 880.7 L407 880.2 L409 879.8 L411 879.7 L413 879.8 L415 879.7 L417 879.3 L419 879.2 L421 879.3 L423 879.3 L425 879.2 L427 879.2 L429 879.2 L431 879.1 L433 879.1 L435 879 L437 879.2 L439 879.3 L441 879.3 L443 879.1 L445 879.2 L447 879.3 L449 879.6 L451 879.4 L453 879.2 L455 878.9 L457 878.6 L459 878.1 L461 877.8 L463 877.1 L465 876.6 L467 876.2 L469 875.9 L471 875.5 L473 875 L475 874.4 L477 874 L479 873.7 L481 873.3 L483 872.9 L485 872.1 L487 871.8 L489 871.4 L491 871 L493 870.5 L495 870.1 L497 870 L499 869.7 L501 869.5 L503 869 L505 868.9 L507 868.5 L509 868.3 L511 867.9 L513 867.6 L515 867.4 L517 867.2 L519 866.9 L521 866.3 L523 865.6 L525 865 L527 864.5 L529 864.2 L531 863.6 L533 863 L535 862.3 L537 861.4 L539 860.5 L541 859.7 L543 859.1 L545 858.2 L547 857.4 L549 856.3 L551 855.5 L553 854.3 L555 853.5 L557 852.6 L559 851.9 L561 850.9 L563 849.8 L565 848.7 L567 847.6 L569 846.5 L571 845.2 L573 843.8 L575 842.4 L577 841.1 L579 839.7 L581 838.2 L583 836.8 L585 835.2 L587 834 L589 832.8 L591 832 L593 831 L595 829.9 L597 828.8 L599 827.9 L601 827.1 L603 826.3 L605 825.6 L607 825.4 L609 825 L611 824.7 L613 824 L615 823.7 L617 823.7 L619 823.9 L621 824.3 L623 824.5 L625 824.9 L627 825.4 L629 826 L631 826.8 L633 827.4 L635 828.3 L637 829.2 L639 830.6 L641 831.6 L643 832.8 L645 834.1 L647 835.5 L649 836.9 L651 838.4 L653 840.2 L655 842.2 L657 844.4 L659 846.8 L661 849 L663 851.3 L665 853.2 L667 855.3 L669 857.4 L671 859.5 L673 862.2 L675 864.6 L677 867.2 L679 869.3 L681 871.7 L683 874 L685 876.2 L687 878.2 L689 880 L691 881.8 L693 883.6 L695 885.3 L697 886.9 L699 888.7 L701 890.1 L703 891.7 L705 892.8 L707 894.1 L709 895 L711 896.2 L713 897.1 L715 898 L717 898.8 L719 899.6 L721 900.2 L723 900.6 L725 901.1 L727 901.6 L729 901.9 L731 902.4 L733 902.7 L735 903 L737 903.3 L739 903.5 L741 903.8 L743 903.7 L745 903.8 L747 903.9 L749 904.2 L751 904.5 L753 904.4 L755 904.5 L757 904.6 L759 904.8 L761 905 L763 905.1 L765 905.2 L767 905.3 L769 905.1 L771 905.3 L773 905.4 L775 905.4 L777 905.3 L779 905.1 L781 905.4 L783 905.4 L785 905.5 L787 905.4 L789 905.2 L791 905.4 L793 905.4 L795 905.6 L797 905.6 L799 905.6 L801 905.6 L803 905.5 L805 905.4 L807 905.8 L809 905.9 L811 906 L813 905.8 L815 905.6 L817 905.6 L819 905.6 L821 905.8 L823 905.9 L825 905.7 L827 905.8 L829 905.8 L831 905.8 L833 905.7 L835 905.6 L837 905.8 L839 905.9 L841 906 L843 906 L845 905.9 L847 905.9" fill="none" stroke="#000" stroke-width="6" stroke-linejoin="round" stroke-dasharray="9 2"/>
<g fill="none" stroke="#7c7c7c" stroke-width="1.3"><circle cx="78" cy="900.5" r="4.8"/><circle cx="86.6" cy="900.3" r="4.8"/><circle cx="95.2" cy="900.4" r="4.8"/><circle cx="103.8" cy="900.5" r="4.8"/><circle cx="112.4" cy="900.5" r="4.8"/><circle cx="121" cy="900.5" r="4.8"/><circle cx="129.6" cy="900.3" r="4.8"/><circle cx="138.2" cy="900.3" r="4.8"/><circle cx="146.8" cy="900.7" r="4.8"/><circle cx="155.4" cy="900.5" r="4.8"/><circle cx="164" cy="900.3" r="4.8"/><circle cx="172.6" cy="900.7" r="4.8"/><circle cx="181.2" cy="900.4" r="4.8"/><circle cx="189.8" cy="900.6" r="4.8"/><circle cx="198.4" cy="900.8" r="4.8"/><circle cx="207" cy="900.4" r="4.8"/><circle cx="215.6" cy="900.4" r="4.8"/><circle cx="224.2" cy="900.4" r="4.8"/><circle cx="232.8" cy="899.7" r="4.8"/><circle cx="241.4" cy="900.1" r="4.8"/><circle cx="250" cy="899.4" r="4.8"/><circle cx="258.6" cy="899" r="4.8"/><circle cx="267.2" cy="899.1" r="4.8"/><circle cx="275.8" cy="898.4" r="4.8"/><circle cx="284.4" cy="897.9" r="4.8"/><circle cx="293" cy="897.1" r="4.8"/><circle cx="301.6" cy="896.3" r="4.8"/><circle cx="310.2" cy="895.3" r="4.8"/><circle cx="318.8" cy="894.4" r="4.8"/><circle cx="327.4" cy="893.4" r="4.8"/><circle cx="336" cy="892.1" r="4.8"/><circle cx="344.6" cy="890.6" r="4.8"/><circle cx="353.2" cy="888.9" r="4.8"/><circle cx="361.8" cy="887.7" r="4.8"/><circle cx="370.4" cy="885.8" r="4.8"/><circle cx="379" cy="884.5" r="4.8"/><circle cx="387.6" cy="883" r="4.8"/><circle cx="396.2" cy="881.5" r="4.8"/><circle cx="404.8" cy="880.7" r="4.8"/><circle cx="413.4" cy="879.8" r="4.8"/><circle cx="422" cy="879.3" r="4.8"/><circle cx="430.6" cy="879.1" r="4.8"/><circle cx="439.2" cy="879.3" r="4.8"/><circle cx="447.8" cy="879.5" r="4.8"/><circle cx="456.4" cy="878.7" r="4.8"/><circle cx="465" cy="876.6" r="4.8"/><circle cx="473.6" cy="874.8" r="4.8"/><circle cx="482.2" cy="873" r="4.8"/><circle cx="490.8" cy="871.1" r="4.8"/><circle cx="499.4" cy="869.7" r="4.8"/><circle cx="508" cy="868.4" r="4.8"/><circle cx="516.6" cy="867.2" r="4.8"/><circle cx="525.2" cy="865" r="4.8"/><circle cx="533.8" cy="862.7" r="4.8"/><circle cx="542.4" cy="859.3" r="4.8"/><circle cx="551" cy="855.5" r="4.8"/><circle cx="559.6" cy="851.6" r="4.8"/><circle cx="568.2" cy="846.9" r="4.8"/><circle cx="576.8" cy="841.2" r="4.8"/><circle cx="585.4" cy="834.9" r="4.8"/><circle cx="594" cy="830.4" r="4.8"/><circle cx="602.6" cy="826.5" r="4.8"/><circle cx="611.2" cy="824.6" r="4.8"/><circle cx="619.8" cy="824.1" r="4.8"/><circle cx="628.4" cy="825.9" r="4.8"/><circle cx="637" cy="829.2" r="4.8"/><circle cx="645.6" cy="834.5" r="4.8"/><circle cx="654.2" cy="841.4" r="4.8"/><circle cx="662.8" cy="851.1" r="4.8"/><circle cx="671.4" cy="860.1" r="4.8"/><circle cx="680" cy="870.5" r="4.8"/><circle cx="688.6" cy="879.6" r="4.8"/><circle cx="697.2" cy="887.1" r="4.8"/><circle cx="705.8" cy="893.3" r="4.8"/><circle cx="714.4" cy="897.7" r="4.8"/><circle cx="723" cy="900.6" r="4.8"/><circle cx="731.6" cy="902.5" r="4.8"/><circle cx="740.2" cy="903.7" r="4.8"/><circle cx="748.8" cy="904.2" r="4.8"/><circle cx="757.4" cy="904.6" r="4.8"/><circle cx="766" cy="905.2" r="4.8"/><circle cx="774.6" cy="905.4" r="4.8"/><circle cx="783.2" cy="905.4" r="4.8"/><circle cx="791.8" cy="905.4" r="4.8"/><circle cx="800.4" cy="905.6" r="4.8"/><circle cx="809" cy="905.9" r="4.8"/><circle cx="817.6" cy="905.6" r="4.8"/><circle cx="826.2" cy="905.7" r="4.8"/><circle cx="834.8" cy="905.6" r="4.8"/><circle cx="843.4" cy="906" r="4.8"/></g>
<path d="M77 901.2 L79 901.2 L81 901.2 L83 901.2 L85 901.2 L87 901.3 L89 901.3 L91 901.3 L93 901.3 L95 901.3 L97 901.3 L99 901.3 L101 901.3 L103 901.4 L105 901.4 L107 901.4 L109 901.4 L111 901.4 L113 901.4 L115 901.4 L117 901.4 L119 901.5 L121 901.5 L123 901.5 L125 901.5 L127 901.5 L129 901.5 L131 901.5 L133 901.5 L135 901.6 L137 901.6 L139 901.6 L141 901.6 L143 901.6 L145 901.6 L147 901.6 L149 901.6 L151 901.7 L153 901.7 L155 901.7 L157 901.7 L159 901.7 L161 901.7 L163 901.7 L165 901.7 L167 901.8 L169 901.8 L171 901.8 L173 901.8 L175 901.8 L177 901.8 L179 901.8 L181 901.8 L183 901.9 L185 901.9 L187 901.9 L189 901.9 L191 901.9 L193 901.9 L195 901.9 L197 901.9 L199 902 L201 902 L203 902 L205 902 L207 902 L209 902 L211 902 L213 902 L215 902.1 L217 902.1 L219 902.1 L221 902.1 L223 902.1 L225 902.1 L227 902.1 L229 902.1 L231 902.2 L233 902.2 L235 902.2 L237 902.2 L239 902.2 L241 902.2 L243 902.2 L245 902.2 L247 902.3 L249 902.3 L251 902.3 L253 902.3 L255 902.3 L257 902.3 L259 902.3 L261 902.3 L263 902.4 L265 902.4 L267 902.4 L269 902.4 L271 902.4 L273 902.4 L275 902.4 L277 902.4 L279 902.5 L281 902.5 L283 902.5 L285 902.5 L287 902.5 L289 902.5 L291 902.5 L293 902.5 L295 902.6 L297 902.6 L299 902.6 L301 902.6 L303 902.6 L305 902.6 L307 902.6 L309 902.6 L311 902.7 L313 902.7 L315 902.7 L317 902.7 L319 902.7 L321 902.7 L323 902.7 L325 902.7 L327 902.8 L329 902.8 L331 902.8 L333 902.8 L335 902.8 L337 902.8 L339 902.8 L341 902.8 L343 902.9 L345 902.9 L347 902.9 L349 902.9 L351 902.9 L353 902.9 L355 902.9 L357 902.9 L359 903 L361 903 L363 903 L365 903 L367 903 L369 903 L371 903 L373 903 L375 903.1 L377 903.1 L379 903.1 L381 903.1 L383 903.1 L385 903.1 L387 903.1 L389 903.1 L391 903.2 L393 903.2 L395 903.2 L397 903.2 L399 903.2 L401 903.2 L403 903.2 L405 903.2 L407 903.3 L409 903.3 L411 903.3 L413 903.3 L415 903.3 L417 903.3 L419 903.3 L421 903.3 L423 903.4 L425 903.4 L427 903.4 L429 903.4 L431 903.4 L433 903.4 L435 903.4 L437 903.4 L439 903.5 L441 903.5 L443 903.5 L445 903.5 L447 903.5 L449 903.5 L451 903.5 L453 903.5 L455 903.6 L457 903.6 L459 903.6 L461 903.6 L463 903.6 L465 903.6 L467 903.6 L469 903.6 L471 903.6 L473 903.7 L475 903.7 L477 903.7 L479 903.7 L481 903.7 L483 903.7 L485 903.7 L487 903.7 L489 903.8 L491 903.8 L493 903.8 L495 903.8 L497 903.8 L499 903.8 L501 903.8 L503 903.8 L505 903.9 L507 903.9 L509 903.9 L511 903.9 L513 903.9 L515 903.9 L517 903.9 L519 903.9 L521 904 L523 904 L525 904 L527 904 L529 904 L531 904 L533 904 L535 904 L537 904.1 L539 904.1 L541 904.1 L543 904.1 L545 904.1 L547 904.1 L549 904.1 L551 904.1 L553 904.2 L555 904.2 L557 904.2 L559 904.2 L561 904.2 L563 904.2 L565 904.2 L567 904.2 L569 904.3 L571 904.3 L573 904.3 L575 904.3 L577 904.3 L579 904.3 L581 904.3 L583 904.3 L585 904.4 L587 904.4 L589 904.4 L591 904.4 L593 904.4 L595 904.4 L597 904.4 L599 904.4 L601 904.5 L603 904.5 L605 904.5 L607 904.5 L609 904.5 L611 904.5 L613 904.5 L615 904.5 L617 904.6 L619 904.6 L621 904.6 L623 904.6 L625 904.6 L627 904.6 L629 904.6 L631 904.6 L633 904.7 L635 904.7 L637 904.7 L639 904.7 L641 904.7 L643 904.7 L645 904.7 L647 904.7 L649 904.8 L651 904.8 L653 904.8 L655 904.8 L657 904.8 L659 904.8 L661 904.8 L663 904.8 L665 904.9 L667 904.9 L669 904.9 L671 904.9 L673 904.9 L675 904.9 L677 904.9 L679 904.9 L681 905 L683 905 L685 905 L687 905 L689 905 L691 905 L693 905 L695 905 L697 905.1 L699 905.1 L701 905.1 L703 905.1 L705 905.1 L707 905.1 L709 905.1 L711 905.1 L713 905.2 L715 905.2 L717 905.2 L719 905.2 L721 905.2 L723 905.2 L725 905.2 L727 905.2 L729 905.3 L731 905.3 L733 905.3 L735 905.3 L737 905.3 L739 905.3 L741 905.3 L743 905.3 L745 905.4 L747 905.4 L749 905.4 L751 905.4 L753 905.4 L755 905.4 L757 905.4 L759 905.4 L761 905.5 L763 905.5 L765 905.5 L767 905.5 L769 905.5 L771 905.5 L773 905.5 L775 905.5 L777 905.6 L779 905.6 L781 905.6 L783 905.6 L785 905.6 L787 905.6 L789 905.6 L791 905.6 L793 905.7 L795 905.7 L797 905.7 L799 905.7 L801 905.7 L803 905.7 L805 905.7 L807 905.7 L809 905.8 L811 905.8 L813 905.8 L815 905.8 L817 905.8 L819 905.8 L821 905.8 L823 905.8 L825 905.9 L827 905.9 L829 905.9 L831 905.9 L833 905.9 L835 905.9 L837 905.9 L839 905.9 L841 906 L843 906 L845 906 L847 906" fill="none" stroke="#404040" stroke-width="4" stroke-linejoin="round" />
<path d="M77 901.2 L79 901.2 L81 901.2 L83 901.2 L85 901.2 L87 901.2 L89 901.2 L91 901.2 L93 901.3 L95 901.3 L97 901.3 L99 901.3 L101 901.3 L103 901.3 L105 901.3 L107 901.3 L109 901.3 L111 901.4 L113 901.4 L115 901.4 L117 901.4 L119 901.4 L121 901.4 L123 901.4 L125 901.4 L127 901.5 L129 901.5 L131 901.5 L133 901.5 L135 901.5 L137 901.5 L139 901.5 L141 901.5 L143 901.6 L145 901.6 L147 901.6 L149 901.6 L151 901.6 L153 901.6 L155 901.6 L157 901.6 L159 901.6 L161 901.7 L163 901.7 L165 901.7 L167 901.7 L169 901.7 L171 901.7 L173 901.7 L175 901.7 L177 901.8 L179 901.8 L181 901.8 L183 901.8 L185 901.8 L187 901.8 L189 901.8 L191 901.8 L193 901.9 L195 901.9 L197 901.9 L199 901.9 L201 901.9 L203 901.9 L205 901.9 L207 901.9 L209 901.9 L211 902 L213 902 L215 902 L217 902 L219 902 L221 902 L223 902 L225 902 L227 902.1 L229 902.1 L231 902.1 L233 902.1 L235 902.1 L237 902.1 L239 902.1 L241 902.1 L243 902.1 L245 902.2 L247 902.2 L249 902.2 L251 902.2 L253 902.2 L255 902.2 L257 902.2 L259 902.2 L261 902.2 L263 902.3 L265 902.3 L267 902.3 L269 902.3 L271 902.3 L273 902.3 L275 902.3 L277 902.3 L279 902.3 L281 902.4 L283 902.4 L285 902.4 L287 902.4 L289 902.4 L291 902.4 L293 902.4 L295 902.4 L297 902.4 L299 902.5 L301 902.5 L303 902.5 L305 902.5 L307 902.5 L309 902.5 L311 902.5 L313 902.5 L315 902.5 L317 902.6 L319 902.6 L321 902.6 L323 902.6 L325 902.6 L327 902.6 L329 902.6 L331 902.6 L333 902.6 L335 902.7 L337 902.7 L339 902.7 L341 902.7 L343 902.7 L345 902.7 L347 902.7 L349 902.7 L351 902.7 L353 902.7 L355 902.8 L357 902.8 L359 902.8 L361 902.8 L363 902.8 L365 902.8 L367 902.8 L369 902.8 L371 902.8 L373 902.8 L375 902.9 L377 902.9 L379 902.9 L381 902.9 L383 902.9 L385 902.9 L387 902.9 L389 902.9 L391 902.9 L393 902.9 L395 902.9 L397 903 L399 903 L401 903 L403 903 L405 903 L407 903 L409 903 L411 903 L413 903 L415 903 L417 903 L419 903 L421 903 L423 903.1 L425 903.1 L427 903.1 L429 903.1 L431 903.1 L433 903.1 L435 903.1 L437 903.1 L439 903.1 L441 903.1 L443 903.1 L445 903.1 L447 903.1 L449 903.1 L451 903.1 L453 903.1 L455 903.1 L457 903.1 L459 903.1 L461 903.1 L463 903.1 L465 903.1 L467 903.1 L469 903.1 L471 903.1 L473 903.1 L475 903.1 L477 903.1 L479 903.1 L481 903.1 L483 903.1 L485 903.1 L487 903.1 L489 903.1 L491 903.1 L493 903 L495 903 L497 903 L499 902.9 L501 902.9 L503 902.9 L505 902.8 L507 902.7 L509 902.7 L511 902.6 L513 902.5 L515 902.4 L517 902.2 L519 902.1 L521 901.9 L523 901.8 L525 901.6 L527 901.3 L529 901.1 L531 900.8 L533 900.5 L535 900.1 L537 899.7 L539 899.3 L541 898.8 L543 898.3 L545 897.7 L547 897 L549 896.3 L551 895.6 L553 894.8 L555 893.9 L557 893 L559 892 L561 890.9 L563 889.7 L565 888.5 L567 887.2 L569 885.8 L571 884.4 L573 882.9 L575 881.3 L577 879.7 L579 878 L581 876.2 L583 874.4 L585 872.6 L587 870.7 L589 868.8 L591 866.9 L593 864.9 L595 863 L597 861 L599 859.1 L601 857.2 L603 855.4 L605 853.6 L607 851.9 L609 850.2 L611 848.7 L613 847.2 L615 845.9 L617 844.6 L619 843.5 L621 842.6 L623 841.8 L625 841.2 L627 840.7 L629 840.5 L631 840.3 L633 840.4 L635 840.7 L637 841.1 L639 841.6 L641 842.4 L643 843.3 L645 844.4 L647 845.5 L649 846.9 L651 848.3 L653 849.8 L655 851.5 L657 853.2 L659 855 L661 856.9 L663 858.8 L665 860.7 L667 862.6 L669 864.6 L671 866.6 L673 868.5 L675 870.5 L677 872.4 L679 874.3 L681 876.1 L683 877.9 L685 879.7 L687 881.4 L689 883 L691 884.5 L693 886 L695 887.5 L697 888.8 L699 890.1 L701 891.3 L703 892.4 L705 893.5 L707 894.5 L709 895.4 L711 896.3 L713 897.1 L715 897.8 L717 898.5 L719 899.1 L721 899.7 L723 900.2 L725 900.7 L727 901.1 L729 901.5 L731 901.9 L733 902.2 L735 902.5 L737 902.8 L739 903 L741 903.2 L743 903.4 L745 903.6 L747 903.8 L749 903.9 L751 904 L753 904.1 L755 904.2 L757 904.3 L759 904.4 L761 904.5 L763 904.6 L765 904.6 L767 904.7 L769 904.7 L771 904.8 L773 904.8 L775 904.9 L777 904.9 L779 904.9 L781 905 L783 905 L785 905 L787 905.1 L789 905.1 L791 905.1 L793 905.2 L795 905.2 L797 905.2 L799 905.2 L801 905.3 L803 905.3 L805 905.3 L807 905.3 L809 905.3 L811 905.4 L813 905.4 L815 905.4 L817 905.4 L819 905.4 L821 905.5 L823 905.5 L825 905.5 L827 905.5 L829 905.5 L831 905.6 L833 905.6 L835 905.6 L837 905.6 L839 905.6 L841 905.7 L843 905.7 L845 905.7 L847 905.7" fill="none" stroke="#3cbe6e" stroke-width="4.6" stroke-linejoin="round" />
<path d="M77 901.1 L79 901.1 L81 901.1 L83 901.2 L85 901.2 L87 901.2 L89 901.2 L91 901.2 L93 901.2 L95 901.2 L97 901.2 L99 901.2 L101 901.3 L103 901.3 L105 901.3 L107 901.3 L109 901.3 L111 901.3 L113 901.3 L115 901.3 L117 901.4 L119 901.4 L121 901.4 L123 901.4 L125 901.4 L127 901.4 L129 901.4 L131 901.4 L133 901.4 L135 901.5 L137 901.5 L139 901.5 L141 901.5 L143 901.5 L145 901.5 L147 901.5 L149 901.5 L151 901.5 L153 901.6 L155 901.6 L157 901.6 L159 901.6 L161 901.6 L163 901.6 L165 901.6 L167 901.6 L169 901.6 L171 901.7 L173 901.7 L175 901.7 L177 901.7 L179 901.7 L181 901.7 L183 901.7 L185 901.7 L187 901.7 L189 901.8 L191 901.8 L193 901.8 L195 901.8 L197 901.8 L199 901.8 L201 901.8 L203 901.8 L205 901.8 L207 901.9 L209 901.9 L211 901.9 L213 901.9 L215 901.9 L217 901.9 L219 901.9 L221 901.9 L223 901.9 L225 902 L227 902 L229 902 L231 902 L233 902 L235 902 L237 902 L239 902 L241 902 L243 902 L245 902.1 L247 902.1 L249 902.1 L251 902.1 L253 902.1 L255 902.1 L257 902.1 L259 902.1 L261 902.1 L263 902.1 L265 902.2 L267 902.2 L269 902.2 L271 902.2 L273 902.2 L275 902.2 L277 902.2 L279 902.2 L281 902.2 L283 902.2 L285 902.3 L287 902.3 L289 902.3 L291 902.3 L293 902.3 L295 902.3 L297 902.3 L299 902.3 L301 902.3 L303 902.3 L305 902.3 L307 902.3 L309 902.4 L311 902.4 L313 902.4 L315 902.4 L317 902.4 L319 902.4 L321 902.4 L323 902.4 L325 902.4 L327 902.4 L329 902.4 L331 902.4 L333 902.4 L335 902.4 L337 902.4 L339 902.5 L341 902.5 L343 902.5 L345 902.5 L347 902.5 L349 902.5 L351 902.5 L353 902.5 L355 902.5 L357 902.5 L359 902.5 L361 902.5 L363 902.5 L365 902.5 L367 902.5 L369 902.5 L371 902.5 L373 902.5 L375 902.5 L377 902.4 L379 902.4 L381 902.4 L383 902.4 L385 902.4 L387 902.4 L389 902.4 L391 902.3 L393 902.3 L395 902.3 L397 902.2 L399 902.2 L401 902.1 L403 902.1 L405 902 L407 902 L409 901.9 L411 901.9 L413 901.8 L415 901.7 L417 901.6 L419 901.5 L421 901.4 L423 901.3 L425 901.2 L427 901 L429 900.9 L431 900.7 L433 900.5 L435 900.4 L437 900.2 L439 899.9 L441 899.7 L443 899.5 L445 899.2 L447 899 L449 898.7 L451 898.4 L453 898 L455 897.7 L457 897.3 L459 897 L461 896.6 L463 896.2 L465 895.7 L467 895.3 L469 894.8 L471 894.3 L473 893.8 L475 893.3 L477 892.7 L479 892.2 L481 891.6 L483 891 L485 890.4 L487 889.8 L489 889.1 L491 888.5 L493 887.8 L495 887.1 L497 886.5 L499 885.8 L501 885.1 L503 884.4 L505 883.7 L507 883 L509 882.3 L511 881.6 L513 880.9 L515 880.2 L517 879.6 L519 878.9 L521 878.3 L523 877.7 L525 877.1 L527 876.5 L529 876 L531 875.4 L533 874.9 L535 874.5 L537 874.1 L539 873.7 L541 873.3 L543 873 L545 872.8 L547 872.6 L549 872.4 L551 872.3 L553 872.2 L555 872.2 L557 872.2 L559 872.3 L561 872.4 L563 872.6 L565 872.8 L567 873 L569 873.3 L571 873.7 L573 874.1 L575 874.5 L577 874.9 L579 875.4 L581 876 L583 876.5 L585 877.1 L587 877.7 L589 878.3 L591 879 L593 879.7 L595 880.3 L597 881 L599 881.7 L601 882.4 L603 883.2 L605 883.9 L607 884.6 L609 885.3 L611 886.1 L613 886.8 L615 887.5 L617 888.2 L619 888.9 L621 889.6 L623 890.2 L625 890.9 L627 891.5 L629 892.2 L631 892.8 L633 893.4 L635 893.9 L637 894.5 L639 895.1 L641 895.6 L643 896.1 L645 896.6 L647 897 L649 897.5 L651 897.9 L653 898.3 L655 898.7 L657 899.1 L659 899.5 L661 899.8 L663 900.1 L665 900.4 L667 900.7 L669 901 L671 901.2 L673 901.5 L675 901.7 L677 901.9 L679 902.1 L681 902.3 L683 902.5 L685 902.7 L687 902.8 L689 903 L691 903.1 L693 903.3 L695 903.4 L697 903.5 L699 903.6 L701 903.7 L703 903.8 L705 903.9 L707 904 L709 904 L711 904.1 L713 904.2 L715 904.2 L717 904.3 L719 904.3 L721 904.4 L723 904.4 L725 904.5 L727 904.5 L729 904.6 L731 904.6 L733 904.6 L735 904.7 L737 904.7 L739 904.7 L741 904.8 L743 904.8 L745 904.8 L747 904.9 L749 904.9 L751 904.9 L753 904.9 L755 905 L757 905 L759 905 L761 905 L763 905.1 L765 905.1 L767 905.1 L769 905.1 L771 905.1 L773 905.2 L775 905.2 L777 905.2 L779 905.2 L781 905.2 L783 905.2 L785 905.3 L787 905.3 L789 905.3 L791 905.3 L793 905.3 L795 905.4 L797 905.4 L799 905.4 L801 905.4 L803 905.4 L805 905.4 L807 905.5 L809 905.5 L811 905.5 L813 905.5 L815 905.5 L817 905.5 L819 905.6 L821 905.6 L823 905.6 L825 905.6 L827 905.6 L829 905.6 L831 905.7 L833 905.7 L835 905.7 L837 905.7 L839 905.7 L841 905.7 L843 905.7 L845 905.8 L847 905.8" fill="none" stroke="#ff7f0e" stroke-width="4.6" stroke-linejoin="round" />
<path d="M77 901.1 L79 901.1 L81 901.1 L83 901.1 L85 901.1 L87 901.1 L89 901.1 L91 901.2 L93 901.2 L95 901.2 L97 901.2 L99 901.2 L101 901.2 L103 901.2 L105 901.2 L107 901.2 L109 901.2 L111 901.3 L113 901.3 L115 901.3 L117 901.3 L119 901.3 L121 901.3 L123 901.3 L125 901.3 L127 901.3 L129 901.4 L131 901.4 L133 901.4 L135 901.4 L137 901.4 L139 901.4 L141 901.4 L143 901.4 L145 901.4 L147 901.4 L149 901.5 L151 901.5 L153 901.5 L155 901.5 L157 901.5 L159 901.5 L161 901.5 L163 901.5 L165 901.5 L167 901.5 L169 901.6 L171 901.6 L173 901.6 L175 901.6 L177 901.6 L179 901.6 L181 901.6 L183 901.6 L185 901.6 L187 901.6 L189 901.6 L191 901.6 L193 901.7 L195 901.7 L197 901.7 L199 901.7 L201 901.7 L203 901.7 L205 901.7 L207 901.7 L209 901.7 L211 901.7 L213 901.7 L215 901.7 L217 901.7 L219 901.7 L221 901.8 L223 901.8 L225 901.8 L227 901.8 L229 901.8 L231 901.8 L233 901.8 L235 901.8 L237 901.8 L239 901.8 L241 901.8 L243 901.8 L245 901.8 L247 901.8 L249 901.8 L251 901.8 L253 901.8 L255 901.7 L257 901.7 L259 901.7 L261 901.7 L263 901.7 L265 901.7 L267 901.7 L269 901.6 L271 901.6 L273 901.6 L275 901.6 L277 901.5 L279 901.5 L281 901.5 L283 901.4 L285 901.4 L287 901.4 L289 901.3 L291 901.3 L293 901.2 L295 901.1 L297 901.1 L299 901 L301 900.9 L303 900.8 L305 900.8 L307 900.7 L309 900.6 L311 900.5 L313 900.4 L315 900.2 L317 900.1 L319 900 L321 899.8 L323 899.7 L325 899.5 L327 899.4 L329 899.2 L331 899 L333 898.9 L335 898.7 L337 898.5 L339 898.3 L341 898 L343 897.8 L345 897.6 L347 897.4 L349 897.1 L351 896.9 L353 896.6 L355 896.3 L357 896 L359 895.8 L361 895.5 L363 895.2 L365 894.9 L367 894.6 L369 894.2 L371 893.9 L373 893.6 L375 893.3 L377 893 L379 892.6 L381 892.3 L383 892 L385 891.6 L387 891.3 L389 891 L391 890.6 L393 890.3 L395 890 L397 889.7 L399 889.4 L401 889.1 L403 888.8 L405 888.5 L407 888.2 L409 888 L411 887.7 L413 887.5 L415 887.3 L417 887 L419 886.9 L421 886.7 L423 886.5 L425 886.4 L427 886.3 L429 886.1 L431 886.1 L433 886 L435 886 L437 885.9 L439 886 L441 886 L443 886 L445 886.1 L447 886.2 L449 886.3 L451 886.4 L453 886.6 L455 886.7 L457 886.9 L459 887.1 L461 887.3 L463 887.6 L465 887.8 L467 888.1 L469 888.4 L471 888.7 L473 889 L475 889.3 L477 889.6 L479 889.9 L481 890.2 L483 890.6 L485 890.9 L487 891.3 L489 891.6 L491 892 L493 892.3 L495 892.7 L497 893.1 L499 893.4 L501 893.8 L503 894.1 L505 894.5 L507 894.8 L509 895.2 L511 895.5 L513 895.8 L515 896.1 L517 896.5 L519 896.8 L521 897.1 L523 897.4 L525 897.7 L527 898 L529 898.3 L531 898.5 L533 898.8 L535 899 L537 899.3 L539 899.5 L541 899.8 L543 900 L545 900.2 L547 900.4 L549 900.6 L551 900.8 L553 901 L555 901.2 L557 901.3 L559 901.5 L561 901.6 L563 901.8 L565 901.9 L567 902.1 L569 902.2 L571 902.3 L573 902.4 L575 902.5 L577 902.7 L579 902.8 L581 902.8 L583 902.9 L585 903 L587 903.1 L589 903.2 L591 903.3 L593 903.3 L595 903.4 L597 903.5 L599 903.5 L601 903.6 L603 903.6 L605 903.7 L607 903.7 L609 903.8 L611 903.8 L613 903.9 L615 903.9 L617 903.9 L619 904 L621 904 L623 904 L625 904.1 L627 904.1 L629 904.1 L631 904.2 L633 904.2 L635 904.2 L637 904.2 L639 904.3 L641 904.3 L643 904.3 L645 904.3 L647 904.4 L649 904.4 L651 904.4 L653 904.4 L655 904.4 L657 904.5 L659 904.5 L661 904.5 L663 904.5 L665 904.5 L667 904.6 L669 904.6 L671 904.6 L673 904.6 L675 904.6 L677 904.6 L679 904.7 L681 904.7 L683 904.7 L685 904.7 L687 904.7 L689 904.7 L691 904.8 L693 904.8 L695 904.8 L697 904.8 L699 904.8 L701 904.8 L703 904.9 L705 904.9 L707 904.9 L709 904.9 L711 904.9 L713 904.9 L715 905 L717 905 L719 905 L721 905 L723 905 L725 905 L727 905 L729 905.1 L731 905.1 L733 905.1 L735 905.1 L737 905.1 L739 905.1 L741 905.2 L743 905.2 L745 905.2 L747 905.2 L749 905.2 L751 905.2 L753 905.2 L755 905.3 L757 905.3 L759 905.3 L761 905.3 L763 905.3 L765 905.3 L767 905.3 L769 905.4 L771 905.4 L773 905.4 L775 905.4 L777 905.4 L779 905.4 L781 905.4 L783 905.5 L785 905.5 L787 905.5 L789 905.5 L791 905.5 L793 905.5 L795 905.5 L797 905.5 L799 905.6 L801 905.6 L803 905.6 L805 905.6 L807 905.6 L809 905.6 L811 905.6 L813 905.7 L815 905.7 L817 905.7 L819 905.7 L821 905.7 L823 905.7 L825 905.7 L827 905.8 L829 905.8 L831 905.8 L833 905.8 L835 905.8 L837 905.8 L839 905.8 L841 905.8 L843 905.9 L845 905.9 L847 905.9" fill="none" stroke="#2e6399" stroke-width="4.6" stroke-linejoin="round" />
<path d="M70 1166.1 L72 1166 L74 1166.1 L76 1166.4 L78 1166.4 L80 1166.2 L82 1165.9 L84 1165.9 L86 1166.1 L88 1166.2 L90 1165.8 L92 1165.4 L94 1165.5 L96 1165.6 L98 1165.4 L100 1165.1 L102 1164.8 L104 1164.9 L106 1164.8 L108 1164.7 L110 1164.8 L112 1164.8 L114 1164.7 L116 1164.6 L118 1164.6 L120 1164.3 L122 1164.1 L124 1163.7 L126 1163.7 L128 1163.4 L130 1163.4 L132 1163.2 L134 1163.2 L136 1162.9 L138 1162.6 L140 1162.4 L142 1162.2 L144 1162.2 L146 1162.1 L148 1162.3 L150 1162.3 L152 1162.2 L154 1162.1 L156 1161.9 L158 1162.3 L160 1162.3 L162 1162.3 L164 1162.4 L166 1162.5 L168 1163.1 L170 1163.1 L172 1163.5 L174 1163.4 L176 1163.7 L178 1163.6 L180 1164.1 L182 1164.4 L184 1165 L186 1165 L188 1165.1 L190 1165.1 L192 1165 L194 1165 L196 1165.2 L198 1165.4 L200 1165.5 L202 1165.5 L204 1165.7 L206 1165.8 L208 1165.9 L210 1166 L212 1166.2 L214 1166.2 L216 1166.4 L218 1166.3 L220 1166.4 L222 1166.2 L224 1166.6 L226 1166.8 L228 1166.9 L230 1166.7 L232 1166.9 L234 1166.9 L236 1166.9 L238 1167 L240 1167 L242 1167.2 L244 1167.1 L246 1167.2 L248 1167.2 L250 1167.4 L252 1167.3 L254 1167.2 L256 1166.7 L258 1166.7 L260 1166.8 L262 1167.1 L264 1167 L266 1166.9 L268 1166.8 L270 1166.7 L272 1166.8 L274 1166.8 L276 1166.8 L278 1167 L280 1167 L282 1166.7 L284 1166.6 L286 1166.6 L288 1166.6 L290 1166.4 L292 1166.3 L294 1166.2 L296 1165.8 L298 1165.5 L300 1165.4 L302 1165.4 L304 1165.3 L306 1165.1 L308 1165 L310 1164.6 L312 1164.3 L314 1163.7 L316 1163.3 L318 1162.8 L320 1162.4 L322 1162.1 L324 1161.6 L326 1161.1 L328 1160.6 L330 1160.1 L332 1159.6 L334 1159 L336 1158.4 L338 1158 L340 1157.3 L342 1156.6 L344 1155.8 L346 1154.9 L348 1154.1 L350 1153.4 L352 1152.9 L354 1152.4 L356 1151.5 L358 1150.5 L360 1149.8 L362 1149.2 L364 1148.4 L366 1147.5 L368 1146.6 L370 1145.6 L372 1144.6 L374 1143.7 L376 1143.3 L378 1142.5 L380 1141.7 L382 1140.7 L384 1140 L386 1139.2 L388 1138.5 L390 1138 L392 1137.4 L394 1136.6 L396 1135.6 L398 1134.8 L400 1134.2 L402 1133.6 L404 1132.8 L406 1132.6 L408 1132.2 L410 1131.7 L412 1131.1 L414 1130.6 L416 1129.9 L418 1129.2 L420 1128.5 L422 1128.4 L424 1128.1 L426 1127.7 L428 1127.1 L430 1127 L432 1126.9 L434 1126.3 L436 1125.5 L438 1125.1 L440 1124.6 L442 1124.3 L444 1123.6 L446 1123.4 L448 1123.4 L450 1123.2 L452 1122.9 L454 1122.7 L456 1122.7 L458 1123.2 L460 1123.2 L462 1123.1 L464 1122.9 L466 1123.2 L468 1123.6 L470 1123.6 L472 1123.4 L474 1123.5 L476 1124 L478 1123.9 L480 1124 L482 1123.9 L484 1123.9 L486 1123.6 L488 1123.4 L490 1123.4 L492 1123.2 L494 1122.6 L496 1122 L498 1121.3 L500 1120.7 L502 1119.9 L504 1119.4 L506 1118.9 L508 1118.9 L510 1118.4 L512 1118.1 L514 1117.4 L516 1117 L518 1116.4 L520 1115.3 L522 1114.7 L524 1113.9 L526 1113.1 L528 1112.1 L530 1111.1 L532 1110.3 L534 1109.2 L536 1107.7 L538 1106.2 L540 1104.8 L542 1103.1 L544 1101.2 L546 1098.6 L548 1095.8 L550 1093.2 L552 1090.8 L554 1088.6 L556 1086.1 L558 1083.5 L560 1080.7 L562 1078.1 L564 1075.1 L566 1071.3 L568 1066.7 L570 1062.1 L572 1057.5 L574 1052.8 L576 1047.6 L578 1042.3 L580 1037.1 L582 1031.9 L584 1026.6 L586 1021.2 L588 1015.6 L590 1009.6 L592 1003.5 L594 997.4 L596 991.3 L598 985.4 L600 979.4 L602 973.3 L604 966.9 L606 960.9 L608 955.3 L610 949.7 L612 943.6 L614 938.6 L616 934.4 L618 930.6 L620 926.9 L622 924.1 L624 922.5 L626 921.4 L628 920.3 L630 919.8 L632 919.5 L634 920.1 L636 921.7 L638 924.2 L640 927.7 L642 931.2 L644 936.3 L646 942.4 L648 949.1 L650 955.8 L652 962.1 L654 968.5 L656 975 L658 982.3 L660 990.3 L662 999.1 L664 1008.1 L666 1017.3 L668 1025.7 L670 1034.4 L672 1042.3 L674 1050.2 L676 1057.6 L678 1065.1 L680 1072.5 L682 1079.6 L684 1086.4 L686 1093 L688 1099.1 L690 1104.6 L692 1109.8 L694 1115.1 L696 1120.4 L698 1125.5 L700 1130.4 L702 1135.1 L704 1139 L706 1143 L708 1146.9 L710 1150.7 L712 1154 L714 1156.6 L716 1159.3 L718 1161.5 L720 1163.3 L722 1164.7 L724 1166.1 L726 1167.4 L728 1168.5 L730 1169.4 L732 1170.3 L734 1171.1 L736 1171.9 L738 1172.2 L740 1172.6 L742 1173 L744 1173.5 L746 1173.9 L748 1174 L750 1174.3 L752 1174.4 L754 1174.2 L756 1174.2 L758 1174.1 L760 1174.2 L762 1174.3 L764 1174.3 L766 1174.4 L768 1174.6 L770 1174.8 L772 1175 L774 1175 L776 1175 L778 1175.1 L780 1175.3 L782 1175.4 L784 1175.5 L786 1175.7 L788 1175.8 L790 1176 L792 1176 L794 1175.9 L796 1175.9 L798 1176.1 L800 1176.2 L802 1175.9 L804 1175.6 L806 1175.7 L808 1176.2 L810 1176.8 L812 1176.9 L814 1176.9 L816 1176.8 L818 1176.5 L820 1176.7 L822 1176.7 L824 1177 L826 1176.9 L828 1177.1 L830 1177.2 L832 1177.1 L834 1177.1 L836 1176.9 L838 1177 L840 1177.3 L842 1177.4 L844 1177.6 L846 1177.5 L848 1177.6" fill="none" stroke="#808080" stroke-width="7" stroke-linejoin="round" />
<path d="M70 1166.1 L72 1166 L74 1166.1 L76 1166.4 L78 1166.4 L80 1166.2 L82 1165.9 L84 1165.9 L86 1166.1 L88 1166.2 L90 1165.8 L92 1165.4 L94 1165.5 L96 1165.6 L98 1165.4 L100 1165.1 L102 1164.8 L104 1164.9 L106 1164.8 L108 1164.7 L110 1164.8 L112 1164.8 L114 1164.7 L116 1164.6 L118 1164.6 L120 1164.3 L122 1164.1 L124 1163.7 L126 1163.7 L128 1163.4 L130 1163.4 L132 1163.2 L134 1163.2 L136 1162.9 L138 1162.6 L140 1162.4 L142 1162.2 L144 1162.2 L146 1162.1 L148 1162.3 L150 1162.3 L152 1162.2 L154 1162.1 L156 1161.9 L158 1162.3 L160 1162.3 L162 1162.3 L164 1162.4 L166 1162.5 L168 1163.1 L170 1163.1 L172 1163.5 L174 1163.4 L176 1163.7 L178 1163.6 L180 1164.1 L182 1164.4 L184 1165 L186 1165 L188 1165.1 L190 1165.1 L192 1165 L194 1165 L196 1165.2 L198 1165.4 L200 1165.5 L202 1165.5 L204 1165.7 L206 1165.8 L208 1165.9 L210 1166 L212 1166.2 L214 1166.2 L216 1166.4 L218 1166.3 L220 1166.4 L222 1166.2 L224 1166.6 L226 1166.8 L228 1166.9 L230 1166.7 L232 1166.9 L234 1166.9 L236 1166.9 L238 1167 L240 1167 L242 1167.2 L244 1167.1 L246 1167.2 L248 1167.2 L250 1167.4 L252 1167.3 L254 1167.2 L256 1166.7 L258 1166.7 L260 1166.8 L262 1167.1 L264 1167 L266 1166.9 L268 1166.8 L270 1166.7 L272 1166.8 L274 1166.8 L276 1166.8 L278 1167 L280 1167 L282 1166.7 L284 1166.6 L286 1166.6 L288 1166.6 L290 1166.4 L292 1166.3 L294 1166.2 L296 1165.8 L298 1165.5 L300 1165.4 L302 1165.4 L304 1165.3 L306 1165.1 L308 1165 L310 1164.6 L312 1164.3 L314 1163.7 L316 1163.3 L318 1162.8 L320 1162.4 L322 1162.1 L324 1161.6 L326 1161.1 L328 1160.6 L330 1160.1 L332 1159.6 L334 1159 L336 1158.4 L338 1158 L340 1157.3 L342 1156.6 L344 1155.8 L346 1154.9 L348 1154.1 L350 1153.4 L352 1152.9 L354 1152.4 L356 1151.5 L358 1150.5 L360 1149.8 L362 1149.2 L364 1148.4 L366 1147.5 L368 1146.6 L370 1145.6 L372 1144.6 L374 1143.7 L376 1143.3 L378 1142.5 L380 1141.7 L382 1140.7 L384 1140 L386 1139.2 L388 1138.5 L390 1138 L392 1137.4 L394 1136.6 L396 1135.6 L398 1134.8 L400 1134.2 L402 1133.6 L404 1132.8 L406 1132.6 L408 1132.2 L410 1131.7 L412 1131.1 L414 1130.6 L416 1129.9 L418 1129.2 L420 1128.5 L422 1128.4 L424 1128.1 L426 1127.7 L428 1127.1 L430 1127 L432 1126.9 L434 1126.3 L436 1125.5 L438 1125.1 L440 1124.6 L442 1124.3 L444 1123.6 L446 1123.4 L448 1123.4 L450 1123.2 L452 1122.9 L454 1122.7 L456 1122.7 L458 1123.2 L460 1123.2 L462 1123.1 L464 1122.9 L466 1123.2 L468 1123.6 L470 1123.6 L472 1123.4 L474 1123.5 L476 1124 L478 1123.9 L480 1124 L482 1123.9 L484 1123.9 L486 1123.6 L488 1123.4 L490 1123.4 L492 1123.2 L494 1122.6 L496 1122 L498 1121.3 L500 1120.7 L502 1119.9 L504 1119.4 L506 1118.9 L508 1118.9 L510 1118.4 L512 1118.1 L514 1117.4 L516 1117 L518 1116.4 L520 1115.3 L522 1114.7 L524 1113.9 L526 1113.1 L528 1112.1 L530 1111.1 L532 1110.3 L534 1109.2 L536 1107.7 L538 1106.2 L540 1104.8 L542 1103.1 L544 1101.2 L546 1098.6 L548 1095.8 L550 1093.2 L552 1090.8 L554 1088.6 L556 1086.1 L558 1083.5 L560 1080.7 L562 1078.1 L564 1075.1 L566 1071.3 L568 1066.7 L570 1062.1 L572 1057.5 L574 1052.8 L576 1047.6 L578 1042.3 L580 1037.1 L582 1031.9 L584 1026.6 L586 1021.2 L588 1015.6 L590 1009.6 L592 1003.5 L594 997.4 L596 991.3 L598 985.4 L600 979.4 L602 973.3 L604 966.9 L606 960.9 L608 955.3 L610 949.7 L612 943.6 L614 938.6 L616 934.4 L618 930.6 L620 926.9 L622 924.1 L624 922.5 L626 921.4 L628 920.3 L630 919.8 L632 919.5 L634 920.1 L636 921.7 L638 924.2 L640 927.7 L642 931.2 L644 936.3 L646 942.4 L648 949.1 L650 955.8 L652 962.1 L654 968.5 L656 975 L658 982.3 L660 990.3 L662 999.1 L664 1008.1 L666 1017.3 L668 1025.7 L670 1034.4 L672 1042.3 L674 1050.2 L676 1057.6 L678 1065.1 L680 1072.5 L682 1079.6 L684 1086.4 L686 1093 L688 1099.1 L690 1104.6 L692 1109.8 L694 1115.1 L696 1120.4 L698 1125.5 L700 1130.4 L702 1135.1 L704 1139 L706 1143 L708 1146.9 L710 1150.7 L712 1154 L714 1156.6 L716 1159.3 L718 1161.5 L720 1163.3 L722 1164.7 L724 1166.1 L726 1167.4 L728 1168.5 L730 1169.4 L732 1170.3 L734 1171.1 L736 1171.9 L738 1172.2 L740 1172.6 L742 1173 L744 1173.5 L746 1173.9 L748 1174 L750 1174.3 L752 1174.4 L754 1174.2 L756 1174.2 L758 1174.1 L760 1174.2 L762 1174.3 L764 1174.3 L766 1174.4 L768 1174.6 L770 1174.8 L772 1175 L774 1175 L776 1175 L778 1175.1 L780 1175.3 L782 1175.4 L784 1175.5 L786 1175.7 L788 1175.8 L790 1176 L792 1176 L794 1175.9 L796 1175.9 L798 1176.1 L800 1176.2 L802 1175.9 L804 1175.6 L806 1175.7 L808 1176.2 L810 1176.8 L812 1176.9 L814 1176.9 L816 1176.8 L818 1176.5 L820 1176.7 L822 1176.7 L824 1177 L826 1176.9 L828 1177.1 L830 1177.2 L832 1177.1 L834 1177.1 L836 1176.9 L838 1177 L840 1177.3 L842 1177.4 L844 1177.6 L846 1177.5 L848 1177.6" fill="none" stroke="#404040" stroke-width="6" stroke-linejoin="round" stroke-dasharray="8 4"/>
<g fill="none" stroke="#7c7c7c" stroke-width="1.3"><circle cx="71" cy="1166" r="4.8"/><circle cx="79.6" cy="1166.2" r="4.8"/><circle cx="88.2" cy="1166.1" r="4.8"/><circle cx="96.8" cy="1165.5" r="4.8"/><circle cx="105.4" cy="1164.8" r="4.8"/><circle cx="114" cy="1164.7" r="4.8"/><circle cx="122.6" cy="1164" r="4.8"/><circle cx="131.2" cy="1163.3" r="4.8"/><circle cx="139.8" cy="1162.4" r="4.8"/><circle cx="148.4" cy="1162.3" r="4.8"/><circle cx="157" cy="1162.1" r="4.8"/><circle cx="165.6" cy="1162.5" r="4.8"/><circle cx="174.2" cy="1163.4" r="4.8"/><circle cx="182.8" cy="1164.6" r="4.8"/><circle cx="191.4" cy="1165" r="4.8"/><circle cx="200" cy="1165.5" r="4.8"/><circle cx="208.6" cy="1165.9" r="4.8"/><circle cx="217.2" cy="1166.3" r="4.8"/><circle cx="225.8" cy="1166.8" r="4.8"/><circle cx="234.4" cy="1166.9" r="4.8"/><circle cx="243" cy="1167.1" r="4.8"/><circle cx="251.6" cy="1167.4" r="4.8"/><circle cx="260.2" cy="1166.9" r="4.8"/><circle cx="268.8" cy="1166.8" r="4.8"/><circle cx="277.4" cy="1166.9" r="4.8"/><circle cx="286" cy="1166.6" r="4.8"/><circle cx="294.6" cy="1166.1" r="4.8"/><circle cx="303.2" cy="1165.4" r="4.8"/><circle cx="311.8" cy="1164.3" r="4.8"/><circle cx="320.4" cy="1162.3" r="4.8"/><circle cx="329" cy="1160.3" r="4.8"/><circle cx="337.6" cy="1158.1" r="4.8"/><circle cx="346.2" cy="1154.8" r="4.8"/><circle cx="354.8" cy="1152" r="4.8"/><circle cx="363.4" cy="1148.6" r="4.8"/><circle cx="372" cy="1144.6" r="4.8"/><circle cx="380.6" cy="1141.4" r="4.8"/><circle cx="389.2" cy="1138.2" r="4.8"/><circle cx="397.8" cy="1134.9" r="4.8"/><circle cx="406.4" cy="1132.5" r="4.8"/><circle cx="415" cy="1130.2" r="4.8"/><circle cx="423.6" cy="1128.1" r="4.8"/><circle cx="432.2" cy="1126.8" r="4.8"/><circle cx="440.8" cy="1124.5" r="4.8"/><circle cx="449.4" cy="1123.3" r="4.8"/><circle cx="458" cy="1123.2" r="4.8"/><circle cx="466.6" cy="1123.3" r="4.8"/><circle cx="475.2" cy="1123.8" r="4.8"/><circle cx="483.8" cy="1123.9" r="4.8"/><circle cx="492.4" cy="1123.1" r="4.8"/><circle cx="501" cy="1120.3" r="4.8"/><circle cx="509.6" cy="1118.5" r="4.8"/><circle cx="518.2" cy="1116.3" r="4.8"/><circle cx="526.8" cy="1112.7" r="4.8"/><circle cx="535.4" cy="1108.1" r="4.8"/><circle cx="544" cy="1101.2" r="4.8"/><circle cx="552.6" cy="1090.1" r="4.8"/><circle cx="561.2" cy="1079.1" r="4.8"/><circle cx="569.8" cy="1062.6" r="4.8"/><circle cx="578.4" cy="1041.3" r="4.8"/><circle cx="587" cy="1018.4" r="4.8"/><circle cx="595.6" cy="992.6" r="4.8"/><circle cx="604.2" cy="966.3" r="4.8"/><circle cx="612.8" cy="941.6" r="4.8"/><circle cx="621.4" cy="924.9" r="4.8"/><circle cx="630" cy="919.8" r="4.8"/><circle cx="638.6" cy="925.2" r="4.8"/><circle cx="647.2" cy="946.4" r="4.8"/><circle cx="655.8" cy="974.4" r="4.8"/><circle cx="664.4" cy="1009.9" r="4.8"/><circle cx="673" cy="1046.2" r="4.8"/><circle cx="681.6" cy="1078.2" r="4.8"/><circle cx="690.2" cy="1105.1" r="4.8"/><circle cx="698.8" cy="1127.5" r="4.8"/><circle cx="707.4" cy="1145.7" r="4.8"/><circle cx="716" cy="1159.3" r="4.8"/><circle cx="724.6" cy="1166.5" r="4.8"/><circle cx="733.2" cy="1170.8" r="4.8"/><circle cx="741.8" cy="1173" r="4.8"/><circle cx="750.4" cy="1174.3" r="4.8"/><circle cx="759" cy="1174.2" r="4.8"/><circle cx="767.6" cy="1174.5" r="4.8"/><circle cx="776.2" cy="1175" r="4.8"/><circle cx="784.8" cy="1175.6" r="4.8"/><circle cx="793.4" cy="1175.9" r="4.8"/><circle cx="802" cy="1175.9" r="4.8"/><circle cx="810.6" cy="1176.8" r="4.8"/><circle cx="819.2" cy="1176.6" r="4.8"/><circle cx="827.8" cy="1177.1" r="4.8"/><circle cx="836.4" cy="1176.9" r="4.8"/><circle cx="845" cy="1177.6" r="4.8"/></g>
<path d="M70 1166.4 L72 1166.4 L74 1166.5 L76 1166.5 L78 1166.5 L80 1166.6 L82 1166.6 L84 1166.7 L86 1166.7 L88 1166.7 L90 1166.8 L92 1166.8 L94 1166.8 L96 1166.9 L98 1166.9 L100 1166.9 L102 1167 L104 1167 L106 1167 L108 1167.1 L110 1167.1 L112 1167.2 L114 1167.2 L116 1167.2 L118 1167.3 L120 1167.3 L122 1167.3 L124 1167.4 L126 1167.4 L128 1167.4 L130 1167.5 L132 1167.5 L134 1167.6 L136 1167.6 L138 1167.6 L140 1167.7 L142 1167.7 L144 1167.7 L146 1167.8 L148 1167.8 L150 1167.8 L152 1167.9 L154 1167.9 L156 1167.9 L158 1168 L160 1168 L162 1168.1 L164 1168.1 L166 1168.1 L168 1168.2 L170 1168.2 L172 1168.2 L174 1168.3 L176 1168.3 L178 1168.3 L180 1168.4 L182 1168.4 L184 1168.5 L186 1168.5 L188 1168.5 L190 1168.6 L192 1168.6 L194 1168.6 L196 1168.7 L198 1168.7 L200 1168.7 L202 1168.8 L204 1168.8 L206 1168.8 L208 1168.9 L210 1168.9 L212 1169 L214 1169 L216 1169 L218 1169.1 L220 1169.1 L222 1169.1 L224 1169.2 L226 1169.2 L228 1169.2 L230 1169.3 L232 1169.3 L234 1169.4 L236 1169.4 L238 1169.4 L240 1169.5 L242 1169.5 L244 1169.5 L246 1169.6 L248 1169.6 L250 1169.6 L252 1169.7 L254 1169.7 L256 1169.7 L258 1169.8 L260 1169.8 L262 1169.9 L264 1169.9 L266 1169.9 L268 1170 L270 1170 L272 1170 L274 1170.1 L276 1170.1 L278 1170.1 L280 1170.2 L282 1170.2 L284 1170.2 L286 1170.3 L288 1170.3 L290 1170.3 L292 1170.4 L294 1170.4 L296 1170.4 L298 1170.5 L300 1170.5 L302 1170.5 L304 1170.6 L306 1170.6 L308 1170.6 L310 1170.7 L312 1170.7 L314 1170.7 L316 1170.8 L318 1170.8 L320 1170.8 L322 1170.9 L324 1170.9 L326 1170.9 L328 1171 L330 1171 L332 1171 L334 1171.1 L336 1171.1 L338 1171.1 L340 1171.2 L342 1171.2 L344 1171.2 L346 1171.3 L348 1171.3 L350 1171.3 L352 1171.4 L354 1171.4 L356 1171.4 L358 1171.5 L360 1171.5 L362 1171.5 L364 1171.6 L366 1171.6 L368 1171.6 L370 1171.7 L372 1171.7 L374 1171.7 L376 1171.8 L378 1171.8 L380 1171.8 L382 1171.9 L384 1171.9 L386 1171.9 L388 1172 L390 1172 L392 1172 L394 1172.1 L396 1172.1 L398 1172.1 L400 1172.2 L402 1172.2 L404 1172.2 L406 1172.3 L408 1172.3 L410 1172.3 L412 1172.4 L414 1172.4 L416 1172.4 L418 1172.5 L420 1172.5 L422 1172.5 L424 1172.6 L426 1172.6 L428 1172.6 L430 1172.7 L432 1172.7 L434 1172.7 L436 1172.8 L438 1172.8 L440 1172.8 L442 1172.9 L444 1172.9 L446 1172.9 L448 1173 L450 1173 L452 1173 L454 1173.1 L456 1173.1 L458 1173.1 L460 1173.2 L462 1173.2 L464 1173.3 L466 1173.3 L468 1173.3 L470 1173.4 L472 1173.4 L474 1173.4 L476 1173.5 L478 1173.5 L480 1173.5 L482 1173.6 L484 1173.6 L486 1173.6 L488 1173.7 L490 1173.7 L492 1173.7 L494 1173.8 L496 1173.8 L498 1173.8 L500 1173.9 L502 1173.9 L504 1173.9 L506 1174 L508 1174 L510 1174 L512 1174.1 L514 1174.1 L516 1174.1 L518 1174.2 L520 1174.2 L522 1174.2 L524 1174.3 L526 1174.3 L528 1174.3 L530 1174.4 L532 1174.4 L534 1174.4 L536 1174.5 L538 1174.5 L540 1174.5 L542 1174.6 L544 1174.6 L546 1174.6 L548 1174.7 L550 1174.7 L552 1174.7 L554 1174.8 L556 1174.8 L558 1174.8 L560 1174.9 L562 1174.9 L564 1174.9 L566 1175 L568 1175 L570 1175 L572 1175.1 L574 1175.1 L576 1175.1 L578 1175.2 L580 1175.2 L582 1175.2 L584 1175.3 L586 1175.3 L588 1175.3 L590 1175.4 L592 1175.4 L594 1175.4 L596 1175.5 L598 1175.5 L600 1175.5 L602 1175.6 L604 1175.6 L606 1175.6 L608 1175.7 L610 1175.7 L612 1175.7 L614 1175.8 L616 1175.8 L618 1175.8 L620 1175.9 L622 1175.9 L624 1175.9 L626 1176 L628 1176 L630 1176 L632 1176.1 L634 1176.1 L636 1176.1 L638 1176.2 L640 1176.2 L642 1176.2 L644 1176.3 L646 1176.3 L648 1176.3 L650 1176.4 L652 1176.4 L654 1176.4 L656 1176.5 L658 1176.5 L660 1176.5 L662 1176.6 L664 1176.6 L666 1176.6 L668 1176.7 L670 1176.7 L672 1176.7 L674 1176.8 L676 1176.8 L678 1176.8 L680 1176.9 L682 1176.9 L684 1176.9 L686 1177 L688 1177 L690 1177 L692 1177.1 L694 1177.1 L696 1177.1 L698 1177.2 L700 1177.2 L702 1177.2 L704 1177.3 L706 1177.3 L708 1177.3 L710 1177.4 L712 1177.4 L714 1177.4 L716 1177.5 L718 1177.5 L720 1177.5 L722 1177.6 L724 1177.6 L726 1177.6 L728 1177.7 L730 1177.7 L732 1177.7 L734 1177.8 L736 1177.8 L738 1177.8 L740 1177.9 L742 1177.9 L744 1177.9 L746 1178 L748 1178 L750 1178 L752 1178.1 L754 1178.1 L756 1178.1 L758 1178.2 L760 1178.2 L762 1178.2 L764 1178.3 L766 1178.3 L768 1178.3 L770 1178.4 L772 1178.4 L774 1178.4 L776 1178.5 L778 1178.5 L780 1178.5 L782 1178.6 L784 1178.6 L786 1178.6 L788 1178.7 L790 1178.7 L792 1178.7 L794 1178.8 L796 1178.8 L798 1178.8 L800 1178.9 L802 1178.9 L804 1178.9 L806 1179 L808 1179 L810 1179 L812 1179.1 L814 1179.1 L816 1179.1 L818 1179.2 L820 1179.2 L822 1179.2 L824 1179.3 L826 1179.3 L828 1179.3 L830 1179.4 L832 1179.4 L834 1179.4 L836 1179.5 L838 1179.5 L840 1179.5 L842 1179.6 L844 1179.6 L846 1179.6 L848 1179.7" fill="none" stroke="#404040" stroke-width="4" stroke-linejoin="round" />
<path d="M70 1166.3 L72 1166.4 L74 1166.4 L76 1166.4 L78 1166.5 L80 1166.5 L82 1166.5 L84 1166.6 L86 1166.6 L88 1166.6 L90 1166.7 L92 1166.7 L94 1166.7 L96 1166.8 L98 1166.8 L100 1166.9 L102 1166.9 L104 1166.9 L106 1167 L108 1167 L110 1167 L112 1167.1 L114 1167.1 L116 1167.1 L118 1167.2 L120 1167.2 L122 1167.2 L124 1167.3 L126 1167.3 L128 1167.3 L130 1167.4 L132 1167.4 L134 1167.5 L136 1167.5 L138 1167.5 L140 1167.6 L142 1167.6 L144 1167.6 L146 1167.7 L148 1167.7 L150 1167.7 L152 1167.8 L154 1167.8 L156 1167.8 L158 1167.9 L160 1167.9 L162 1167.9 L164 1168 L166 1168 L168 1168 L170 1168.1 L172 1168.1 L174 1168.2 L176 1168.2 L178 1168.2 L180 1168.3 L182 1168.3 L184 1168.3 L186 1168.4 L188 1168.4 L190 1168.4 L192 1168.5 L194 1168.5 L196 1168.5 L198 1168.6 L200 1168.6 L202 1168.6 L204 1168.7 L206 1168.7 L208 1168.7 L210 1168.8 L212 1168.8 L214 1168.8 L216 1168.9 L218 1168.9 L220 1169 L222 1169 L224 1169 L226 1169.1 L228 1169.1 L230 1169.1 L232 1169.2 L234 1169.2 L236 1169.2 L238 1169.3 L240 1169.3 L242 1169.3 L244 1169.4 L246 1169.4 L248 1169.4 L250 1169.5 L252 1169.5 L254 1169.5 L256 1169.6 L258 1169.6 L260 1169.6 L262 1169.7 L264 1169.7 L266 1169.7 L268 1169.8 L270 1169.8 L272 1169.8 L274 1169.9 L276 1169.9 L278 1169.9 L280 1170 L282 1170 L284 1170 L286 1170.1 L288 1170.1 L290 1170.1 L292 1170.2 L294 1170.2 L296 1170.2 L298 1170.2 L300 1170.3 L302 1170.3 L304 1170.3 L306 1170.4 L308 1170.4 L310 1170.4 L312 1170.5 L314 1170.5 L316 1170.5 L318 1170.6 L320 1170.6 L322 1170.6 L324 1170.6 L326 1170.7 L328 1170.7 L330 1170.7 L332 1170.8 L334 1170.8 L336 1170.8 L338 1170.9 L340 1170.9 L342 1170.9 L344 1170.9 L346 1171 L348 1171 L350 1171 L352 1171.1 L354 1171.1 L356 1171.1 L358 1171.1 L360 1171.2 L362 1171.2 L364 1171.2 L366 1171.3 L368 1171.3 L370 1171.3 L372 1171.3 L374 1171.4 L376 1171.4 L378 1171.4 L380 1171.5 L382 1171.5 L384 1171.5 L386 1171.5 L388 1171.6 L390 1171.6 L392 1171.6 L394 1171.6 L396 1171.7 L398 1171.7 L400 1171.7 L402 1171.8 L404 1171.8 L406 1171.8 L408 1171.8 L410 1171.9 L412 1171.9 L414 1171.9 L416 1171.9 L418 1172 L420 1172 L422 1172 L424 1172 L426 1172 L428 1172.1 L430 1172.1 L432 1172.1 L434 1172.1 L436 1172.2 L438 1172.2 L440 1172.2 L442 1172.2 L444 1172.2 L446 1172.3 L448 1172.3 L450 1172.3 L452 1172.3 L454 1172.3 L456 1172.3 L458 1172.4 L460 1172.4 L462 1172.4 L464 1172.4 L466 1172.4 L468 1172.4 L470 1172.4 L472 1172.4 L474 1172.4 L476 1172.4 L478 1172.4 L480 1172.3 L482 1172.3 L484 1172.3 L486 1172.2 L488 1172.2 L490 1172.1 L492 1172.1 L494 1172 L496 1171.8 L498 1171.7 L500 1171.6 L502 1171.4 L504 1171.2 L506 1171 L508 1170.7 L510 1170.4 L512 1170 L514 1169.6 L516 1169.1 L518 1168.6 L520 1168 L522 1167.3 L524 1166.6 L526 1165.7 L528 1164.8 L530 1163.8 L532 1162.6 L534 1161.3 L536 1159.9 L538 1158.3 L540 1156.6 L542 1154.7 L544 1152.6 L546 1150.3 L548 1147.9 L550 1145.2 L552 1142.4 L554 1139.3 L556 1136 L558 1132.5 L560 1128.7 L562 1124.7 L564 1120.5 L566 1116 L568 1111.3 L570 1106.3 L572 1101.2 L574 1095.8 L576 1090.2 L578 1084.4 L580 1078.4 L582 1072.3 L584 1066 L586 1059.6 L588 1053.1 L590 1046.5 L592 1039.9 L594 1033.3 L596 1026.7 L598 1020.2 L600 1013.7 L602 1007.4 L604 1001.3 L606 995.3 L608 989.6 L610 984.2 L612 979.1 L614 974.3 L616 970 L618 966 L620 962.5 L622 959.5 L624 956.9 L626 954.9 L628 953.4 L630 952.5 L632 952.1 L634 952.3 L636 953 L638 954.3 L640 956.1 L642 958.4 L644 961.3 L646 964.6 L648 968.5 L650 972.7 L652 977.3 L654 982.3 L656 987.7 L658 993.3 L660 999.2 L662 1005.3 L664 1011.6 L666 1018.1 L668 1024.6 L670 1031.3 L672 1037.9 L674 1044.6 L676 1051.3 L678 1057.9 L680 1064.4 L682 1070.8 L684 1077.1 L686 1083.2 L688 1089.2 L690 1094.9 L692 1100.5 L694 1105.8 L696 1111 L698 1115.9 L700 1120.5 L702 1125 L704 1129.1 L706 1133.1 L708 1136.8 L710 1140.3 L712 1143.5 L714 1146.6 L716 1149.4 L718 1152 L720 1154.4 L722 1156.7 L724 1158.7 L726 1160.6 L728 1162.3 L730 1163.9 L732 1165.3 L734 1166.6 L736 1167.8 L738 1168.8 L740 1169.8 L742 1170.7 L744 1171.4 L746 1172.1 L748 1172.8 L750 1173.3 L752 1173.8 L754 1174.3 L756 1174.7 L758 1175 L760 1175.3 L762 1175.6 L764 1175.9 L766 1176.1 L768 1176.3 L770 1176.5 L772 1176.7 L774 1176.8 L776 1177 L778 1177.1 L780 1177.2 L782 1177.3 L784 1177.4 L786 1177.5 L788 1177.6 L790 1177.7 L792 1177.7 L794 1177.8 L796 1177.9 L798 1177.9 L800 1178 L802 1178.1 L804 1178.1 L806 1178.2 L808 1178.2 L810 1178.3 L812 1178.3 L814 1178.4 L816 1178.4 L818 1178.5 L820 1178.5 L822 1178.6 L824 1178.6 L826 1178.7 L828 1178.7 L830 1178.8 L832 1178.8 L834 1178.9 L836 1178.9 L838 1178.9 L840 1179 L842 1179 L844 1179.1 L846 1179.1 L848 1179.2" fill="none" stroke="#3cbe6e" stroke-width="4.8" stroke-linejoin="round" />
<path d="M70 1166.3 L72 1166.3 L74 1166.3 L76 1166.4 L78 1166.4 L80 1166.4 L82 1166.5 L84 1166.5 L86 1166.5 L88 1166.6 L90 1166.6 L92 1166.6 L94 1166.7 L96 1166.7 L98 1166.8 L100 1166.8 L102 1166.8 L104 1166.9 L106 1166.9 L108 1166.9 L110 1167 L112 1167 L114 1167 L116 1167.1 L118 1167.1 L120 1167.1 L122 1167.2 L124 1167.2 L126 1167.2 L128 1167.3 L130 1167.3 L132 1167.3 L134 1167.4 L136 1167.4 L138 1167.4 L140 1167.5 L142 1167.5 L144 1167.5 L146 1167.6 L148 1167.6 L150 1167.6 L152 1167.7 L154 1167.7 L156 1167.8 L158 1167.8 L160 1167.8 L162 1167.9 L164 1167.9 L166 1167.9 L168 1168 L170 1168 L172 1168 L174 1168.1 L176 1168.1 L178 1168.1 L180 1168.2 L182 1168.2 L184 1168.2 L186 1168.3 L188 1168.3 L190 1168.3 L192 1168.4 L194 1168.4 L196 1168.4 L198 1168.5 L200 1168.5 L202 1168.5 L204 1168.6 L206 1168.6 L208 1168.6 L210 1168.7 L212 1168.7 L214 1168.7 L216 1168.8 L218 1168.8 L220 1168.8 L222 1168.9 L224 1168.9 L226 1168.9 L228 1169 L230 1169 L232 1169 L234 1169.1 L236 1169.1 L238 1169.1 L240 1169.2 L242 1169.2 L244 1169.2 L246 1169.3 L248 1169.3 L250 1169.3 L252 1169.3 L254 1169.4 L256 1169.4 L258 1169.4 L260 1169.5 L262 1169.5 L264 1169.5 L266 1169.6 L268 1169.6 L270 1169.6 L272 1169.7 L274 1169.7 L276 1169.7 L278 1169.7 L280 1169.8 L282 1169.8 L284 1169.8 L286 1169.9 L288 1169.9 L290 1169.9 L292 1169.9 L294 1170 L296 1170 L298 1170 L300 1170.1 L302 1170.1 L304 1170.1 L306 1170.1 L308 1170.2 L310 1170.2 L312 1170.2 L314 1170.2 L316 1170.3 L318 1170.3 L320 1170.3 L322 1170.3 L324 1170.4 L326 1170.4 L328 1170.4 L330 1170.4 L332 1170.5 L334 1170.5 L336 1170.5 L338 1170.5 L340 1170.6 L342 1170.6 L344 1170.6 L346 1170.6 L348 1170.6 L350 1170.7 L352 1170.7 L354 1170.7 L356 1170.7 L358 1170.7 L360 1170.8 L362 1170.8 L364 1170.8 L366 1170.8 L368 1170.8 L370 1170.8 L372 1170.8 L374 1170.9 L376 1170.9 L378 1170.9 L380 1170.9 L382 1170.9 L384 1170.9 L386 1170.9 L388 1170.9 L390 1170.9 L392 1170.9 L394 1170.8 L396 1170.8 L398 1170.8 L400 1170.8 L402 1170.7 L404 1170.7 L406 1170.7 L408 1170.6 L410 1170.6 L412 1170.5 L414 1170.4 L416 1170.3 L418 1170.2 L420 1170.1 L422 1170 L424 1169.9 L426 1169.8 L428 1169.6 L430 1169.5 L432 1169.3 L434 1169.1 L436 1168.9 L438 1168.7 L440 1168.4 L442 1168.2 L444 1167.9 L446 1167.6 L448 1167.2 L450 1166.9 L452 1166.5 L454 1166.1 L456 1165.7 L458 1165.2 L460 1164.7 L462 1164.2 L464 1163.6 L466 1163.1 L468 1162.5 L470 1161.8 L472 1161.1 L474 1160.4 L476 1159.7 L478 1158.9 L480 1158.1 L482 1157.3 L484 1156.4 L486 1155.5 L488 1154.5 L490 1153.6 L492 1152.6 L494 1151.5 L496 1150.5 L498 1149.4 L500 1148.3 L502 1147.2 L504 1146 L506 1144.8 L508 1143.6 L510 1142.4 L512 1141.2 L514 1140 L516 1138.8 L518 1137.5 L520 1136.3 L522 1135.1 L524 1133.9 L526 1132.7 L528 1131.5 L530 1130.3 L532 1129.2 L534 1128.1 L536 1127 L538 1125.9 L540 1124.9 L542 1124 L544 1123.1 L546 1122.2 L548 1121.5 L550 1120.7 L552 1120.1 L554 1119.5 L556 1119 L558 1118.5 L560 1118.2 L562 1117.9 L564 1117.7 L566 1117.6 L568 1117.6 L570 1117.7 L572 1117.8 L574 1118 L576 1118.4 L578 1118.8 L580 1119.2 L582 1119.8 L584 1120.4 L586 1121.1 L588 1121.9 L590 1122.7 L592 1123.6 L594 1124.6 L596 1125.6 L598 1126.6 L600 1127.7 L602 1128.9 L604 1130 L606 1131.2 L608 1132.4 L610 1133.7 L612 1135 L614 1136.2 L616 1137.5 L618 1138.8 L620 1140.1 L622 1141.4 L624 1142.7 L626 1144 L628 1145.3 L630 1146.5 L632 1147.8 L634 1149 L636 1150.2 L638 1151.4 L640 1152.6 L642 1153.7 L644 1154.8 L646 1155.9 L648 1156.9 L650 1157.9 L652 1158.9 L654 1159.9 L656 1160.8 L658 1161.7 L660 1162.5 L662 1163.4 L664 1164.1 L666 1164.9 L668 1165.6 L670 1166.3 L672 1167 L674 1167.6 L676 1168.2 L678 1168.7 L680 1169.3 L682 1169.8 L684 1170.3 L686 1170.7 L688 1171.1 L690 1171.5 L692 1171.9 L694 1172.3 L696 1172.6 L698 1172.9 L700 1173.2 L702 1173.5 L704 1173.8 L706 1174 L708 1174.3 L710 1174.5 L712 1174.7 L714 1174.9 L716 1175.1 L718 1175.2 L720 1175.4 L722 1175.5 L724 1175.7 L726 1175.8 L728 1175.9 L730 1176.1 L732 1176.2 L734 1176.3 L736 1176.4 L738 1176.5 L740 1176.6 L742 1176.7 L744 1176.7 L746 1176.8 L748 1176.9 L750 1177 L752 1177 L754 1177.1 L756 1177.2 L758 1177.2 L760 1177.3 L762 1177.3 L764 1177.4 L766 1177.5 L768 1177.5 L770 1177.6 L772 1177.6 L774 1177.7 L776 1177.7 L778 1177.8 L780 1177.8 L782 1177.9 L784 1177.9 L786 1178 L788 1178 L790 1178.1 L792 1178.1 L794 1178.1 L796 1178.2 L798 1178.2 L800 1178.3 L802 1178.3 L804 1178.4 L806 1178.4 L808 1178.5 L810 1178.5 L812 1178.5 L814 1178.6 L816 1178.6 L818 1178.7 L820 1178.7 L822 1178.7 L824 1178.8 L826 1178.8 L828 1178.9 L830 1178.9 L832 1179 L834 1179 L836 1179 L838 1179.1 L840 1179.1 L842 1179.1 L844 1179.2 L846 1179.2 L848 1179.3" fill="none" stroke="#ff7f0e" stroke-width="4.6" stroke-linejoin="round" />
<path d="M70 1166.1 L72 1166.2 L74 1166.2 L76 1166.2 L78 1166.3 L80 1166.3 L82 1166.3 L84 1166.4 L86 1166.4 L88 1166.4 L90 1166.5 L92 1166.5 L94 1166.5 L96 1166.6 L98 1166.6 L100 1166.6 L102 1166.7 L104 1166.7 L106 1166.7 L108 1166.8 L110 1166.8 L112 1166.8 L114 1166.9 L116 1166.9 L118 1166.9 L120 1166.9 L122 1167 L124 1167 L126 1167 L128 1167.1 L130 1167.1 L132 1167.1 L134 1167.2 L136 1167.2 L138 1167.2 L140 1167.3 L142 1167.3 L144 1167.3 L146 1167.4 L148 1167.4 L150 1167.4 L152 1167.4 L154 1167.5 L156 1167.5 L158 1167.5 L160 1167.6 L162 1167.6 L164 1167.6 L166 1167.7 L168 1167.7 L170 1167.7 L172 1167.7 L174 1167.8 L176 1167.8 L178 1167.8 L180 1167.9 L182 1167.9 L184 1167.9 L186 1167.9 L188 1168 L190 1168 L192 1168 L194 1168 L196 1168.1 L198 1168.1 L200 1168.1 L202 1168.2 L204 1168.2 L206 1168.2 L208 1168.2 L210 1168.2 L212 1168.3 L214 1168.3 L216 1168.3 L218 1168.3 L220 1168.4 L222 1168.4 L224 1168.4 L226 1168.4 L228 1168.4 L230 1168.5 L232 1168.5 L234 1168.5 L236 1168.5 L238 1168.5 L240 1168.5 L242 1168.5 L244 1168.5 L246 1168.5 L248 1168.5 L250 1168.5 L252 1168.5 L254 1168.5 L256 1168.5 L258 1168.5 L260 1168.5 L262 1168.5 L264 1168.5 L266 1168.4 L268 1168.4 L270 1168.4 L272 1168.3 L274 1168.3 L276 1168.3 L278 1168.2 L280 1168.1 L282 1168.1 L284 1168 L286 1167.9 L288 1167.8 L290 1167.7 L292 1167.6 L294 1167.5 L296 1167.4 L298 1167.2 L300 1167.1 L302 1166.9 L304 1166.8 L306 1166.6 L308 1166.4 L310 1166.2 L312 1166 L314 1165.8 L316 1165.5 L318 1165.3 L320 1165 L322 1164.7 L324 1164.4 L326 1164.1 L328 1163.7 L330 1163.4 L332 1163 L334 1162.6 L336 1162.2 L338 1161.8 L340 1161.3 L342 1160.9 L344 1160.4 L346 1159.9 L348 1159.4 L350 1158.8 L352 1158.3 L354 1157.7 L356 1157.1 L358 1156.5 L360 1155.9 L362 1155.3 L364 1154.6 L366 1154 L368 1153.3 L370 1152.6 L372 1151.9 L374 1151.2 L376 1150.5 L378 1149.8 L380 1149.1 L382 1148.3 L384 1147.6 L386 1146.9 L388 1146.1 L390 1145.4 L392 1144.7 L394 1143.9 L396 1143.2 L398 1142.5 L400 1141.8 L402 1141.2 L404 1140.5 L406 1139.9 L408 1139.2 L410 1138.7 L412 1138.1 L414 1137.5 L416 1137 L418 1136.5 L420 1136.1 L422 1135.7 L424 1135.3 L426 1135 L428 1134.7 L430 1134.4 L432 1134.2 L434 1134.1 L436 1133.9 L438 1133.9 L440 1133.9 L442 1133.9 L444 1134 L446 1134.1 L448 1134.3 L450 1134.5 L452 1134.7 L454 1135 L456 1135.4 L458 1135.8 L460 1136.2 L462 1136.7 L464 1137.2 L466 1137.8 L468 1138.3 L470 1138.9 L472 1139.6 L474 1140.2 L476 1140.9 L478 1141.6 L480 1142.3 L482 1143.1 L484 1143.8 L486 1144.6 L488 1145.4 L490 1146.2 L492 1147 L494 1147.7 L496 1148.5 L498 1149.3 L500 1150.1 L502 1150.9 L504 1151.7 L506 1152.5 L508 1153.3 L510 1154.1 L512 1154.8 L514 1155.6 L516 1156.3 L518 1157.1 L520 1157.8 L522 1158.5 L524 1159.2 L526 1159.8 L528 1160.5 L530 1161.1 L532 1161.8 L534 1162.4 L536 1163 L538 1163.5 L540 1164.1 L542 1164.6 L544 1165.1 L546 1165.6 L548 1166.1 L550 1166.6 L552 1167 L554 1167.4 L556 1167.8 L558 1168.2 L560 1168.6 L562 1169 L564 1169.3 L566 1169.6 L568 1170 L570 1170.3 L572 1170.5 L574 1170.8 L576 1171.1 L578 1171.3 L580 1171.6 L582 1171.8 L584 1172 L586 1172.2 L588 1172.4 L590 1172.6 L592 1172.8 L594 1172.9 L596 1173.1 L598 1173.2 L600 1173.4 L602 1173.5 L604 1173.6 L606 1173.8 L608 1173.9 L610 1174 L612 1174.1 L614 1174.2 L616 1174.3 L618 1174.4 L620 1174.5 L622 1174.6 L624 1174.7 L626 1174.7 L628 1174.8 L630 1174.9 L632 1175 L634 1175 L636 1175.1 L638 1175.2 L640 1175.2 L642 1175.3 L644 1175.3 L646 1175.4 L648 1175.5 L650 1175.5 L652 1175.6 L654 1175.6 L656 1175.7 L658 1175.7 L660 1175.8 L662 1175.8 L664 1175.9 L666 1175.9 L668 1176 L670 1176 L672 1176.1 L674 1176.1 L676 1176.2 L678 1176.2 L680 1176.2 L682 1176.3 L684 1176.3 L686 1176.4 L688 1176.4 L690 1176.5 L692 1176.5 L694 1176.5 L696 1176.6 L698 1176.6 L700 1176.7 L702 1176.7 L704 1176.8 L706 1176.8 L708 1176.8 L710 1176.9 L712 1176.9 L714 1177 L716 1177 L718 1177 L720 1177.1 L722 1177.1 L724 1177.2 L726 1177.2 L728 1177.2 L730 1177.3 L732 1177.3 L734 1177.4 L736 1177.4 L738 1177.4 L740 1177.5 L742 1177.5 L744 1177.5 L746 1177.6 L748 1177.6 L750 1177.7 L752 1177.7 L754 1177.7 L756 1177.8 L758 1177.8 L760 1177.9 L762 1177.9 L764 1177.9 L766 1178 L768 1178 L770 1178 L772 1178.1 L774 1178.1 L776 1178.2 L778 1178.2 L780 1178.2 L782 1178.3 L784 1178.3 L786 1178.3 L788 1178.4 L790 1178.4 L792 1178.4 L794 1178.5 L796 1178.5 L798 1178.6 L800 1178.6 L802 1178.6 L804 1178.7 L806 1178.7 L808 1178.7 L810 1178.8 L812 1178.8 L814 1178.8 L816 1178.9 L818 1178.9 L820 1179 L822 1179 L824 1179 L826 1179.1 L828 1179.1 L830 1179.1 L832 1179.2 L834 1179.2 L836 1179.2 L838 1179.3 L840 1179.3 L842 1179.4 L844 1179.4 L846 1179.4 L848 1179.5" fill="none" stroke="#2e6399" stroke-width="4.8" stroke-linejoin="round" />
</g>
<path d="M69.5 638 V1194.2 H849.5 V638" fill="none" stroke="#000" stroke-width="4"/>
<line x1="67.5" y1="639.1" x2="851.5" y2="639.1" stroke="#000" stroke-width="2.4"/>
<g stroke="#000" stroke-width="4"><line x1="156.2" y1="1192.2" x2="156.2" y2="1182.2"/><line x1="242.8" y1="1192.2" x2="242.8" y2="1182.2"/><line x1="329.5" y1="1192.2" x2="329.5" y2="1182.2"/><line x1="416.2" y1="1192.2" x2="416.2" y2="1182.2"/><line x1="502.8" y1="1192.2" x2="502.8" y2="1182.2"/><line x1="589.5" y1="1192.2" x2="589.5" y2="1182.2"/><line x1="676.2" y1="1192.2" x2="676.2" y2="1182.2"/><line x1="762.8" y1="1192.2" x2="762.8" y2="1182.2"/></g>
<g stroke="#000" stroke-width="4"><line x1="112.8" y1="1192.2" x2="112.8" y2="1188.4"/><line x1="199.5" y1="1192.2" x2="199.5" y2="1188.4"/><line x1="286.2" y1="1192.2" x2="286.2" y2="1188.4"/><line x1="372.8" y1="1192.2" x2="372.8" y2="1188.4"/><line x1="459.5" y1="1192.2" x2="459.5" y2="1188.4"/><line x1="546.2" y1="1192.2" x2="546.2" y2="1188.4"/><line x1="632.8" y1="1192.2" x2="632.8" y2="1188.4"/><line x1="719.5" y1="1192.2" x2="719.5" y2="1188.4"/><line x1="806.2" y1="1192.2" x2="806.2" y2="1188.4"/></g>
<text transform="translate(69.5 1228) scale(0.9524 1)" font-size="35.7" fill="#000" text-anchor="middle" >405</text>
<text transform="translate(156.2 1228) scale(0.9524 1)" font-size="35.7" fill="#000" text-anchor="middle" >404</text>
<text transform="translate(242.8 1228) scale(0.9524 1)" font-size="35.7" fill="#000" text-anchor="middle" >403</text>
<text transform="translate(329.5 1228) scale(0.9524 1)" font-size="35.7" fill="#000" text-anchor="middle" >402</text>
<text transform="translate(416.2 1228) scale(0.9524 1)" font-size="35.7" fill="#000" text-anchor="middle" >401</text>
<text transform="translate(502.8 1228) scale(0.9524 1)" font-size="35.7" fill="#000" text-anchor="middle" >400</text>
<text transform="translate(589.5 1228) scale(0.9524 1)" font-size="35.7" fill="#000" text-anchor="middle" >399</text>
<text transform="translate(676.2 1228) scale(0.9524 1)" font-size="35.7" fill="#000" text-anchor="middle" >398</text>
<text transform="translate(762.8 1228) scale(0.9524 1)" font-size="35.7" fill="#000" text-anchor="middle" >397</text>
<text transform="translate(849.5 1228) scale(0.9524 1)" font-size="35.7" fill="#000" text-anchor="middle" >396</text>
<text transform="translate(460 1262.4) scale(0.9524 1)" font-size="37.6" fill="#000" text-anchor="middle" textLength="379.1" lengthAdjust="spacingAndGlyphs" >Binding Energy (eV)</text>
<text transform="translate(53.6 929.3) rotate(-90) scale(0.9524 1)" font-size="39.4" fill="#000" text-anchor="middle" >Intensity (a.u.)</text>
<text transform="translate(2.5 714.8) scale(1.0000 1)" font-size="76" fill="#000" text-anchor="start" >c</text>
<text transform="translate(77.5 673) scale(0.9524 1)" font-size="36.8" fill="#ee0000" text-anchor="start" >B-C<tspan font-size="24.3" dy="9.9">3</tspan><tspan dy="-9.9">N</tspan><tspan font-size="24.3" dy="9.9">4</tspan><tspan dy="-9.9">-16 MPa</tspan></text>
<text transform="translate(845.7 677.2) scale(1.0048 1)" font-size="35.8" fill="#000" text-anchor="end" >N 1<tspan font-style="italic">s</tspan></text>
<text transform="translate(366 841) scale(0.9524 1)" font-size="30.6" fill="#2e6399" text-anchor="middle" >400.9 eV</text>
<text transform="translate(364.5 869) scale(0.9524 1)" font-size="30.6" fill="#2e6399" text-anchor="middle" >NH<tspan font-size="20.2" dy="8.2">x</tspan><tspan dy="-8.2">/N-B</tspan></text>
<text transform="translate(512.5 807) scale(0.9524 1)" font-size="30.6" fill="#ff7f0e" text-anchor="middle" >399.5 eV</text>
<text transform="translate(512 835) scale(0.9524 1)" font-size="30.6" fill="#ff7f0e" text-anchor="middle" >N-(C)<tspan font-size="20.2" dy="8.2">3</tspan></text>
<text transform="translate(703 791) scale(0.9524 1)" font-size="30.6" fill="#3cbe6e" text-anchor="middle" >398.6 eV</text>
<text transform="translate(703 819) scale(0.9524 1)" font-size="30.6" fill="#3cbe6e" text-anchor="middle" >N-(C)<tspan font-size="20.2" dy="8.2">2</tspan></text>
<text transform="translate(75.5 956) scale(0.9524 1)" font-size="34" fill="#404040" text-anchor="start" >Bulk C<tspan font-size="22.5" dy="9.2">3</tspan><tspan dy="-9.2">N</tspan><tspan font-size="22.5" dy="9.2">4</tspan></text>
<text transform="translate(373 1092.5) scale(0.9524 1)" font-size="30.6" fill="#2e6399" text-anchor="middle" >400.6 eV</text>
<text transform="translate(374 1120) scale(0.9524 1)" font-size="30.6" fill="#2e6399" text-anchor="middle" >NH<tspan font-size="20.2" dy="8.2">x</tspan></text>
<text transform="translate(508.7 1051) scale(0.9524 1)" font-size="30.6" fill="#ff7f0e" text-anchor="middle" >399.0 eV</text>
<text transform="translate(508.7 1078.5) scale(0.9524 1)" font-size="30.6" fill="#ff7f0e" text-anchor="middle" >N-(C)<tspan font-size="20.2" dy="8.2">3</tspan></text>
<text transform="translate(733 1016) scale(0.9524 1)" font-size="30.6" fill="#3cbe6e" text-anchor="middle" >398.5 eV</text>
<text transform="translate(732.5 1045) scale(0.9524 1)" font-size="30.6" fill="#3cbe6e" text-anchor="middle" >N-(C)<tspan font-size="20.2" dy="8.2">2</tspan></text>
<clipPath id="cd"><rect x="936" y="639" width="777" height="553"/></clipPath><g clip-path="url(#cd)">
<path d="M945 901.9 L947 901.4 L949 901.2 L951 901.1 L953 901.7 L955 901.8 L957 901.8 L959 901.5 L961 901.5 L963 901.1 L965 900.8 L967 900.5 L969 900.4 L971 900.4 L973 900.6 L975 900.6 L977 900.8 L979 900.5 L981 900.3 L983 899.7 L985 899.4 L987 899 L989 899 L991 898.6 L993 898.1 L995 897.9 L997 897.8 L999 898.1 L1001 897.8 L1003 897.5 L1005 896.8 L1007 895.7 L1009 893.1 L1011 891.5 L1013 891.9 L1015 894.3 L1017 896 L1019 896.9 L1021 897.5 L1023 897.9 L1025 898.2 L1027 898.1 L1029 898.2 L1031 897.9 L1033 898.3 L1035 898.3 L1037 898.3 L1039 898.1 L1041 897.8 L1043 897.9 L1045 898 L1047 898.2 L1049 898.1 L1051 897.7 L1053 897.4 L1055 897.4 L1057 897.7 L1059 897.9 L1061 897.7 L1063 897 L1065 896.1 L1067 894.3 L1069 891.4 L1071 890.2 L1073 892.6 L1075 894.8 L1077 895.8 L1079 895.9 L1081 896.3 L1083 896.1 L1085 896.1 L1087 896.1 L1089 896.3 L1091 896.1 L1093 896.2 L1095 896 L1097 896.1 L1099 895.9 L1101 896.2 L1103 895.9 L1105 895.8 L1107 895.7 L1109 895.8 L1111 895.5 L1113 895.2 L1115 895.2 L1117 895.4 L1119 895 L1121 894.9 L1123 894.7 L1125 894.8 L1127 894 L1129 892.8 L1131 890.9 L1133 888.7 L1135 886 L1137 885.4 L1139 886.6 L1141 888.4 L1143 889.5 L1145 889.6 L1147 889.3 L1149 889.3 L1151 888.6 L1153 888 L1155 887.2 L1157 886.9 L1159 886.2 L1161 885.6 L1163 885.1 L1165 884.4 L1167 884 L1169 883.7 L1171 883.6 L1173 882.7 L1175 881.7 L1177 880.5 L1179 879.8 L1181 878.8 L1183 878.1 L1185 877.1 L1187 876.4 L1189 875.5 L1191 874.7 L1193 873.3 L1195 871.9 L1197 870.7 L1199 869.7 L1201 869 L1203 867.8 L1205 866.7 L1207 865.7 L1209 864.5 L1211 863.5 L1213 862.1 L1215 861.2 L1217 860.2 L1219 859.7 L1221 858.7 L1223 858.2 L1225 857.3 L1227 856.5 L1229 855.3 L1231 854 L1233 852.5 L1235 851 L1237 849.5 L1239 847.8 L1241 846.4 L1243 844.5 L1245 842.8 L1247 841.1 L1249 839.4 L1251 837.9 L1253 836 L1255 834.5 L1257 832.5 L1259 830.6 L1261 829 L1263 827.7 L1265 826 L1267 824.4 L1269 822.5 L1271 821.4 L1273 819.9 L1275 818.4 L1277 816.7 L1279 815.3 L1281 814.4 L1283 813.6 L1285 812.4 L1287 810.9 L1289 809.2 L1291 807.8 L1293 806.5 L1295 805.2 L1297 804.2 L1299 803.2 L1301 802.7 L1303 802.4 L1305 802.1 L1307 801.9 L1309 801.2 L1311 800.2 L1313 798.6 L1315 796.5 L1317 795.3 L1319 794.1 L1321 793.1 L1323 791.9 L1325 790.7 L1327 789.9 L1329 788.9 L1331 787.7 L1333 786.7 L1335 786.1 L1337 785.5 L1339 785.4 L1341 785.7 L1343 786.2 L1345 787 L1347 787.5 L1349 788.5 L1351 788.6 L1353 788.9 L1355 788.8 L1357 789.5 L1359 790.1 L1361 790.7 L1363 790.8 L1365 790.2 L1367 788.8 L1369 786.5 L1371 784.5 L1373 782.2 L1375 780.7 L1377 779.2 L1379 778.4 L1381 777.3 L1383 776.2 L1385 775.1 L1387 774.4 L1389 774 L1391 773.8 L1393 774.7 L1395 776.3 L1397 778.2 L1399 780.2 L1401 781.8 L1403 782.1 L1405 780.9 L1407 779.5 L1409 778 L1411 777.1 L1413 776.3 L1415 775.8 L1417 775.7 L1419 775.6 L1421 775.6 L1423 775.1 L1425 774.9 L1427 775.2 L1429 775.4 L1431 775.5 L1433 775.1 L1435 775.4 L1437 776 L1439 776.7 L1441 776.9 L1443 777.2 L1445 778.5 L1447 780.6 L1449 782.9 L1451 784.8 L1453 785.6 L1455 786 L1457 786.5 L1459 786.9 L1461 787.3 L1463 787.5 L1465 788 L1467 788.7 L1469 789.6 L1471 790.6 L1473 792.2 L1475 794 L1477 796.5 L1479 798.3 L1481 800.1 L1483 801.5 L1485 803.1 L1487 804.1 L1489 805.2 L1491 806.2 L1493 807.8 L1495 809.4 L1497 810.7 L1499 812 L1501 813.2 L1503 814.9 L1505 816.9 L1507 818.5 L1509 820.3 L1511 821.7 L1513 823.8 L1515 825.7 L1517 828 L1519 829.8 L1521 831.4 L1523 832.9 L1525 834.6 L1527 836.8 L1529 838.8 L1531 840.8 L1533 842.6 L1535 844.5 L1537 846.3 L1539 848 L1541 849.3 L1543 850.7 L1545 852.4 L1547 854 L1549 855.7 L1551 856.9 L1553 858.1 L1555 858.9 L1557 859.3 L1559 860.3 L1561 860.9 L1563 861.7 L1565 862.3 L1567 863.1 L1569 864.1 L1571 865.1 L1573 866.3 L1575 867.4 L1577 869.1 L1579 871.2 L1581 873.1 L1583 874.6 L1585 875.5 L1587 876.9 L1589 878.3 L1591 879.8 L1593 880.7 L1595 881.8 L1597 882.7 L1599 884.1 L1601 884.9 L1603 885 L1605 884.9 L1607 885.2 L1609 885.8 L1611 885.3 L1613 885.1 L1615 885 L1617 885.6 L1619 885.5 L1621 885.2 L1623 885.5 L1625 886.4 L1627 888 L1629 889.5 L1631 890.8 L1633 892.1 L1635 892.9 L1637 893.5 L1639 894 L1641 894.9 L1643 895.5 L1645 896.3 L1647 896.7 L1649 897.1 L1651 897.3 L1653 897.4 L1655 897.7 L1657 897.8 L1659 898.4 L1661 898.9 L1663 899.1 L1665 899.2 L1667 899.4 L1669 899.8 L1671 899.9 L1673 900.2 L1675 900.5 L1677 900.7 L1679 900.7 L1681 900.7 L1683 900.6 L1685 900.4 L1687 900.7 L1689 901.3 L1691 901.6 L1693 901.5 L1695 901.6 L1697 901.9 L1699 902.4 L1701 902.5 L1703 902.8" fill="none" stroke="#404040" stroke-width="5.5" stroke-linejoin="round" />
<path d="M945 901.4 L947 901.4 L949 901.4 L951 901.4 L953 901.4 L955 901.4 L957 901.5 L959 901.5 L961 901.5 L963 901.5 L965 901.5 L967 901.5 L969 901.5 L971 901.5 L973 901.5 L975 901.5 L977 901.5 L979 901.6 L981 901.6 L983 901.6 L985 901.6 L987 901.6 L989 901.6 L991 901.6 L993 901.6 L995 901.6 L997 901.6 L999 901.6 L1001 901.7 L1003 901.7 L1005 901.7 L1007 901.7 L1009 901.7 L1011 901.7 L1013 901.7 L1015 901.7 L1017 901.7 L1019 901.7 L1021 901.7 L1023 901.7 L1025 901.8 L1027 901.8 L1029 901.8 L1031 901.8 L1033 901.8 L1035 901.8 L1037 901.8 L1039 901.8 L1041 901.8 L1043 901.8 L1045 901.8 L1047 901.9 L1049 901.9 L1051 901.9 L1053 901.9 L1055 901.9 L1057 901.9 L1059 901.9 L1061 901.9 L1063 901.9 L1065 901.9 L1067 901.9 L1069 902 L1071 902 L1073 902 L1075 902 L1077 902 L1079 902 L1081 902 L1083 902 L1085 902 L1087 902 L1089 902 L1091 902.1 L1093 902.1 L1095 902.1 L1097 902.1 L1099 902.1 L1101 902.1 L1103 902.1 L1105 902.1 L1107 902.1 L1109 902.1 L1111 902.1 L1113 902.2 L1115 902.2 L1117 902.2 L1119 902.2 L1121 902.2 L1123 902.2 L1125 902.2 L1127 902.2 L1129 902.2 L1131 902.2 L1133 902.2 L1135 902.3 L1137 902.3 L1139 902.3 L1141 902.3 L1143 902.3 L1145 902.3 L1147 902.3 L1149 902.3 L1151 902.3 L1153 902.3 L1155 902.3 L1157 902.4 L1159 902.4 L1161 902.4 L1163 902.4 L1165 902.4 L1167 902.4 L1169 902.4 L1171 902.4 L1173 902.4 L1175 902.4 L1177 902.4 L1179 902.4 L1181 902.5 L1183 902.5 L1185 902.5 L1187 902.5 L1189 902.5 L1191 902.5 L1193 902.5 L1195 902.5 L1197 902.5 L1199 902.5 L1201 902.5 L1203 902.6 L1205 902.6 L1207 902.6 L1209 902.6 L1211 902.6 L1213 902.6 L1215 902.6 L1217 902.6 L1219 902.6 L1221 902.6 L1223 902.6 L1225 902.7 L1227 902.7 L1229 902.7 L1231 902.7 L1233 902.7 L1235 902.7 L1237 902.7 L1239 902.7 L1241 902.7 L1243 902.7 L1245 902.7 L1247 902.8 L1249 902.8 L1251 902.8 L1253 902.8 L1255 902.8 L1257 902.8 L1259 902.8 L1261 902.8 L1263 902.8 L1265 902.8 L1267 902.8 L1269 902.9 L1271 902.9 L1273 902.9 L1275 902.9 L1277 902.9 L1279 902.9 L1281 902.9 L1283 902.9 L1285 902.9 L1287 902.9 L1289 902.9 L1291 903 L1293 903 L1295 903 L1297 903 L1299 903 L1301 903 L1303 903 L1305 903 L1307 903 L1309 903 L1311 903 L1313 903.1 L1315 903.1 L1317 903.1 L1319 903.1 L1321 903.1 L1323 903.1 L1325 903.1 L1327 903.1 L1329 903.1 L1331 903.1 L1333 903.1 L1335 903.1 L1337 903.2 L1339 903.2 L1341 903.2 L1343 903.2 L1345 903.2 L1347 903.2 L1349 903.2 L1351 903.2 L1353 903.2 L1355 903.2 L1357 903.2 L1359 903.3 L1361 903.3 L1363 903.3 L1365 903.3 L1367 903.3 L1369 903.3 L1371 903.3 L1373 903.3 L1375 903.3 L1377 903.3 L1379 903.3 L1381 903.4 L1383 903.4 L1385 903.4 L1387 903.4 L1389 903.4 L1391 903.4 L1393 903.4 L1395 903.4 L1397 903.4 L1399 903.4 L1401 903.4 L1403 903.5 L1405 903.5 L1407 903.5 L1409 903.5 L1411 903.5 L1413 903.5 L1415 903.5 L1417 903.5 L1419 903.5 L1421 903.5 L1423 903.5 L1425 903.6 L1427 903.6 L1429 903.6 L1431 903.6 L1433 903.6 L1435 903.6 L1437 903.6 L1439 903.6 L1441 903.6 L1443 903.6 L1445 903.6 L1447 903.7 L1449 903.7 L1451 903.7 L1453 903.7 L1455 903.7 L1457 903.7 L1459 903.7 L1461 903.7 L1463 903.7 L1465 903.7 L1467 903.7 L1469 903.8 L1471 903.8 L1473 903.8 L1475 903.8 L1477 903.8 L1479 903.8 L1481 903.8 L1483 903.8 L1485 903.8 L1487 903.8 L1489 903.8 L1491 903.8 L1493 903.9 L1495 903.9 L1497 903.9 L1499 903.9 L1501 903.9 L1503 903.9 L1505 903.9 L1507 903.9 L1509 903.9 L1511 903.9 L1513 903.9 L1515 904 L1517 904 L1519 904 L1521 904 L1523 904 L1525 904 L1527 904 L1529 904 L1531 904 L1533 904 L1535 904 L1537 904.1 L1539 904.1 L1541 904.1 L1543 904.1 L1545 904.1 L1547 904.1 L1549 904.1 L1551 904.1 L1553 904.1 L1555 904.1 L1557 904.1 L1559 904.2 L1561 904.2 L1563 904.2 L1565 904.2 L1567 904.2 L1569 904.2 L1571 904.2 L1573 904.2 L1575 904.2 L1577 904.2 L1579 904.2 L1581 904.3 L1583 904.3 L1585 904.3 L1587 904.3 L1589 904.3 L1591 904.3 L1593 904.3 L1595 904.3 L1597 904.3 L1599 904.3 L1601 904.3 L1603 904.4 L1605 904.4 L1607 904.4 L1609 904.4 L1611 904.4 L1613 904.4 L1615 904.4 L1617 904.4 L1619 904.4 L1621 904.4 L1623 904.4 L1625 904.5 L1627 904.5 L1629 904.5 L1631 904.5 L1633 904.5 L1635 904.5 L1637 904.5 L1639 904.5 L1641 904.5 L1643 904.5 L1645 904.5 L1647 904.5 L1649 904.6 L1651 904.6 L1653 904.6 L1655 904.6 L1657 904.6 L1659 904.6 L1661 904.6 L1663 904.6 L1665 904.6 L1667 904.6 L1669 904.6 L1671 904.7 L1673 904.7 L1675 904.7 L1677 904.7 L1679 904.7 L1681 904.7 L1683 904.7 L1685 904.7 L1687 904.7 L1689 904.7 L1691 904.7 L1693 904.8 L1695 904.8 L1697 904.8 L1699 904.8 L1701 904.8 L1703 904.8" fill="none" stroke="#404040" stroke-width="4" stroke-linejoin="round" />
<path d="M945 901.2 L947 901.2 L949 901.2 L951 901.2 L953 901.2 L955 901.2 L957 901.2 L959 901.2 L961 901.2 L963 901.2 L965 901.2 L967 901.3 L969 901.3 L971 901.3 L973 901.3 L975 901.3 L977 901.3 L979 901.3 L981 901.3 L983 901.3 L985 901.3 L987 901.3 L989 901.3 L991 901.3 L993 901.3 L995 901.3 L997 901.4 L999 901.4 L1001 901.4 L1003 901.4 L1005 901.4 L1007 901.4 L1009 901.4 L1011 901.4 L1013 901.4 L1015 901.4 L1017 901.4 L1019 901.4 L1021 901.4 L1023 901.4 L1025 901.4 L1027 901.4 L1029 901.4 L1031 901.4 L1033 901.5 L1035 901.5 L1037 901.5 L1039 901.5 L1041 901.5 L1043 901.5 L1045 901.5 L1047 901.5 L1049 901.5 L1051 901.5 L1053 901.5 L1055 901.5 L1057 901.5 L1059 901.5 L1061 901.5 L1063 901.5 L1065 901.5 L1067 901.5 L1069 901.5 L1071 901.5 L1073 901.5 L1075 901.5 L1077 901.5 L1079 901.5 L1081 901.5 L1083 901.6 L1085 901.6 L1087 901.6 L1089 901.6 L1091 901.6 L1093 901.6 L1095 901.6 L1097 901.6 L1099 901.6 L1101 901.6 L1103 901.6 L1105 901.6 L1107 901.6 L1109 901.6 L1111 901.6 L1113 901.6 L1115 901.6 L1117 901.6 L1119 901.6 L1121 901.6 L1123 901.5 L1125 901.5 L1127 901.5 L1129 901.5 L1131 901.5 L1133 901.5 L1135 901.5 L1137 901.5 L1139 901.5 L1141 901.5 L1143 901.4 L1145 901.4 L1147 901.4 L1149 901.4 L1151 901.4 L1153 901.3 L1155 901.3 L1157 901.3 L1159 901.3 L1161 901.2 L1163 901.2 L1165 901.1 L1167 901.1 L1169 901 L1171 901 L1173 900.9 L1175 900.9 L1177 900.8 L1179 900.7 L1181 900.6 L1183 900.5 L1185 900.4 L1187 900.3 L1189 900.2 L1191 900.1 L1193 900 L1195 899.8 L1197 899.7 L1199 899.5 L1201 899.3 L1203 899.1 L1205 898.9 L1207 898.7 L1209 898.5 L1211 898.3 L1213 898 L1215 897.7 L1217 897.4 L1219 897.1 L1221 896.8 L1223 896.4 L1225 896.1 L1227 895.7 L1229 895.3 L1231 894.8 L1233 894.4 L1235 893.9 L1237 893.4 L1239 892.9 L1241 892.3 L1243 891.7 L1245 891.1 L1247 890.5 L1249 889.8 L1251 889.1 L1253 888.4 L1255 887.6 L1257 886.8 L1259 886 L1261 885.2 L1263 884.3 L1265 883.4 L1267 882.5 L1269 881.5 L1271 880.5 L1273 879.5 L1275 878.4 L1277 877.4 L1279 876.3 L1281 875.1 L1283 874 L1285 872.8 L1287 871.6 L1289 870.4 L1291 869.2 L1293 867.9 L1295 866.7 L1297 865.4 L1299 864.1 L1301 862.8 L1303 861.5 L1305 860.2 L1307 858.8 L1309 857.5 L1311 856.2 L1313 854.9 L1315 853.6 L1317 852.3 L1319 851 L1321 849.7 L1323 848.5 L1325 847.3 L1327 846.1 L1329 844.9 L1331 843.8 L1333 842.6 L1335 841.6 L1337 840.5 L1339 839.6 L1341 838.6 L1343 837.7 L1345 836.9 L1347 836.1 L1349 835.4 L1351 834.7 L1353 834.1 L1355 833.6 L1357 833.1 L1359 832.7 L1361 832.4 L1363 832.1 L1365 831.9 L1367 831.8 L1369 831.7 L1371 831.7 L1373 831.8 L1375 832 L1377 832.2 L1379 832.5 L1381 832.9 L1383 833.4 L1385 833.9 L1387 834.4 L1389 835.1 L1391 835.8 L1393 836.5 L1395 837.4 L1397 838.2 L1399 839.2 L1401 840.1 L1403 841.1 L1405 842.2 L1407 843.3 L1409 844.4 L1411 845.6 L1413 846.8 L1415 848 L1417 849.3 L1419 850.6 L1421 851.8 L1423 853.1 L1425 854.5 L1427 855.8 L1429 857.1 L1431 858.5 L1433 859.8 L1435 861.1 L1437 862.5 L1439 863.8 L1441 865.1 L1443 866.4 L1445 867.7 L1447 869 L1449 870.3 L1451 871.5 L1453 872.7 L1455 873.9 L1457 875.1 L1459 876.3 L1461 877.4 L1463 878.5 L1465 879.6 L1467 880.7 L1469 881.7 L1471 882.7 L1473 883.7 L1475 884.6 L1477 885.5 L1479 886.4 L1481 887.3 L1483 888.1 L1485 888.9 L1487 889.6 L1489 890.4 L1491 891.1 L1493 891.8 L1495 892.4 L1497 893 L1499 893.6 L1501 894.2 L1503 894.7 L1505 895.3 L1507 895.7 L1509 896.2 L1511 896.7 L1513 897.1 L1515 897.5 L1517 897.9 L1519 898.2 L1521 898.6 L1523 898.9 L1525 899.2 L1527 899.5 L1529 899.8 L1531 900 L1533 900.3 L1535 900.5 L1537 900.7 L1539 900.9 L1541 901.1 L1543 901.3 L1545 901.4 L1547 901.6 L1549 901.7 L1551 901.9 L1553 902 L1555 902.1 L1557 902.2 L1559 902.3 L1561 902.4 L1563 902.5 L1565 902.6 L1567 902.7 L1569 902.8 L1571 902.9 L1573 902.9 L1575 903 L1577 903 L1579 903.1 L1581 903.2 L1583 903.2 L1585 903.3 L1587 903.3 L1589 903.3 L1591 903.4 L1593 903.4 L1595 903.5 L1597 903.5 L1599 903.5 L1601 903.6 L1603 903.6 L1605 903.6 L1607 903.6 L1609 903.7 L1611 903.7 L1613 903.7 L1615 903.7 L1617 903.8 L1619 903.8 L1621 903.8 L1623 903.8 L1625 903.9 L1627 903.9 L1629 903.9 L1631 903.9 L1633 903.9 L1635 903.9 L1637 904 L1639 904 L1641 904 L1643 904 L1645 904 L1647 904 L1649 904.1 L1651 904.1 L1653 904.1 L1655 904.1 L1657 904.1 L1659 904.1 L1661 904.2 L1663 904.2 L1665 904.2 L1667 904.2 L1669 904.2 L1671 904.2 L1673 904.2 L1675 904.3 L1677 904.3 L1679 904.3 L1681 904.3 L1683 904.3 L1685 904.3 L1687 904.3 L1689 904.4 L1691 904.4 L1693 904.4 L1695 904.4 L1697 904.4 L1699 904.4 L1701 904.4 L1703 904.5" fill="none" stroke="#ffc20e" stroke-width="4.8" stroke-linejoin="round" />
<path d="M945 901.2 L947 901.2 L949 901.2 L951 901.2 L953 901.2 L955 901.2 L957 901.3 L959 901.3 L961 901.3 L963 901.3 L965 901.3 L967 901.3 L969 901.3 L971 901.3 L973 901.3 L975 901.3 L977 901.3 L979 901.3 L981 901.3 L983 901.4 L985 901.4 L987 901.4 L989 901.4 L991 901.4 L993 901.4 L995 901.4 L997 901.4 L999 901.4 L1001 901.4 L1003 901.4 L1005 901.4 L1007 901.4 L1009 901.4 L1011 901.4 L1013 901.5 L1015 901.5 L1017 901.5 L1019 901.5 L1021 901.5 L1023 901.5 L1025 901.5 L1027 901.5 L1029 901.5 L1031 901.5 L1033 901.5 L1035 901.5 L1037 901.5 L1039 901.5 L1041 901.5 L1043 901.6 L1045 901.6 L1047 901.6 L1049 901.6 L1051 901.6 L1053 901.6 L1055 901.6 L1057 901.6 L1059 901.6 L1061 901.6 L1063 901.6 L1065 901.6 L1067 901.6 L1069 901.6 L1071 901.6 L1073 901.6 L1075 901.7 L1077 901.7 L1079 901.7 L1081 901.7 L1083 901.7 L1085 901.7 L1087 901.7 L1089 901.7 L1091 901.7 L1093 901.7 L1095 901.7 L1097 901.7 L1099 901.7 L1101 901.7 L1103 901.7 L1105 901.7 L1107 901.7 L1109 901.7 L1111 901.7 L1113 901.8 L1115 901.8 L1117 901.8 L1119 901.8 L1121 901.8 L1123 901.8 L1125 901.8 L1127 901.8 L1129 901.8 L1131 901.8 L1133 901.8 L1135 901.8 L1137 901.8 L1139 901.8 L1141 901.8 L1143 901.8 L1145 901.8 L1147 901.8 L1149 901.8 L1151 901.8 L1153 901.8 L1155 901.8 L1157 901.8 L1159 901.8 L1161 901.8 L1163 901.8 L1165 901.8 L1167 901.8 L1169 901.8 L1171 901.8 L1173 901.9 L1175 901.9 L1177 901.9 L1179 901.9 L1181 901.9 L1183 901.9 L1185 901.9 L1187 901.9 L1189 901.9 L1191 901.9 L1193 901.8 L1195 901.8 L1197 901.8 L1199 901.8 L1201 901.8 L1203 901.8 L1205 901.8 L1207 901.8 L1209 901.8 L1211 901.8 L1213 901.8 L1215 901.8 L1217 901.8 L1219 901.8 L1221 901.8 L1223 901.8 L1225 901.7 L1227 901.7 L1229 901.7 L1231 901.7 L1233 901.7 L1235 901.6 L1237 901.6 L1239 901.6 L1241 901.6 L1243 901.5 L1245 901.5 L1247 901.5 L1249 901.4 L1251 901.4 L1253 901.3 L1255 901.3 L1257 901.2 L1259 901.2 L1261 901.1 L1263 901 L1265 900.9 L1267 900.9 L1269 900.8 L1271 900.7 L1273 900.6 L1275 900.5 L1277 900.3 L1279 900.2 L1281 900.1 L1283 899.9 L1285 899.8 L1287 899.6 L1289 899.4 L1291 899.2 L1293 899 L1295 898.8 L1297 898.6 L1299 898.3 L1301 898 L1303 897.8 L1305 897.5 L1307 897.1 L1309 896.8 L1311 896.4 L1313 896.1 L1315 895.7 L1317 895.3 L1319 894.8 L1321 894.3 L1323 893.8 L1325 893.3 L1327 892.8 L1329 892.2 L1331 891.6 L1333 891 L1335 890.3 L1337 889.7 L1339 888.9 L1341 888.2 L1343 887.4 L1345 886.6 L1347 885.8 L1349 884.9 L1351 884 L1353 883.1 L1355 882.1 L1357 881.1 L1359 880.1 L1361 879 L1363 877.9 L1365 876.8 L1367 875.7 L1369 874.5 L1371 873.3 L1373 872 L1375 870.8 L1377 869.5 L1379 868.1 L1381 866.8 L1383 865.4 L1385 864 L1387 862.6 L1389 861.2 L1391 859.7 L1393 858.3 L1395 856.8 L1397 855.3 L1399 853.8 L1401 852.3 L1403 850.8 L1405 849.3 L1407 847.8 L1409 846.4 L1411 844.9 L1413 843.4 L1415 841.9 L1417 840.5 L1419 839.1 L1421 837.7 L1423 836.3 L1425 835 L1427 833.7 L1429 832.4 L1431 831.1 L1433 829.9 L1435 828.8 L1437 827.7 L1439 826.7 L1441 825.7 L1443 824.7 L1445 823.8 L1447 823 L1449 822.3 L1451 821.6 L1453 821 L1455 820.4 L1457 820 L1459 819.6 L1461 819.3 L1463 819 L1465 818.8 L1467 818.8 L1469 818.8 L1471 818.8 L1473 819 L1475 819.2 L1477 819.5 L1479 819.9 L1481 820.4 L1483 820.9 L1485 821.5 L1487 822.2 L1489 822.9 L1491 823.7 L1493 824.6 L1495 825.5 L1497 826.5 L1499 827.5 L1501 828.6 L1503 829.8 L1505 831 L1507 832.2 L1509 833.5 L1511 834.8 L1513 836.2 L1515 837.5 L1517 839 L1519 840.4 L1521 841.8 L1523 843.3 L1525 844.8 L1527 846.3 L1529 847.8 L1531 849.3 L1533 850.8 L1535 852.3 L1537 853.8 L1539 855.4 L1541 856.9 L1543 858.4 L1545 859.8 L1547 861.3 L1549 862.8 L1551 864.2 L1553 865.6 L1555 867 L1557 868.4 L1559 869.7 L1561 871.1 L1563 872.4 L1565 873.6 L1567 874.9 L1569 876.1 L1571 877.3 L1573 878.4 L1575 879.6 L1577 880.6 L1579 881.7 L1581 882.7 L1583 883.7 L1585 884.7 L1587 885.6 L1589 886.5 L1591 887.4 L1593 888.2 L1595 889 L1597 889.8 L1599 890.5 L1601 891.3 L1603 891.9 L1605 892.6 L1607 893.2 L1609 893.8 L1611 894.4 L1613 894.9 L1615 895.5 L1617 896 L1619 896.4 L1621 896.9 L1623 897.3 L1625 897.7 L1627 898.1 L1629 898.5 L1631 898.8 L1633 899.1 L1635 899.4 L1637 899.7 L1639 900 L1641 900.3 L1643 900.5 L1645 900.7 L1647 900.9 L1649 901.1 L1651 901.3 L1653 901.5 L1655 901.7 L1657 901.9 L1659 902 L1661 902.1 L1663 902.3 L1665 902.4 L1667 902.5 L1669 902.6 L1671 902.7 L1673 902.8 L1675 902.9 L1677 903 L1679 903.1 L1681 903.2 L1683 903.2 L1685 903.3 L1687 903.4 L1689 903.4 L1691 903.5 L1693 903.5 L1695 903.6 L1697 903.6 L1699 903.7 L1701 903.7 L1703 903.8" fill="none" stroke="#ee0000" stroke-width="4.8" stroke-linejoin="round" />
<path d="M945 901.1 L947 901.1 L949 901.1 L951 901.1 L953 901.1 L955 901.1 L957 901.1 L959 901.1 L961 901.1 L963 901.1 L965 901.1 L967 901.1 L969 901.1 L971 901.1 L973 901.1 L975 901.1 L977 901.1 L979 901.1 L981 901.1 L983 901.2 L985 901.2 L987 901.2 L989 901.2 L991 901.2 L993 901.2 L995 901.2 L997 901.2 L999 901.2 L1001 901.2 L1003 901.2 L1005 901.2 L1007 901.2 L1009 901.2 L1011 901.2 L1013 901.2 L1015 901.2 L1017 901.2 L1019 901.2 L1021 901.2 L1023 901.2 L1025 901.2 L1027 901.2 L1029 901.2 L1031 901.2 L1033 901.2 L1035 901.1 L1037 901.1 L1039 901.1 L1041 901.1 L1043 901.1 L1045 901.1 L1047 901.1 L1049 901.1 L1051 901.1 L1053 901 L1055 901 L1057 901 L1059 901 L1061 901 L1063 900.9 L1065 900.9 L1067 900.9 L1069 900.8 L1071 900.8 L1073 900.8 L1075 900.7 L1077 900.7 L1079 900.6 L1081 900.6 L1083 900.5 L1085 900.4 L1087 900.4 L1089 900.3 L1091 900.2 L1093 900.1 L1095 900 L1097 899.9 L1099 899.8 L1101 899.7 L1103 899.6 L1105 899.5 L1107 899.3 L1109 899.2 L1111 899 L1113 898.8 L1115 898.7 L1117 898.5 L1119 898.3 L1121 898.1 L1123 897.8 L1125 897.6 L1127 897.3 L1129 897.1 L1131 896.8 L1133 896.5 L1135 896.2 L1137 895.9 L1139 895.5 L1141 895.2 L1143 894.8 L1145 894.4 L1147 894 L1149 893.6 L1151 893.1 L1153 892.7 L1155 892.2 L1157 891.7 L1159 891.2 L1161 890.6 L1163 890.1 L1165 889.5 L1167 888.9 L1169 888.3 L1171 887.6 L1173 887 L1175 886.3 L1177 885.6 L1179 884.9 L1181 884.1 L1183 883.4 L1185 882.6 L1187 881.8 L1189 881 L1191 880.2 L1193 879.4 L1195 878.6 L1197 877.7 L1199 876.8 L1201 876 L1203 875.1 L1205 874.2 L1207 873.3 L1209 872.4 L1211 871.4 L1213 870.5 L1215 869.6 L1217 868.7 L1219 867.8 L1221 866.9 L1223 866 L1225 865.1 L1227 864.2 L1229 863.3 L1231 862.5 L1233 861.6 L1235 860.8 L1237 860 L1239 859.2 L1241 858.4 L1243 857.7 L1245 857 L1247 856.3 L1249 855.6 L1251 855 L1253 854.4 L1255 853.9 L1257 853.4 L1259 852.9 L1261 852.5 L1263 852.1 L1265 851.7 L1267 851.4 L1269 851.2 L1271 851 L1273 850.8 L1275 850.7 L1277 850.6 L1279 850.6 L1281 850.6 L1283 850.7 L1285 850.8 L1287 851 L1289 851.3 L1291 851.5 L1293 851.8 L1295 852.2 L1297 852.6 L1299 853.1 L1301 853.6 L1303 854.1 L1305 854.7 L1307 855.3 L1309 855.9 L1311 856.6 L1313 857.3 L1315 858 L1317 858.8 L1319 859.6 L1321 860.4 L1323 861.2 L1325 862 L1327 862.9 L1329 863.8 L1331 864.7 L1333 865.6 L1335 866.5 L1337 867.4 L1339 868.3 L1341 869.3 L1343 870.2 L1345 871.1 L1347 872.1 L1349 873 L1351 873.9 L1353 874.8 L1355 875.7 L1357 876.7 L1359 877.5 L1361 878.4 L1363 879.3 L1365 880.2 L1367 881 L1369 881.9 L1371 882.7 L1373 883.5 L1375 884.3 L1377 885 L1379 885.8 L1381 886.5 L1383 887.2 L1385 887.9 L1387 888.6 L1389 889.3 L1391 889.9 L1393 890.5 L1395 891.1 L1397 891.7 L1399 892.2 L1401 892.8 L1403 893.3 L1405 893.8 L1407 894.3 L1409 894.7 L1411 895.2 L1413 895.6 L1415 896 L1417 896.4 L1419 896.8 L1421 897.1 L1423 897.5 L1425 897.8 L1427 898.1 L1429 898.4 L1431 898.7 L1433 899 L1435 899.2 L1437 899.5 L1439 899.7 L1441 899.9 L1443 900.1 L1445 900.3 L1447 900.5 L1449 900.7 L1451 900.9 L1453 901 L1455 901.2 L1457 901.3 L1459 901.4 L1461 901.6 L1463 901.7 L1465 901.8 L1467 901.9 L1469 902 L1471 902.1 L1473 902.2 L1475 902.3 L1477 902.3 L1479 902.4 L1481 902.5 L1483 902.5 L1485 902.6 L1487 902.7 L1489 902.7 L1491 902.8 L1493 902.8 L1495 902.9 L1497 902.9 L1499 903 L1501 903 L1503 903 L1505 903.1 L1507 903.1 L1509 903.1 L1511 903.2 L1513 903.2 L1515 903.2 L1517 903.3 L1519 903.3 L1521 903.3 L1523 903.3 L1525 903.4 L1527 903.4 L1529 903.4 L1531 903.4 L1533 903.4 L1535 903.5 L1537 903.5 L1539 903.5 L1541 903.5 L1543 903.5 L1545 903.6 L1547 903.6 L1549 903.6 L1551 903.6 L1553 903.6 L1555 903.7 L1557 903.7 L1559 903.7 L1561 903.7 L1563 903.7 L1565 903.7 L1567 903.7 L1569 903.8 L1571 903.8 L1573 903.8 L1575 903.8 L1577 903.8 L1579 903.8 L1581 903.8 L1583 903.9 L1585 903.9 L1587 903.9 L1589 903.9 L1591 903.9 L1593 903.9 L1595 903.9 L1597 904 L1599 904 L1601 904 L1603 904 L1605 904 L1607 904 L1609 904 L1611 904.1 L1613 904.1 L1615 904.1 L1617 904.1 L1619 904.1 L1621 904.1 L1623 904.1 L1625 904.1 L1627 904.2 L1629 904.2 L1631 904.2 L1633 904.2 L1635 904.2 L1637 904.2 L1639 904.2 L1641 904.2 L1643 904.2 L1645 904.3 L1647 904.3 L1649 904.3 L1651 904.3 L1653 904.3 L1655 904.3 L1657 904.3 L1659 904.3 L1661 904.4 L1663 904.4 L1665 904.4 L1667 904.4 L1669 904.4 L1671 904.4 L1673 904.4 L1675 904.4 L1677 904.4 L1679 904.5 L1681 904.5 L1683 904.5 L1685 904.5 L1687 904.5 L1689 904.5 L1691 904.5 L1693 904.5 L1695 904.5 L1697 904.6 L1699 904.6 L1701 904.6 L1703 904.6" fill="none" stroke="#2e6399" stroke-width="4.6" stroke-linejoin="round" />
<g fill="none" stroke="#7c7c7c" stroke-width="1.3"><circle cx="946" cy="901.7" r="4.8"/><circle cx="954.6" cy="901.8" r="4.8"/><circle cx="963.2" cy="901.1" r="4.8"/><circle cx="971.8" cy="900.4" r="4.8"/><circle cx="980.4" cy="900.4" r="4.8"/><circle cx="989" cy="899" r="4.8"/><circle cx="997.6" cy="897.9" r="4.8"/><circle cx="1006.2" cy="896.1" r="4.8"/><circle cx="1014.8" cy="894" r="4.8"/><circle cx="1023.4" cy="897.9" r="4.8"/><circle cx="1032" cy="898.1" r="4.8"/><circle cx="1040.6" cy="897.9" r="4.8"/><circle cx="1049.2" cy="898" r="4.8"/><circle cx="1057.8" cy="897.8" r="4.8"/><circle cx="1066.4" cy="894.8" r="4.8"/><circle cx="1075" cy="894.8" r="4.8"/><circle cx="1083.6" cy="896.1" r="4.8"/><circle cx="1092.2" cy="896.2" r="4.8"/><circle cx="1100.8" cy="896.1" r="4.8"/><circle cx="1109.4" cy="895.7" r="4.8"/><circle cx="1118" cy="895.2" r="4.8"/><circle cx="1126.6" cy="894.2" r="4.8"/><circle cx="1135.2" cy="886" r="4.8"/><circle cx="1143.8" cy="889.5" r="4.8"/><circle cx="1152.4" cy="888.2" r="4.8"/><circle cx="1161" cy="885.6" r="4.8"/><circle cx="1169.6" cy="883.7" r="4.8"/><circle cx="1178.2" cy="880.1" r="4.8"/><circle cx="1186.8" cy="876.4" r="4.8"/><circle cx="1195.4" cy="871.6" r="4.8"/><circle cx="1204" cy="867.3" r="4.8"/><circle cx="1212.6" cy="862.4" r="4.8"/><circle cx="1221.2" cy="858.7" r="4.8"/><circle cx="1229.8" cy="854.8" r="4.8"/><circle cx="1238.4" cy="848.3" r="4.8"/><circle cx="1247" cy="841.1" r="4.8"/><circle cx="1255.6" cy="833.9" r="4.8"/><circle cx="1264.2" cy="826.7" r="4.8"/><circle cx="1272.8" cy="820" r="4.8"/><circle cx="1281.4" cy="814.2" r="4.8"/><circle cx="1290" cy="808.5" r="4.8"/><circle cx="1298.6" cy="803.4" r="4.8"/><circle cx="1307.2" cy="801.8" r="4.8"/><circle cx="1315.8" cy="796" r="4.8"/><circle cx="1324.4" cy="791.1" r="4.8"/><circle cx="1333" cy="786.7" r="4.8"/><circle cx="1341.6" cy="785.9" r="4.8"/><circle cx="1350.2" cy="788.6" r="4.8"/><circle cx="1358.8" cy="790" r="4.8"/><circle cx="1367.4" cy="788.4" r="4.8"/><circle cx="1376" cy="780" r="4.8"/><circle cx="1384.6" cy="775.3" r="4.8"/><circle cx="1393.2" cy="774.9" r="4.8"/><circle cx="1401.8" cy="781.9" r="4.8"/><circle cx="1410.4" cy="777.4" r="4.8"/><circle cx="1419" cy="775.6" r="4.8"/><circle cx="1427.6" cy="775.2" r="4.8"/><circle cx="1436.2" cy="775.8" r="4.8"/><circle cx="1444.8" cy="778.4" r="4.8"/><circle cx="1453.4" cy="785.7" r="4.8"/><circle cx="1462" cy="787.4" r="4.8"/><circle cx="1470.6" cy="790.4" r="4.8"/><circle cx="1479.2" cy="798.5" r="4.8"/><circle cx="1487.8" cy="804.5" r="4.8"/><circle cx="1496.4" cy="810.3" r="4.8"/><circle cx="1505" cy="816.9" r="4.8"/><circle cx="1513.6" cy="824.4" r="4.8"/><circle cx="1522.2" cy="832.3" r="4.8"/><circle cx="1530.8" cy="840.6" r="4.8"/><circle cx="1539.4" cy="848.2" r="4.8"/><circle cx="1548" cy="854.8" r="4.8"/><circle cx="1556.6" cy="859.2" r="4.8"/><circle cx="1565.2" cy="862.3" r="4.8"/><circle cx="1573.8" cy="866.7" r="4.8"/><circle cx="1582.4" cy="874.1" r="4.8"/><circle cx="1591" cy="879.8" r="4.8"/><circle cx="1599.6" cy="884.3" r="4.8"/><circle cx="1608.2" cy="885.6" r="4.8"/><circle cx="1616.8" cy="885.5" r="4.8"/><circle cx="1625.4" cy="886.7" r="4.8"/><circle cx="1634" cy="892.5" r="4.8"/><circle cx="1642.6" cy="895.4" r="4.8"/><circle cx="1651.2" cy="897.3" r="4.8"/><circle cx="1659.8" cy="898.6" r="4.8"/><circle cx="1668.4" cy="899.7" r="4.8"/><circle cx="1677" cy="900.7" r="4.8"/><circle cx="1685.6" cy="900.5" r="4.8"/><circle cx="1694.2" cy="901.6" r="4.8"/><circle cx="1702.8" cy="902.8" r="4.8"/></g>
<path d="M937 1142.4 L939 1142.3 L941 1142 L943 1141.8 L945 1141.5 L947 1141.8 L949 1142.4 L951 1142.6 L953 1142.4 L955 1142.1 L957 1142.4 L959 1142.6 L961 1142.1 L963 1142 L965 1142.2 L967 1142 L969 1141.9 L971 1141 L973 1141 L975 1140.6 L977 1141.1 L979 1141.1 L981 1141.8 L983 1142 L985 1142.3 L987 1141.4 L989 1141.2 L991 1141.2 L993 1142.1 L995 1141.7 L997 1141.6 L999 1141.2 L1001 1141.5 L1003 1142 L1005 1142 L1007 1142.3 L1009 1142.2 L1011 1142.3 L1013 1142.2 L1015 1142 L1017 1142.2 L1019 1141.8 L1021 1141.8 L1023 1142.2 L1025 1142.1 L1027 1142.4 L1029 1141.9 L1031 1142.2 L1033 1142.6 L1035 1142.8 L1037 1142.6 L1039 1142 L1041 1142 L1043 1142.5 L1045 1143.3 L1047 1144.2 L1049 1146.1 L1051 1148 L1053 1148.5 L1055 1147.7 L1057 1145.4 L1059 1143.9 L1061 1142.3 L1063 1141.7 L1065 1141.4 L1067 1142.1 L1069 1142.6 L1071 1142.2 L1073 1141.7 L1075 1141.5 L1077 1141.3 L1079 1141.4 L1081 1141.1 L1083 1142.2 L1085 1142.5 L1087 1142.5 L1089 1141.9 L1091 1141.6 L1093 1142.2 L1095 1142.1 L1097 1142.1 L1099 1141.7 L1101 1141.8 L1103 1141.8 L1105 1141.3 L1107 1141.3 L1109 1141.2 L1111 1141.9 L1113 1142.1 L1115 1142.3 L1117 1142.1 L1119 1141.7 L1121 1142 L1123 1141.4 L1125 1140.5 L1127 1137.6 L1129 1135.6 L1131 1134.8 L1133 1136.5 L1135 1138.4 L1137 1139.7 L1139 1140.8 L1141 1141.9 L1143 1142.5 L1145 1143.4 L1147 1144.1 L1149 1145.5 L1151 1145.5 L1153 1144.2 L1155 1142.6 L1157 1141.5 L1159 1140.3 L1161 1139.6 L1163 1139.2 L1165 1138.9 L1167 1138.8 L1169 1138.3 L1171 1138.7 L1173 1138.3 L1175 1138.4 L1177 1137.5 L1179 1137 L1181 1136 L1183 1135.4 L1185 1135.1 L1187 1134.6 L1189 1134.8 L1191 1133.6 L1193 1134 L1195 1132.8 L1197 1133 L1199 1132.2 L1201 1131.3 L1203 1130.7 L1205 1130.4 L1207 1130.1 L1209 1128.7 L1211 1127.3 L1213 1126.1 L1215 1125.7 L1217 1124.6 L1219 1123.9 L1221 1122.2 L1223 1121.1 L1225 1119.5 L1227 1119.1 L1229 1118 L1231 1117.6 L1233 1115.9 L1235 1114.5 L1237 1112.8 L1239 1111.3 L1241 1110.2 L1243 1108.8 L1245 1107.5 L1247 1105.7 L1249 1104.1 L1251 1103.4 L1253 1102.3 L1255 1100.8 L1257 1099 L1259 1098.3 L1261 1096.8 L1263 1095.3 L1265 1093.2 L1267 1091.8 L1269 1090.9 L1271 1089.8 L1273 1089.2 L1275 1087.5 L1277 1086.6 L1279 1085.3 L1281 1084.4 L1283 1082.9 L1285 1081.7 L1287 1081.3 L1289 1080.7 L1291 1080.4 L1293 1079.2 L1295 1078.6 L1297 1077.7 L1299 1077.4 L1301 1076.9 L1303 1076.6 L1305 1076 L1307 1076.2 L1309 1076.2 L1311 1076.1 L1313 1075.3 L1315 1074.5 L1317 1074.5 L1319 1075 L1321 1075.3 L1323 1075.2 L1325 1075.1 L1327 1075.5 L1329 1075.6 L1331 1075.2 L1333 1075.5 L1335 1074.8 L1337 1075.3 L1339 1075 L1341 1075.7 L1343 1076 L1345 1076.3 L1347 1075.6 L1349 1074.3 L1351 1074 L1353 1073.9 L1355 1074.3 L1357 1074.1 L1359 1073.7 L1361 1072.7 L1363 1072.2 L1365 1072.4 L1367 1072.7 L1369 1072.2 L1371 1071.5 L1373 1070.6 L1375 1070 L1377 1069.4 L1379 1068.8 L1381 1068.5 L1383 1068.2 L1385 1068.3 L1387 1067.2 L1389 1066.3 L1391 1065.2 L1393 1064.6 L1395 1064.3 L1397 1063.7 L1399 1063.6 L1401 1063 L1403 1063.4 L1405 1062.3 L1407 1062 L1409 1060.8 L1411 1060.9 L1413 1059.7 L1415 1059.3 L1417 1059.3 L1419 1059.5 L1421 1059.6 L1423 1059.2 L1425 1059.6 L1427 1059.6 L1429 1059.1 L1431 1058.7 L1433 1058.4 L1435 1058.4 L1437 1058.9 L1439 1060.6 L1441 1062.3 L1443 1062.8 L1445 1062.8 L1447 1064 L1449 1065.3 L1451 1066.6 L1453 1067.3 L1455 1068.3 L1457 1069.8 L1459 1071.2 L1461 1072.5 L1463 1073.3 L1465 1074.6 L1467 1075.7 L1469 1077.9 L1471 1078.8 L1473 1080.5 L1475 1081.7 L1477 1083.2 L1479 1085.5 L1481 1087.6 L1483 1089.5 L1485 1090.8 L1487 1092 L1489 1092.9 L1491 1094.4 L1493 1095.9 L1495 1098.4 L1497 1099.6 L1499 1101.2 L1501 1103 L1503 1106.1 L1505 1109.3 L1507 1112.6 L1509 1115.4 L1511 1116.6 L1513 1116.6 L1515 1115 L1517 1115.6 L1519 1116.6 L1521 1118.4 L1523 1119.2 L1525 1120.1 L1527 1121 L1529 1121.8 L1531 1122.7 L1533 1123.7 L1535 1125.3 L1537 1126.5 L1539 1127.4 L1541 1127.5 L1543 1128 L1545 1129.3 L1547 1130.5 L1549 1131.4 L1551 1131.5 L1553 1131.6 L1555 1132 L1557 1132.6 L1559 1132.3 L1561 1130.5 L1563 1127.3 L1565 1124.6 L1567 1123.2 L1569 1125 L1571 1128.4 L1573 1133 L1575 1135.4 L1577 1137.3 L1579 1138.2 L1581 1138.8 L1583 1138.7 L1585 1138.5 L1587 1138.8 L1589 1138.9 L1591 1139.2 L1593 1140 L1595 1140.5 L1597 1140.4 L1599 1139.5 L1601 1139.9 L1603 1139.6 L1605 1139.7 L1607 1140.2 L1609 1140.4 L1611 1141.2 L1613 1141.4 L1615 1141.8 L1617 1141.7 L1619 1142 L1621 1141.9 L1623 1141.6 L1625 1140.5 L1627 1140.6 L1629 1141.4 L1631 1142.2 L1633 1141.9 L1635 1141.2 L1637 1140.7 L1639 1141.2 L1641 1141.4 L1643 1141.7 L1645 1141.7 L1647 1141.7 L1649 1141.6 L1651 1141.6 L1653 1141.7 L1655 1141.9 L1657 1142.5 L1659 1142.7 L1661 1142.6 L1663 1141.4 L1665 1141.4 L1667 1140.7 L1669 1140.8 L1671 1141 L1673 1141.9 L1675 1142.4 L1677 1141.7 L1679 1141.7 L1681 1142.2 L1683 1144 L1685 1146.3 L1687 1148 L1689 1148.4 L1691 1147.3 L1693 1146.3 L1695 1145.1 L1697 1143.8 L1699 1142.8 L1701 1141.8 L1703 1142.2 L1705 1142.4 L1707 1143.1 L1709 1142.6 L1711 1142.2" fill="none" stroke="#404040" stroke-width="5.5" stroke-linejoin="round" />
<path d="M1201 1141.9 L1203 1141.9 L1205 1141.9 L1207 1141.8 L1209 1141.8 L1211 1141.8 L1213 1141.8 L1215 1141.8 L1217 1141.7 L1219 1141.7 L1221 1141.7 L1223 1141.6 L1225 1141.6 L1227 1141.6 L1229 1141.5 L1231 1141.5 L1233 1141.5 L1235 1141.4 L1237 1141.4 L1239 1141.3 L1241 1141.2 L1243 1141.2 L1245 1141.1 L1247 1141 L1249 1141 L1251 1140.9 L1253 1140.8 L1255 1140.7 L1257 1140.5 L1259 1140.4 L1261 1140.3 L1263 1140.2 L1265 1140 L1267 1139.8 L1269 1139.7 L1271 1139.5 L1273 1139.3 L1275 1139.1 L1277 1138.8 L1279 1138.6 L1281 1138.3 L1283 1138 L1285 1137.7 L1287 1137.4 L1289 1137 L1291 1136.6 L1293 1136.2 L1295 1135.8 L1297 1135.4 L1299 1134.9 L1301 1134.4 L1303 1133.8 L1305 1133.3 L1307 1132.7 L1309 1132 L1311 1131.4 L1313 1130.7 L1315 1129.9 L1317 1129.2 L1319 1128.4 L1321 1127.5 L1323 1126.6 L1325 1125.7 L1327 1124.8 L1329 1123.8 L1331 1122.7 L1333 1121.6 L1335 1120.5 L1337 1119.4 L1339 1118.2 L1341 1116.9 L1343 1115.7 L1345 1114.4 L1347 1113 L1349 1111.7 L1351 1110.3 L1353 1108.8 L1355 1107.4 L1357 1105.9 L1359 1104.4 L1361 1102.8 L1363 1101.3 L1365 1099.7 L1367 1098.1 L1369 1096.5 L1371 1094.9 L1373 1093.3 L1375 1091.7 L1377 1090.1 L1379 1088.5 L1381 1086.9 L1383 1085.4 L1385 1083.8 L1387 1082.3 L1389 1080.8 L1391 1079.3 L1393 1077.9 L1395 1076.5 L1397 1075.1 L1399 1073.8 L1401 1072.6 L1403 1071.4 L1405 1070.3 L1407 1069.2 L1409 1068.2 L1411 1067.3 L1413 1066.5 L1415 1065.7 L1417 1065.1 L1419 1064.5 L1421 1064 L1423 1063.6 L1425 1063.3 L1427 1063.1 L1429 1062.9 L1431 1062.9 L1433 1063 L1435 1063.1 L1437 1063.4 L1439 1063.7 L1441 1064.2 L1443 1064.7 L1445 1065.3 L1447 1066 L1449 1066.8 L1451 1067.7 L1453 1068.6 L1455 1069.6 L1457 1070.7 L1459 1071.9 L1461 1073.1 L1463 1074.4 L1465 1075.7 L1467 1077 L1469 1078.4 L1471 1079.9 L1473 1081.4 L1475 1082.9 L1477 1084.4 L1479 1086 L1481 1087.6 L1483 1089.1 L1485 1090.7 L1487 1092.4 L1489 1094 L1491 1095.6 L1493 1097.2 L1495 1098.8 L1497 1100.3 L1499 1101.9 L1501 1103.4 L1503 1105 L1505 1106.5 L1507 1108 L1509 1109.4 L1511 1110.8 L1513 1112.2 L1515 1113.6 L1517 1114.9 L1519 1116.2 L1521 1117.4 L1523 1118.7 L1525 1119.8 L1527 1121 L1529 1122.1 L1531 1123.1 L1533 1124.2 L1535 1125.1 L1537 1126.1 L1539 1127 L1541 1127.9 L1543 1128.7 L1545 1129.5 L1547 1130.2 L1549 1131 L1551 1131.6 L1553 1132.3 L1555 1132.9 L1557 1133.5 L1559 1134.1 L1561 1134.6 L1563 1135.1 L1565 1135.5 L1567 1136 L1569 1136.4 L1571 1136.8 L1573 1137.2 L1575 1137.5 L1577 1137.8 L1579 1138.1 L1581 1138.4 L1583 1138.7 L1585 1138.9 L1587 1139.1 L1589 1139.4 L1591 1139.6 L1593 1139.7 L1595 1139.9 L1597 1140.1 L1599 1140.2 L1601 1140.4 L1603 1140.5 L1605 1140.6 L1607 1140.7 L1609 1140.8 L1611 1140.9 L1613 1141 L1615 1141.1 L1617 1141.1 L1619 1141.2 L1621 1141.3 L1623 1141.3 L1625 1141.4 L1627 1141.4 L1629 1141.5 L1631 1141.5 L1633 1141.6 L1635 1141.6 L1637 1141.6 L1639 1141.7 L1641 1141.7 L1643 1141.7 L1645 1141.7 L1647 1141.8 L1649 1141.8 L1651 1141.8 L1653 1141.8 L1655 1141.9 L1657 1141.9 L1659 1141.9 L1661 1141.9 L1663 1141.9 L1665 1141.9 L1667 1141.9 L1669 1142 L1671 1142 L1673 1142 L1675 1142 L1677 1142 L1679 1142 L1681 1142 L1683 1142 L1685 1142 L1687 1142 L1689 1142.1 L1691 1142.1 L1693 1142.1 L1695 1142.1 L1697 1142.1 L1699 1142.1 L1701 1142.1 L1703 1142.1 L1705 1142.1 L1707 1142.1 L1709 1142.1 L1711 1142.1" fill="none" stroke="#ffc20e" stroke-width="6.5" stroke-linejoin="round" stroke-linecap="round"/>
<path d="M1135 1141.6 L1137 1141.6 L1139 1141.5 L1141 1141.4 L1143 1141.3 L1145 1141.3 L1147 1141.2 L1149 1141.1 L1151 1140.9 L1153 1140.8 L1155 1140.7 L1157 1140.5 L1159 1140.4 L1161 1140.2 L1163 1140 L1165 1139.8 L1167 1139.6 L1169 1139.3 L1171 1139.1 L1173 1138.8 L1175 1138.5 L1177 1138.2 L1179 1137.8 L1181 1137.5 L1183 1137.1 L1185 1136.6 L1187 1136.2 L1189 1135.7 L1191 1135.2 L1193 1134.7 L1195 1134.1 L1197 1133.5 L1199 1132.9 L1201 1132.2 L1203 1131.5 L1205 1130.7 L1207 1130 L1209 1129.2 L1211 1128.3 L1213 1127.4 L1215 1126.5 L1217 1125.6 L1219 1124.6 L1221 1123.6 L1223 1122.5 L1225 1121.4 L1227 1120.3 L1229 1119.2 L1231 1118 L1233 1116.8 L1235 1115.6 L1237 1114.3 L1239 1113.1 L1241 1111.8 L1243 1110.5 L1245 1109.2 L1247 1107.9 L1249 1106.6 L1251 1105.3 L1253 1104 L1255 1102.7 L1257 1101.5 L1259 1100.2 L1261 1099 L1263 1097.8 L1265 1096.6 L1267 1095.5 L1269 1094.4 L1271 1093.3 L1273 1092.3 L1275 1091.3 L1277 1090.4 L1279 1089.6 L1281 1088.8 L1283 1088.1 L1285 1087.5 L1287 1086.9 L1289 1086.4 L1291 1086 L1293 1085.7 L1295 1085.4 L1297 1085.3 L1299 1085.2 L1301 1085.2 L1303 1085.3 L1305 1085.5 L1307 1085.8 L1309 1086.1 L1311 1086.5 L1313 1087.1 L1315 1087.6 L1317 1088.3 L1319 1089 L1321 1089.8 L1323 1090.7 L1325 1091.6 L1327 1092.6 L1329 1093.6 L1331 1094.7 L1333 1095.8 L1335 1097 L1337 1098.1 L1339 1099.4 L1341 1100.6 L1343 1101.9 L1345 1103.1 L1347 1104.4 L1349 1105.7 L1351 1107 L1353 1108.3 L1355 1109.6 L1357 1110.9 L1359 1112.2 L1361 1113.5 L1363 1114.7 L1365 1115.9 L1367 1117.2 L1369 1118.3 L1371 1119.5 L1373 1120.6 L1375 1121.7 L1377 1122.8 L1379 1123.9 L1381 1124.9 L1383 1125.9 L1385 1126.8 L1387 1127.7 L1389 1128.6 L1391 1129.4 L1393 1130.2 L1395 1131 L1397 1131.7 L1399 1132.4 L1401 1133 L1403 1133.7 L1405 1134.3 L1407 1134.8 L1409 1135.4 L1411 1135.9 L1413 1136.3 L1415 1136.8 L1417 1137.2 L1419 1137.6 L1421 1137.9 L1423 1138.3 L1425 1138.6 L1427 1138.9 L1429 1139.2 L1431 1139.4 L1433 1139.6 L1435 1139.9 L1437 1140.1 L1439 1140.2 L1441 1140.4 L1443 1140.6 L1445 1140.7 L1447 1140.9 L1449 1141 L1451 1141.1 L1453 1141.2 L1455 1141.3 L1457 1141.4 L1459 1141.5 L1461 1141.5 L1463 1141.6 L1465 1141.7 L1467 1141.7 L1469 1141.8 L1471 1141.8 L1473 1141.8 L1475 1141.9 L1477 1141.9 L1479 1141.9" fill="none" stroke="#2e6399" stroke-width="4.8" stroke-linejoin="round" stroke-linecap="round"/>
<path d="M937 1142.6 L939 1142.6 L941 1142.6 L943 1142.6 L945 1142.6 L947 1142.6 L949 1142.6 L951 1142.6 L953 1142.6 L955 1142.6 L957 1142.6 L959 1142.6 L961 1142.6 L963 1142.6 L965 1142.6 L967 1142.6 L969 1142.6 L971 1142.6 L973 1142.6 L975 1142.6 L977 1142.6 L979 1142.6 L981 1142.6 L983 1142.6 L985 1142.6 L987 1142.6 L989 1142.6 L991 1142.6 L993 1142.6 L995 1142.6 L997 1142.6 L999 1142.6 L1001 1142.6 L1003 1142.6 L1005 1142.6 L1007 1142.6 L1009 1142.6 L1011 1142.6 L1013 1142.6 L1015 1142.6 L1017 1142.6 L1019 1142.6 L1021 1142.6 L1023 1142.6 L1025 1142.6 L1027 1142.6 L1029 1142.6 L1031 1142.6 L1033 1142.6 L1035 1142.6 L1037 1142.6 L1039 1142.6 L1041 1142.6 L1043 1142.6 L1045 1142.6 L1047 1142.6 L1049 1142.6 L1051 1142.6 L1053 1142.6 L1055 1142.6 L1057 1142.6 L1059 1142.6 L1061 1142.6 L1063 1142.6 L1065 1142.6 L1067 1142.6 L1069 1142.6 L1071 1142.6 L1073 1142.6 L1075 1142.6 L1077 1142.6 L1079 1142.6 L1081 1142.6 L1083 1142.6 L1085 1142.6 L1087 1142.6 L1089 1142.6 L1091 1142.6 L1093 1142.6 L1095 1142.6 L1097 1142.6 L1099 1142.6 L1101 1142.6 L1103 1142.6 L1105 1142.6 L1107 1142.6 L1109 1142.6 L1111 1142.6 L1113 1142.6 L1115 1142.6 L1117 1142.6 L1119 1142.6 L1121 1142.6 L1123 1142.6 L1125 1142.6 L1127 1142.6 L1129 1142.6 L1131 1142.6 L1133 1142.6 L1135 1142.6 L1137 1142.6 L1139 1142.6 L1141 1142.6 L1143 1142.6 L1145 1142.6 L1147 1142.6 L1149 1142.6 L1151 1142.6 L1153 1142.6 L1155 1142.6 L1157 1142.6 L1159 1142.6 L1161 1142.6 L1163 1142.6 L1165 1142.6 L1167 1142.6 L1169 1142.6 L1171 1142.6 L1173 1142.6 L1175 1142.6 L1177 1142.6 L1179 1142.6 L1181 1142.6 L1183 1142.6 L1185 1142.6 L1187 1142.6 L1189 1142.6 L1191 1142.6 L1193 1142.6 L1195 1142.6 L1197 1142.6 L1199 1142.6 L1201 1142.6 L1203 1142.6 L1205 1142.6 L1207 1142.6 L1209 1142.6 L1211 1142.6 L1213 1142.6 L1215 1142.6 L1217 1142.6 L1219 1142.6 L1221 1142.6 L1223 1142.6 L1225 1142.6 L1227 1142.6 L1229 1142.6 L1231 1142.6 L1233 1142.6 L1235 1142.6 L1237 1142.6 L1239 1142.6 L1241 1142.6 L1243 1142.6 L1245 1142.6 L1247 1142.6 L1249 1142.6 L1251 1142.6 L1253 1142.6 L1255 1142.6 L1257 1142.6 L1259 1142.6 L1261 1142.6 L1263 1142.6 L1265 1142.6 L1267 1142.6 L1269 1142.6 L1271 1142.6 L1273 1142.6 L1275 1142.6 L1277 1142.6 L1279 1142.6 L1281 1142.6 L1283 1142.6 L1285 1142.6 L1287 1142.6 L1289 1142.6 L1291 1142.6 L1293 1142.6 L1295 1142.6 L1297 1142.6 L1299 1142.6 L1301 1142.6 L1303 1142.6 L1305 1142.6 L1307 1142.6 L1309 1142.6 L1311 1142.6 L1313 1142.6 L1315 1142.6 L1317 1142.6 L1319 1142.6 L1321 1142.6 L1323 1142.6 L1325 1142.6 L1327 1142.6 L1329 1142.6 L1331 1142.6 L1333 1142.6 L1335 1142.6 L1337 1142.6 L1339 1142.6 L1341 1142.6 L1343 1142.6 L1345 1142.6 L1347 1142.6 L1349 1142.6 L1351 1142.6 L1353 1142.6 L1355 1142.6 L1357 1142.6 L1359 1142.6 L1361 1142.6 L1363 1142.6 L1365 1142.6 L1367 1142.6 L1369 1142.6 L1371 1142.6 L1373 1142.6 L1375 1142.6 L1377 1142.6 L1379 1142.6 L1381 1142.6 L1383 1142.6 L1385 1142.6 L1387 1142.6 L1389 1142.6 L1391 1142.6 L1393 1142.6 L1395 1142.6 L1397 1142.6 L1399 1142.6 L1401 1142.6 L1403 1142.6 L1405 1142.6 L1407 1142.6 L1409 1142.6 L1411 1142.6 L1413 1142.6 L1415 1142.6 L1417 1142.6 L1419 1142.6 L1421 1142.6 L1423 1142.6 L1425 1142.6 L1427 1142.6 L1429 1142.6 L1431 1142.6 L1433 1142.6 L1435 1142.6 L1437 1142.6 L1439 1142.6 L1441 1142.6 L1443 1142.6 L1445 1142.6 L1447 1142.6 L1449 1142.6 L1451 1142.6 L1453 1142.6 L1455 1142.6 L1457 1142.6 L1459 1142.6 L1461 1142.6 L1463 1142.6 L1465 1142.6 L1467 1142.6 L1469 1142.6 L1471 1142.6 L1473 1142.6 L1475 1142.6 L1477 1142.6 L1479 1142.6 L1481 1142.6 L1483 1142.6 L1485 1142.6 L1487 1142.6 L1489 1142.6 L1491 1142.6 L1493 1142.6 L1495 1142.6 L1497 1142.6 L1499 1142.6 L1501 1142.6 L1503 1142.6 L1505 1142.6 L1507 1142.6 L1509 1142.6 L1511 1142.6 L1513 1142.6 L1515 1142.6 L1517 1142.6 L1519 1142.6 L1521 1142.6 L1523 1142.6 L1525 1142.6 L1527 1142.6 L1529 1142.6 L1531 1142.6 L1533 1142.6 L1535 1142.6 L1537 1142.6 L1539 1142.6 L1541 1142.6 L1543 1142.6 L1545 1142.6 L1547 1142.6 L1549 1142.6 L1551 1142.6 L1553 1142.6 L1555 1142.6 L1557 1142.6 L1559 1142.6 L1561 1142.6 L1563 1142.6 L1565 1142.6 L1567 1142.6 L1569 1142.6 L1571 1142.6 L1573 1142.6 L1575 1142.6 L1577 1142.6 L1579 1142.6 L1581 1142.6 L1583 1142.6 L1585 1142.6 L1587 1142.6 L1589 1142.6 L1591 1142.6 L1593 1142.6 L1595 1142.6 L1597 1142.6 L1599 1142.6 L1601 1142.6 L1603 1142.6 L1605 1142.6 L1607 1142.6 L1609 1142.6 L1611 1142.6 L1613 1142.6 L1615 1142.6 L1617 1142.6 L1619 1142.6 L1621 1142.6 L1623 1142.6 L1625 1142.6 L1627 1142.6 L1629 1142.6 L1631 1142.6 L1633 1142.6 L1635 1142.6 L1637 1142.6 L1639 1142.6 L1641 1142.6 L1643 1142.6 L1645 1142.6 L1647 1142.6 L1649 1142.6 L1651 1142.6 L1653 1142.6 L1655 1142.6 L1657 1142.6 L1659 1142.6 L1661 1142.6 L1663 1142.6 L1665 1142.6 L1667 1142.6 L1669 1142.6 L1671 1142.6 L1673 1142.6 L1675 1142.6 L1677 1142.6 L1679 1142.6 L1681 1142.6 L1683 1142.6 L1685 1142.6 L1687 1142.6 L1689 1142.6 L1691 1142.6 L1693 1142.6 L1695 1142.6 L1697 1142.6 L1699 1142.6 L1701 1142.6 L1703 1142.6 L1705 1142.6 L1707 1142.6 L1709 1142.6 L1711 1142.6" fill="none" stroke="#404040" stroke-width="4.5" stroke-linejoin="round" />
<g fill="none" stroke="#7c7c7c" stroke-width="1.3"><circle cx="938" cy="1142.4" r="4.8"/><circle cx="946.6" cy="1141.8" r="4.8"/><circle cx="955.2" cy="1142.1" r="4.8"/><circle cx="963.8" cy="1142.1" r="4.8"/><circle cx="972.4" cy="1141" r="4.8"/><circle cx="981" cy="1141.8" r="4.8"/><circle cx="989.6" cy="1141.2" r="4.8"/><circle cx="998.2" cy="1141.4" r="4.8"/><circle cx="1006.8" cy="1142.2" r="4.8"/><circle cx="1015.4" cy="1142" r="4.8"/><circle cx="1024" cy="1142.2" r="4.8"/><circle cx="1032.6" cy="1142.5" r="4.8"/><circle cx="1041.2" cy="1142" r="4.8"/><circle cx="1049.8" cy="1146.9" r="4.8"/><circle cx="1058.4" cy="1144.4" r="4.8"/><circle cx="1067" cy="1142.1" r="4.8"/><circle cx="1075.6" cy="1141.4" r="4.8"/><circle cx="1084.2" cy="1142.4" r="4.8"/><circle cx="1092.8" cy="1142.1" r="4.8"/><circle cx="1101.4" cy="1141.8" r="4.8"/><circle cx="1110" cy="1141.6" r="4.8"/><circle cx="1118.6" cy="1141.8" r="4.8"/><circle cx="1127.2" cy="1137.4" r="4.8"/><circle cx="1135.8" cy="1138.9" r="4.8"/><circle cx="1144.4" cy="1143.1" r="4.8"/><circle cx="1153" cy="1144.2" r="4.8"/><circle cx="1161.6" cy="1139.5" r="4.8"/><circle cx="1170.2" cy="1138.5" r="4.8"/><circle cx="1178.8" cy="1137.1" r="4.8"/><circle cx="1187.4" cy="1134.6" r="4.8"/><circle cx="1196" cy="1132.9" r="4.8"/><circle cx="1204.6" cy="1130.5" r="4.8"/><circle cx="1213.2" cy="1126.1" r="4.8"/><circle cx="1221.8" cy="1121.7" r="4.8"/><circle cx="1230.4" cy="1117.7" r="4.8"/><circle cx="1239" cy="1111.3" r="4.8"/><circle cx="1247.6" cy="1105.2" r="4.8"/><circle cx="1256.2" cy="1099.7" r="4.8"/><circle cx="1264.8" cy="1093.4" r="4.8"/><circle cx="1273.4" cy="1088.9" r="4.8"/><circle cx="1282" cy="1083.7" r="4.8"/><circle cx="1290.6" cy="1080.5" r="4.8"/><circle cx="1299.2" cy="1077.3" r="4.8"/><circle cx="1307.8" cy="1076.2" r="4.8"/><circle cx="1316.4" cy="1074.5" r="4.8"/><circle cx="1325" cy="1075.1" r="4.8"/><circle cx="1333.6" cy="1075.3" r="4.8"/><circle cx="1342.2" cy="1075.9" r="4.8"/><circle cx="1350.8" cy="1074" r="4.8"/><circle cx="1359.4" cy="1073.5" r="4.8"/><circle cx="1368" cy="1072.5" r="4.8"/><circle cx="1376.6" cy="1069.6" r="4.8"/><circle cx="1385.2" cy="1068.2" r="4.8"/><circle cx="1393.8" cy="1064.5" r="4.8"/><circle cx="1402.4" cy="1063.3" r="4.8"/><circle cx="1411" cy="1060.9" r="4.8"/><circle cx="1419.6" cy="1059.5" r="4.8"/><circle cx="1428.2" cy="1059.3" r="4.8"/><circle cx="1436.8" cy="1058.9" r="4.8"/><circle cx="1445.4" cy="1063" r="4.8"/><circle cx="1454" cy="1067.8" r="4.8"/><circle cx="1462.6" cy="1073.1" r="4.8"/><circle cx="1471.2" cy="1079" r="4.8"/><circle cx="1479.8" cy="1086.3" r="4.8"/><circle cx="1488.4" cy="1092.7" r="4.8"/><circle cx="1497" cy="1099.6" r="4.8"/><circle cx="1505.6" cy="1110.3" r="4.8"/><circle cx="1514.2" cy="1115.6" r="4.8"/><circle cx="1522.8" cy="1119.1" r="4.8"/><circle cx="1531.4" cy="1122.9" r="4.8"/><circle cx="1540" cy="1127.5" r="4.8"/><circle cx="1548.6" cy="1131.2" r="4.8"/><circle cx="1557.2" cy="1132.6" r="4.8"/><circle cx="1565.8" cy="1124" r="4.8"/><circle cx="1574.4" cy="1134.7" r="4.8"/><circle cx="1583" cy="1138.7" r="4.8"/><circle cx="1591.6" cy="1139.4" r="4.8"/><circle cx="1600.2" cy="1139.7" r="4.8"/><circle cx="1608.8" cy="1140.4" r="4.8"/><circle cx="1617.4" cy="1141.8" r="4.8"/><circle cx="1626" cy="1140.6" r="4.8"/><circle cx="1634.6" cy="1141.3" r="4.8"/><circle cx="1643.2" cy="1141.7" r="4.8"/><circle cx="1651.8" cy="1141.7" r="4.8"/><circle cx="1660.4" cy="1142.6" r="4.8"/><circle cx="1669" cy="1140.8" r="4.8"/><circle cx="1677.6" cy="1141.7" r="4.8"/><circle cx="1686.2" cy="1147.3" r="4.8"/><circle cx="1694.8" cy="1145.3" r="4.8"/><circle cx="1703.4" cy="1142.3" r="4.8"/></g>
</g>
<rect x="936" y="639" width="777" height="553" fill="none" stroke="#000" stroke-width="4"/>
<g stroke="#000" stroke-width="4"><line x1="1033.1" y1="1190" x2="1033.1" y2="1180"/><line x1="1130.2" y1="1190" x2="1130.2" y2="1180"/><line x1="1227.4" y1="1190" x2="1227.4" y2="1180"/><line x1="1324.5" y1="1190" x2="1324.5" y2="1180"/><line x1="1421.6" y1="1190" x2="1421.6" y2="1180"/><line x1="1518.8" y1="1190" x2="1518.8" y2="1180"/><line x1="1615.9" y1="1190" x2="1615.9" y2="1180"/></g>
<g stroke="#000" stroke-width="4"><line x1="984.6" y1="1190" x2="984.6" y2="1186.2"/><line x1="1081.7" y1="1190" x2="1081.7" y2="1186.2"/><line x1="1178.8" y1="1190" x2="1178.8" y2="1186.2"/><line x1="1275.9" y1="1190" x2="1275.9" y2="1186.2"/><line x1="1373.1" y1="1190" x2="1373.1" y2="1186.2"/><line x1="1470.2" y1="1190" x2="1470.2" y2="1186.2"/><line x1="1567.3" y1="1190" x2="1567.3" y2="1186.2"/><line x1="1664.4" y1="1190" x2="1664.4" y2="1186.2"/></g>
<text transform="translate(936 1227.2) scale(0.9524 1)" font-size="35.7" fill="#000" text-anchor="middle" >537</text>
<text transform="translate(1033.1 1227.2) scale(0.9524 1)" font-size="35.7" fill="#000" text-anchor="middle" >536</text>
<text transform="translate(1130.2 1227.2) scale(0.9524 1)" font-size="35.7" fill="#000" text-anchor="middle" >535</text>
<text transform="translate(1227.4 1227.2) scale(0.9524 1)" font-size="35.7" fill="#000" text-anchor="middle" >534</text>
<text transform="translate(1324.5 1227.2) scale(0.9524 1)" font-size="35.7" fill="#000" text-anchor="middle" >533</text>
<text transform="translate(1421.6 1227.2) scale(0.9524 1)" font-size="35.7" fill="#000" text-anchor="middle" >532</text>
<text transform="translate(1518.8 1227.2) scale(0.9524 1)" font-size="35.7" fill="#000" text-anchor="middle" >531</text>
<text transform="translate(1615.9 1227.2) scale(0.9524 1)" font-size="35.7" fill="#000" text-anchor="middle" >530</text>
<text transform="translate(1713 1227.2) scale(0.9524 1)" font-size="35.7" fill="#000" text-anchor="middle" >529</text>
<text transform="translate(1325 1261.6) scale(0.9524 1)" font-size="37.6" fill="#000" text-anchor="middle" textLength="379.1" lengthAdjust="spacingAndGlyphs" >Binding Energy (eV)</text>
<text transform="translate(922.6 901.6) rotate(-90) scale(0.9524 1)" font-size="39.1" fill="#000" text-anchor="middle" >Intensity (a.u.)</text>
<text transform="translate(864 714.8) scale(1.0000 1)" font-size="75.6" fill="#000" text-anchor="start" >d</text>
<text transform="translate(941 675.1) scale(0.9524 1)" font-size="33.8" fill="#ee0000" text-anchor="start" >B-C<tspan font-size="22.3" dy="9.1">3</tspan><tspan dy="-9.1">N</tspan><tspan font-size="22.3" dy="9.1">4</tspan><tspan dy="-9.1">-16 MPa</tspan></text>
<text transform="translate(1704.7 677.9) scale(1.0048 1)" font-size="35.8" fill="#000" text-anchor="end" >O 1<tspan font-style="italic">s</tspan></text>
<text transform="translate(1171.7 799) scale(0.9524 1)" font-size="30.6" fill="#2e6399" text-anchor="middle" >533.5 eV</text>
<text transform="translate(1162.7 826.5) scale(0.9524 1)" font-size="30.6" fill="#2e6399" text-anchor="middle" >Adsorbed</text>
<text transform="translate(1161.5 852.5) scale(0.9524 1)" font-size="30.6" fill="#2e6399" text-anchor="middle" >oxygen</text>
<text transform="translate(1348 742) scale(0.9524 1)" font-size="30.6" fill="#ff7f0e" text-anchor="middle" >532.4 eV</text>
<text transform="translate(1340.2 770) scale(0.9524 1)" font-size="30.6" fill="#ff7f0e" text-anchor="middle" >O-H</text>
<text transform="translate(1551.5 773.5) scale(0.9524 1)" font-size="30.6" fill="#ee0000" text-anchor="middle" >531.4 eV</text>
<text transform="translate(1545.2 801) scale(0.9524 1)" font-size="30.6" fill="#ee0000" text-anchor="middle" >B-O</text>
<text transform="translate(942.5 992.5) scale(0.9524 1)" font-size="33.6" fill="#404040" text-anchor="start" >Bulk C<tspan font-size="22.2" dy="9.1">3</tspan><tspan dy="-9.1">N</tspan><tspan font-size="22.2" dy="9.1">4</tspan></text>
<text transform="translate(1206 1053.5) scale(0.9524 1)" font-size="30.6" fill="#2e6399" text-anchor="middle" >533.5 eV</text>
<text transform="translate(1197.7 1081) scale(0.9524 1)" font-size="30.6" fill="#2e6399" text-anchor="middle" >Adsorbed</text>
<text transform="translate(1195.5 1107) scale(0.9524 1)" font-size="30.6" fill="#2e6399" text-anchor="middle" >oxygen</text>
<text transform="translate(1449.2 1020) scale(0.9524 1)" font-size="30.6" fill="#ff7f0e" text-anchor="middle" >532.1 eV</text>
<text transform="translate(1442.2 1047.5) scale(0.9524 1)" font-size="30.6" fill="#ff7f0e" text-anchor="middle" >O-H</text>
<clipPath id="ce"><rect x="73.5" y="1279" width="772.2" height="555.3"/></clipPath><g clip-path="url(#ce)">
<path d="M75.5 1713.7 L90.6 1741.7 L108 1726.5 L126.6 1735.1 L143.9 1734.5 L160.7 1728.9 L174.6 1734.5 L185.2 1738.5 L190.6 1739.1 L199.9 1737.2 L206.6 1728.9 L220.7 1732.9 L227.4 1716.9 L234.6 1725.7 L241.7 1716.9 L249.2 1723.9 L255.9 1734.5 L263.9 1728.4 L267.9 1668.4 L271.9 1596.5 L275.3 1516.5 L278.5 1500.6 L283.9 1481.9 L286 1500.6 L289.2 1569.8 L293.2 1636.5 L298 1736.4 L304.6 1763 L311.8 1766.5 L319.8 1747.1 L326.5 1727.1 L337.1 1689.8 L346.5 1641.8 L353.1 1583.2 L361.1 1503.2 L367.8 1459.2 L375.3 1440.6 L382.5 1457.9 L389.9 1477.1 L396.3 1489.9 L404.3 1500 L409.1 1521.9 L417.1 1552.5 L423.8 1565.8 L430.4 1589 L437.1 1591.2 L445.1 1603.2 L451.7 1609.3 L459.3 1601.8 L466.5 1579.2 L468.7 1543.2 L472.7 1489.9 L476.6 1436.6 L480.6 1378 L488.6 1409.9 L494.8 1444.6 L500.6 1476.6 L507.3 1496.6 L515.3 1521.9 L523.3 1517.9 L529.4 1473.4 L536.6 1465.4 L543.3 1477.9 L550.7 1475.2 L557.9 1476 L564.6 1439.3 L571.3 1407.3 L577.9 1376.6 L585.9 1370 L593.1 1376.6 L599.2 1366 L606.7 1358 L613.9 1356.1 L620.6 1358.8 L627.2 1370 L635.2 1374.5 L641.9 1371.8 L648.5 1363.3 L655.7 1365.2 L671.2 1377.2 L688.5 1392.6 L704.5 1415.8 L723.2 1423.3 L740.5 1429.9 L757.8 1455.2 L773.8 1459.2 L792.4 1464.6 L811.1 1471.8 L828.4 1489.4 L844.4 1495.8" fill="none" stroke="#ee0000" stroke-width="6" stroke-linejoin="round" />
<line x1="284.3" y1="1480.3" x2="284.3" y2="1834" stroke="#000" stroke-width="4.6" stroke-dasharray="20 18.25"/>
<line x1="376.6" y1="1448.2" x2="376.6" y2="1834" stroke="#000" stroke-width="4.5" stroke-dasharray="20.3 18.25" stroke-dashoffset="3.2"/>
</g>
<rect x="73.5" y="1279" width="772.2" height="555.3" fill="none" stroke="#000" stroke-width="4.4"/>
<g stroke="#000" stroke-width="4.6"><line x1="143.7" y1="1832.3" x2="143.7" y2="1823.3"/><line x1="319.2" y1="1832.3" x2="319.2" y2="1823.3"/><line x1="494.7" y1="1832.3" x2="494.7" y2="1823.3"/><line x1="670.2" y1="1832.3" x2="670.2" y2="1823.3"/></g>
<g stroke="#000" stroke-width="4"><line x1="231.5" y1="1832.3" x2="231.5" y2="1828.7"/><line x1="406.9" y1="1832.3" x2="406.9" y2="1828.7"/><line x1="582.5" y1="1832.3" x2="582.5" y2="1828.7"/><line x1="758" y1="1832.3" x2="758" y2="1828.7"/></g>
<text transform="translate(143.7 1869.8) scale(0.9524 1)" font-size="35.3" fill="#000" text-anchor="middle" textLength="65.4" lengthAdjust="spacingAndGlyphs" >190</text>
<text transform="translate(319.2 1869.8) scale(0.9524 1)" font-size="35.3" fill="#000" text-anchor="middle" textLength="65.4" lengthAdjust="spacingAndGlyphs" >195</text>
<text transform="translate(494.7 1869.8) scale(0.9524 1)" font-size="35.3" fill="#000" text-anchor="middle" textLength="65.4" lengthAdjust="spacingAndGlyphs" >200</text>
<text transform="translate(670.2 1869.8) scale(0.9524 1)" font-size="35.3" fill="#000" text-anchor="middle" textLength="65.4" lengthAdjust="spacingAndGlyphs" >205</text>
<text transform="translate(845.7 1869.8) scale(0.9524 1)" font-size="35.3" fill="#000" text-anchor="middle" textLength="65.4" lengthAdjust="spacingAndGlyphs" >210</text>
<text transform="translate(460.3 1904.6) scale(0.9524 1)" font-size="36.5" fill="#000" text-anchor="middle" textLength="392.7" lengthAdjust="spacingAndGlyphs" >Photon energy (eV)</text>
<text transform="translate(55.3 1556.5) scale(1.1 1) rotate(-90) scale(0.9524 1)" font-size="39" fill="#000" text-anchor="middle" >Intensity (a.u.)</text>
<text transform="translate(2 1340.5) scale(1.0000 1)" font-size="76" fill="#000" text-anchor="start" >e</text>
<text transform="translate(83 1316.3) scale(0.9524 1)" font-size="35.7" fill="#000" text-anchor="start" textLength="281.9" lengthAdjust="spacingAndGlyphs" >B-C<tspan font-size="23.6" dy="9.6">3</tspan><tspan dy="-9.6">N</tspan><tspan font-size="23.6" dy="9.6">4</tspan><tspan dy="-9.6">-16 MPa</tspan></text>
<text transform="translate(839.7 1317.7) scale(0.9524 1)" font-size="35.7" fill="#000" text-anchor="end" textLength="177.1" lengthAdjust="spacingAndGlyphs" >B K-edge</text>
<text transform="translate(280.6 1469.5) scale(0.9524 1)" font-size="29.5" fill="#000" text-anchor="middle" textLength="60.6" lengthAdjust="spacingAndGlyphs" >B-N</text>
<text transform="translate(375.4 1424.7) scale(0.9524 1)" font-size="29.5" fill="#000" text-anchor="middle" textLength="62.3" lengthAdjust="spacingAndGlyphs" >B-O</text>
<filter id="bl" x="-5%" y="-5%" width="110%" height="110%"><feGaussianBlur stdDeviation="0.55"/></filter><g filter="url(#bl)">
<clipPath id="cf"><rect x="937.7" y="1279" width="776.5999999999999" height="559"/></clipPath><g clip-path="url(#cf)">
<path d="M935.3 1819.8 C936.4 1819.6 930.8 1820.9 939.3 1819 C947.9 1817.2 949.9 1817.9 967.3 1812.9 C984.7 1807.9 984 1807.5 1004.6 1800.4 C1025.2 1793.2 1023.3 1794.4 1044.6 1786.2 C1065.9 1778.1 1064 1777.8 1084.6 1769.7 C1105.2 1761.6 1102 1763 1121.9 1755.8 C1141.8 1748.7 1140.7 1748.5 1159.2 1743.1 C1177.7 1737.7 1174.1 1739 1191.2 1735.6 C1208.2 1732.2 1207.5 1733.1 1223.1 1730.3 C1238.8 1727.4 1239.1 1727.2 1249.8 1724.9 C1260.4 1722.7 1256.7 1724.4 1263.1 1721.7 C1269.5 1719.1 1269.1 1720.1 1273.8 1715.1 C1278.5 1710.1 1277.4 1713.4 1280.7 1703.1 C1284 1692.8 1283.5 1697.8 1286 1676.4 C1288.5 1655.1 1288.1 1655.1 1290 1623.1 C1291.9 1591.2 1291.7 1592 1293.2 1556.5 C1294.7 1521 1294.5 1514.8 1295.6 1489.9 C1296.8 1465 1296.6 1472.3 1297.5 1463.2 C1298.4 1454.1 1298.1 1457.5 1299.1 1455.8 C1300.1 1454.1 1300.2 1455.8 1301.2 1456.8 C1302.3 1457.9 1302 1460.3 1303.1 1459.8 C1304.2 1459.2 1303.9 1457 1305.2 1454.7 C1306.5 1452.4 1306.5 1451.1 1307.9 1451.3 C1309.2 1451.4 1309.2 1451.3 1310.3 1455.2 C1311.3 1459.2 1310.8 1453.1 1311.9 1465.9 C1312.9 1478.7 1312.4 1475.5 1314.3 1503.2 C1316.2 1530.9 1316.4 1534.3 1319.1 1569.8 C1321.8 1605.4 1322.6 1611.6 1324.4 1636.5 C1326.2 1661.3 1324.5 1647.5 1326 1663.1 C1327.5 1678.7 1327.5 1681.6 1330 1695.1 C1332.5 1708.6 1332.5 1705.2 1335.3 1713.7 C1338.2 1722.3 1337.8 1722 1340.6 1727.1 C1343.5 1732.2 1343.1 1730.9 1346 1732.9 C1348.8 1734.9 1348.5 1734.7 1351.3 1734.5 C1354.1 1734.4 1353.1 1733.1 1356.6 1732.4 C1360.2 1731.7 1359.3 1730.8 1364.6 1731.9 C1370 1732.9 1369.9 1735.2 1376.6 1736.4 C1383.4 1737.6 1382.8 1736.9 1389.9 1736.4 C1397.1 1735.9 1396.9 1734.7 1403.3 1734.5 C1409.7 1734.3 1408.2 1734.2 1413.9 1735.6 C1419.6 1737 1420 1736.4 1424.6 1739.9 C1429.2 1743.3 1427.7 1742.9 1431.3 1748.4 C1434.8 1753.9 1434 1755.4 1437.9 1760.4 C1441.8 1765.4 1440.2 1764.2 1445.9 1767 C1451.6 1769.9 1450 1768.8 1459.2 1771 C1468.5 1773.3 1466.3 1773.1 1480.6 1775.6 C1494.8 1778.1 1494.1 1777.9 1512.5 1780.4 C1531 1782.9 1529.2 1782.6 1549.8 1784.9 C1570.4 1787.2 1568.5 1786.9 1589.8 1788.9 C1611.1 1790.9 1609.9 1790.7 1629.8 1792.4 C1649.7 1794 1650.2 1794 1664.4 1795 C1678.6 1796.1 1676 1796.4 1683.1 1796.4 C1690.2 1796.4 1686.8 1796.4 1691.1 1795 C1695.3 1793.6 1695.2 1792.7 1699.1 1791 C1703 1789.4 1701.8 1789.5 1705.7 1788.9 C1709.6 1788.3 1711.6 1788.9 1713.7 1788.9" fill="none" stroke="#ee0000" stroke-width="7.3" stroke-linejoin="round" />
</g>
<rect x="937.7" y="1279" width="776.6" height="559" fill="none" stroke="#000" stroke-width="4.5"/>
<g stroke="#000" stroke-width="4.4"><line x1="1067.1" y1="1836" x2="1067.1" y2="1827"/><line x1="1196.6" y1="1836" x2="1196.6" y2="1827"/><line x1="1326" y1="1836" x2="1326" y2="1827"/><line x1="1455.4" y1="1836" x2="1455.4" y2="1827"/><line x1="1584.9" y1="1836" x2="1584.9" y2="1827"/></g>
<g stroke="#000" stroke-width="4"><line x1="1002.4" y1="1836" x2="1002.4" y2="1832.2"/><line x1="1131.8" y1="1836" x2="1131.8" y2="1832.2"/><line x1="1261.3" y1="1836" x2="1261.3" y2="1832.2"/><line x1="1390.7" y1="1836" x2="1390.7" y2="1832.2"/><line x1="1520.2" y1="1836" x2="1520.2" y2="1832.2"/><line x1="1649.6" y1="1836" x2="1649.6" y2="1832.2"/></g>
<text transform="translate(935.7 1869.3) scale(1.0000 1)" font-size="38.1" fill="#0a0a0a" text-anchor="middle" >-60</text>
<text transform="translate(1065.1 1869.3) scale(1.0000 1)" font-size="38.1" fill="#0a0a0a" text-anchor="middle" >-40</text>
<text transform="translate(1194.6 1869.3) scale(1.0000 1)" font-size="38.1" fill="#0a0a0a" text-anchor="middle" >-20</text>
<text transform="translate(1326 1869.3) scale(1.0000 1)" font-size="38.1" fill="#0a0a0a" text-anchor="middle" >0</text>
<text transform="translate(1455.4 1869.3) scale(1.0000 1)" font-size="38.1" fill="#0a0a0a" text-anchor="middle" >20</text>
<text transform="translate(1584.9 1869.3) scale(1.0000 1)" font-size="38.1" fill="#0a0a0a" text-anchor="middle" >40</text>
<text transform="translate(1714.3 1869.3) scale(1.0000 1)" font-size="38.1" fill="#0a0a0a" text-anchor="middle" >60</text>
<text transform="translate(1326.4 1903.3) scale(0.9524 1)" font-size="36.5" fill="#0a0a0a" text-anchor="middle" textLength="507.2" lengthAdjust="spacingAndGlyphs" ><tspan font-size="24.1" dy="-13.2">11</tspan><tspan dy="13.2">B Chemical Shift (ppm)</tspan></text>
<text transform="translate(921.2 1533) scale(1.15 1) rotate(-90) scale(0.9524 1)" font-size="39.2" fill="#111" text-anchor="middle" >Intensity (a.u.)</text>
<text transform="translate(872 1351) scale(1.0000 1)" font-size="74" fill="#000" text-anchor="start" >f</text>
<text transform="translate(943.4 1313.6) scale(0.9524 1)" font-size="35.7" fill="#111" text-anchor="start" textLength="283.5" lengthAdjust="spacingAndGlyphs" >B-C<tspan font-size="23.6" dy="9.6">3</tspan><tspan dy="-9.6">N</tspan><tspan font-size="23.6" dy="9.6">4</tspan><tspan dy="-9.6">-16 MPa</tspan></text>
<ellipse cx="1301.4" cy="1458.6" rx="34.7" ry="23" fill="none" stroke="#3a559b" stroke-width="2.5" stroke-dasharray="2.4 2.9"/>
<ellipse cx="1386.7" cy="1728" rx="46" ry="29.9" fill="none" stroke="#3a559b" stroke-width="2.5" stroke-dasharray="2.4 2.9"/>
<g stroke="#0a0a0a" stroke-width="2.3" fill="none"><line x1="1296.1" y1="1351.7" x2="1296.1" y2="1391.3"/><line x1="1281.6" y1="1407.4" x2="1243.7" y2="1426.9" stroke-dasharray="6.5 2.5"/><line x1="1309.9" y1="1406.9" x2="1347.1" y2="1426.9"/></g>
<text transform="translate(1307.9 1349.4) scale(1.0476 1)" font-size="29.9" fill="#0a0a0a" text-anchor="middle" >OH</text>
<text transform="translate(1295.4 1415.4) scale(1.0476 1)" font-size="29.9" fill="#0a0a0a" text-anchor="middle" >B</text>
<text transform="translate(1373 1449.4) scale(1.0476 1)" font-size="29.9" fill="#0a0a0a" text-anchor="middle" >OH</text>
<g stroke="#0a0a0a" stroke-width="2.3" fill="none"><line x1="1433.8" y1="1598.6" x2="1433.8" y2="1638.4"/><line x1="1417.9" y1="1655.6" x2="1382.1" y2="1674"/><line x1="1447.6" y1="1654.5" x2="1485.1" y2="1673.6"/></g>
<text transform="translate(1445.6 1595.4) scale(1.0476 1)" font-size="29.9" fill="#0a0a0a" text-anchor="middle" >OH</text>
<text transform="translate(1432.5 1663.2) scale(1.0476 1)" font-size="29.9" fill="#0a0a0a" text-anchor="middle" >B</text>
<text transform="translate(1369.1 1695.9) scale(1.0476 1)" font-size="29.9" fill="#0a0a0a" text-anchor="middle" >N</text>
<text transform="translate(1499 1695.9) scale(1.0476 1)" font-size="29.9" fill="#0a0a0a" text-anchor="middle" >N</text>
</g>
</svg></body></html>
